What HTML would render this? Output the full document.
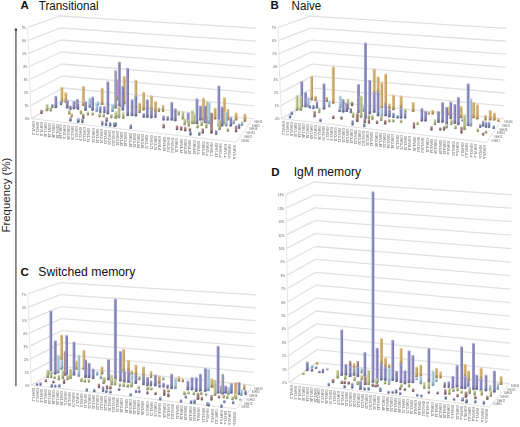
<!DOCTYPE html>
<html><head><meta charset="utf-8"><style>
html,body{margin:0;padding:0;background:#fff;}
svg{display:block;font-family:"Liberation Sans",sans-serif;}
</style></head><body>
<svg width="520" height="427" viewBox="0 0 520 427">
<rect width="520" height="427" fill="#fff"/>
<defs><linearGradient id="gP" x1="0" x2="1" y1="0" y2="0"><stop offset="0" stop-color="#aaa8d4"/><stop offset="0.45" stop-color="#8c8ac0"/><stop offset="1" stop-color="#76749e"/></linearGradient><linearGradient id="gO" x1="0" x2="1" y1="0" y2="0"><stop offset="0" stop-color="#e4c890"/><stop offset="0.45" stop-color="#d2ae6e"/><stop offset="1" stop-color="#b8965a"/></linearGradient><linearGradient id="gG" x1="0" x2="1" y1="0" y2="0"><stop offset="0" stop-color="#d4daa8"/><stop offset="0.45" stop-color="#bcc48c"/><stop offset="1" stop-color="#a2aa74"/></linearGradient><linearGradient id="gC" x1="0" x2="1" y1="0" y2="0"><stop offset="0" stop-color="#c6deea"/><stop offset="0.45" stop-color="#a8c8d8"/><stop offset="1" stop-color="#8cb0c4"/></linearGradient><linearGradient id="gB" x1="0" x2="1" y1="0" y2="0"><stop offset="0" stop-color="#a8b0d4"/><stop offset="0.45" stop-color="#8692bc"/><stop offset="1" stop-color="#6c7aa0"/></linearGradient><linearGradient id="gR" x1="0" x2="1" y1="0" y2="0"><stop offset="0" stop-color="#c4a0a0"/><stop offset="0.45" stop-color="#a88484"/><stop offset="1" stop-color="#886464"/></linearGradient><linearGradient id="gY" x1="0" x2="1" y1="0" y2="0"><stop offset="0" stop-color="#bcbac6"/><stop offset="0.45" stop-color="#a4a2b2"/><stop offset="1" stop-color="#8c8a9a"/></linearGradient><linearGradient id="shade" x1="0" x2="0" y1="0" y2="1"><stop offset="0" stop-color="#282838" stop-opacity="0"/><stop offset="1" stop-color="#282838" stop-opacity="0.28"/></linearGradient><filter id="soft" x="-5%" y="-5%" width="110%" height="110%"><feGaussianBlur stdDeviation="0.45"/></filter></defs>
<g filter="url(#soft)"><line x1="31.20" y1="118.60" x2="63.20" y2="100.00" stroke="#e1e1e1" stroke-width="1.3" opacity="1"/>
<line x1="63.20" y1="100.00" x2="254.20" y2="118.80" stroke="#e1e1e1" stroke-width="1.3" opacity="1"/>
<text x="29.20" y="120.20" font-size="4.0" fill="#555" text-anchor="end" textLength="4.3" lengthAdjust="spacingAndGlyphs">0%</text>
<line x1="30.70" y1="105.57" x2="62.71" y2="88.00" stroke="#e1e1e1" stroke-width="1.3" opacity="1"/>
<line x1="62.71" y1="88.00" x2="254.44" y2="105.86" stroke="#e1e1e1" stroke-width="1.3" opacity="1"/>
<text x="28.70" y="107.17" font-size="4.0" fill="#555" text-anchor="end" textLength="4.3" lengthAdjust="spacingAndGlyphs">1%</text>
<line x1="30.20" y1="92.54" x2="62.23" y2="76.00" stroke="#e1e1e1" stroke-width="1.3" opacity="1"/>
<line x1="62.23" y1="76.00" x2="254.69" y2="92.91" stroke="#e1e1e1" stroke-width="1.3" opacity="1"/>
<text x="28.20" y="94.14" font-size="4.0" fill="#555" text-anchor="end" textLength="4.3" lengthAdjust="spacingAndGlyphs">2%</text>
<line x1="29.70" y1="79.51" x2="61.74" y2="64.00" stroke="#e1e1e1" stroke-width="1.3" opacity="1"/>
<line x1="61.74" y1="64.00" x2="254.93" y2="79.97" stroke="#e1e1e1" stroke-width="1.3" opacity="1"/>
<text x="27.70" y="81.11" font-size="4.0" fill="#555" text-anchor="end" textLength="4.3" lengthAdjust="spacingAndGlyphs">3%</text>
<line x1="29.20" y1="66.49" x2="61.26" y2="52.00" stroke="#e1e1e1" stroke-width="1.3" opacity="1"/>
<line x1="61.26" y1="52.00" x2="255.17" y2="67.03" stroke="#e1e1e1" stroke-width="1.3" opacity="1"/>
<text x="27.20" y="68.09" font-size="4.0" fill="#555" text-anchor="end" textLength="4.3" lengthAdjust="spacingAndGlyphs">4%</text>
<line x1="28.70" y1="53.46" x2="60.77" y2="40.00" stroke="#e1e1e1" stroke-width="1.3" opacity="1"/>
<line x1="60.77" y1="40.00" x2="255.41" y2="54.09" stroke="#e1e1e1" stroke-width="1.3" opacity="1"/>
<text x="26.70" y="55.06" font-size="4.0" fill="#555" text-anchor="end" textLength="4.3" lengthAdjust="spacingAndGlyphs">5%</text>
<line x1="28.20" y1="40.43" x2="60.29" y2="28.00" stroke="#e1e1e1" stroke-width="1.3" opacity="1"/>
<line x1="60.29" y1="28.00" x2="255.66" y2="41.14" stroke="#e1e1e1" stroke-width="1.3" opacity="1"/>
<text x="26.20" y="42.03" font-size="4.0" fill="#555" text-anchor="end" textLength="4.3" lengthAdjust="spacingAndGlyphs">6%</text>
<line x1="27.70" y1="27.40" x2="59.80" y2="16.00" stroke="#e1e1e1" stroke-width="1.3" opacity="1"/>
<line x1="59.80" y1="16.00" x2="255.90" y2="28.20" stroke="#e1e1e1" stroke-width="1.3" opacity="1"/>
<text x="25.70" y="29.00" font-size="4.0" fill="#555" text-anchor="end" textLength="4.3" lengthAdjust="spacingAndGlyphs">7%</text>
<line x1="31.20" y1="118.60" x2="27.70" y2="27.40" stroke="#e4e4e4" stroke-width="0.9" opacity="1"/>
<line x1="31.20" y1="118.60" x2="236.40" y2="142.30" stroke="#d8d8d8" stroke-width="0.8" opacity="1"/>
<line x1="236.40" y1="142.30" x2="251.00" y2="121.00" stroke="#d8d8d8" stroke-width="0.8" opacity="1"/>
<text x="0" y="0" font-size="2.9" font-weight="bold" fill="#888" textLength="13.8" lengthAdjust="spacingAndGlyphs" transform="translate(32.15,121.20) rotate(90)">IGHV1-2</text>
<text x="0" y="0" font-size="2.9" font-weight="bold" fill="#888" textLength="13.8" lengthAdjust="spacingAndGlyphs" transform="translate(36.01,121.66) rotate(90)">IGHV1-3</text>
<text x="0" y="0" font-size="2.9" font-weight="bold" fill="#888" textLength="13.8" lengthAdjust="spacingAndGlyphs" transform="translate(39.89,122.12) rotate(90)">IGHV1-8</text>
<text x="0" y="0" font-size="2.9" font-weight="bold" fill="#888" textLength="14.2" lengthAdjust="spacingAndGlyphs" transform="translate(43.78,122.59) rotate(90)">IGHV1-18</text>
<text x="0" y="0" font-size="2.9" font-weight="bold" fill="#888" textLength="14.2" lengthAdjust="spacingAndGlyphs" transform="translate(47.69,123.05) rotate(90)">IGHV1-24</text>
<text x="0" y="0" font-size="2.9" font-weight="bold" fill="#888" textLength="14.2" lengthAdjust="spacingAndGlyphs" transform="translate(51.61,123.52) rotate(90)">IGHV1-46</text>
<text x="0" y="0" font-size="2.9" font-weight="bold" fill="#888" textLength="14.2" lengthAdjust="spacingAndGlyphs" transform="translate(55.54,123.99) rotate(90)">IGHV1-58</text>
<text x="0" y="0" font-size="2.9" font-weight="bold" fill="#888" textLength="14.2" lengthAdjust="spacingAndGlyphs" transform="translate(59.48,124.45) rotate(90)">IGHV1-69</text>
<text x="0" y="0" font-size="2.9" font-weight="bold" fill="#888" textLength="13.8" lengthAdjust="spacingAndGlyphs" transform="translate(63.44,124.93) rotate(90)">IGHV2-5</text>
<text x="0" y="0" font-size="2.9" font-weight="bold" fill="#888" textLength="14.2" lengthAdjust="spacingAndGlyphs" transform="translate(67.41,125.40) rotate(90)">IGHV2-26</text>
<text x="0" y="0" font-size="2.9" font-weight="bold" fill="#888" textLength="14.2" lengthAdjust="spacingAndGlyphs" transform="translate(71.40,125.87) rotate(90)">IGHV2-70</text>
<text x="0" y="0" font-size="2.9" font-weight="bold" fill="#888" textLength="13.8" lengthAdjust="spacingAndGlyphs" transform="translate(75.40,126.35) rotate(90)">IGHV3-7</text>
<text x="0" y="0" font-size="2.9" font-weight="bold" fill="#888" textLength="13.8" lengthAdjust="spacingAndGlyphs" transform="translate(79.41,126.83) rotate(90)">IGHV3-9</text>
<text x="0" y="0" font-size="2.9" font-weight="bold" fill="#888" textLength="14.2" lengthAdjust="spacingAndGlyphs" transform="translate(83.44,127.31) rotate(90)">IGHV3-11</text>
<text x="0" y="0" font-size="2.9" font-weight="bold" fill="#888" textLength="14.2" lengthAdjust="spacingAndGlyphs" transform="translate(87.48,127.79) rotate(90)">IGHV3-13</text>
<text x="0" y="0" font-size="2.9" font-weight="bold" fill="#888" textLength="14.2" lengthAdjust="spacingAndGlyphs" transform="translate(91.53,128.27) rotate(90)">IGHV3-15</text>
<text x="0" y="0" font-size="2.9" font-weight="bold" fill="#888" textLength="14.2" lengthAdjust="spacingAndGlyphs" transform="translate(95.60,128.76) rotate(90)">IGHV3-20</text>
<text x="0" y="0" font-size="2.9" font-weight="bold" fill="#888" textLength="14.2" lengthAdjust="spacingAndGlyphs" transform="translate(99.68,129.24) rotate(90)">IGHV3-21</text>
<text x="0" y="0" font-size="2.9" font-weight="bold" fill="#888" textLength="14.2" lengthAdjust="spacingAndGlyphs" transform="translate(103.77,129.73) rotate(90)">IGHV3-23</text>
<text x="0" y="0" font-size="2.9" font-weight="bold" fill="#888" textLength="14.2" lengthAdjust="spacingAndGlyphs" transform="translate(107.88,130.22) rotate(90)">IGHV3-30</text>
<text x="0" y="0" font-size="2.9" font-weight="bold" fill="#888" textLength="15.0" lengthAdjust="spacingAndGlyphs" transform="translate(112.00,130.71) rotate(90)">IGHV3-30-3</text>
<text x="0" y="0" font-size="2.9" font-weight="bold" fill="#888" textLength="14.2" lengthAdjust="spacingAndGlyphs" transform="translate(116.13,131.20) rotate(90)">IGHV3-33</text>
<text x="0" y="0" font-size="2.9" font-weight="bold" fill="#888" textLength="14.2" lengthAdjust="spacingAndGlyphs" transform="translate(120.28,131.69) rotate(90)">IGHV3-43</text>
<text x="0" y="0" font-size="2.9" font-weight="bold" fill="#888" textLength="14.2" lengthAdjust="spacingAndGlyphs" transform="translate(124.44,132.19) rotate(90)">IGHV3-48</text>
<text x="0" y="0" font-size="2.9" font-weight="bold" fill="#888" textLength="14.2" lengthAdjust="spacingAndGlyphs" transform="translate(128.62,132.69) rotate(90)">IGHV3-49</text>
<text x="0" y="0" font-size="2.9" font-weight="bold" fill="#888" textLength="14.2" lengthAdjust="spacingAndGlyphs" transform="translate(132.80,133.19) rotate(90)">IGHV3-53</text>
<text x="0" y="0" font-size="2.9" font-weight="bold" fill="#888" textLength="14.2" lengthAdjust="spacingAndGlyphs" transform="translate(137.01,133.69) rotate(90)">IGHV3-64</text>
<text x="0" y="0" font-size="2.9" font-weight="bold" fill="#888" textLength="14.2" lengthAdjust="spacingAndGlyphs" transform="translate(141.22,134.19) rotate(90)">IGHV3-66</text>
<text x="0" y="0" font-size="2.9" font-weight="bold" fill="#888" textLength="14.2" lengthAdjust="spacingAndGlyphs" transform="translate(145.45,134.69) rotate(90)">IGHV3-72</text>
<text x="0" y="0" font-size="2.9" font-weight="bold" fill="#888" textLength="14.2" lengthAdjust="spacingAndGlyphs" transform="translate(149.69,135.20) rotate(90)">IGHV3-73</text>
<text x="0" y="0" font-size="2.9" font-weight="bold" fill="#888" textLength="14.2" lengthAdjust="spacingAndGlyphs" transform="translate(153.95,135.70) rotate(90)">IGHV3-74</text>
<text x="0" y="0" font-size="2.9" font-weight="bold" fill="#888" textLength="13.8" lengthAdjust="spacingAndGlyphs" transform="translate(158.22,136.21) rotate(90)">IGHV4-4</text>
<text x="0" y="0" font-size="2.9" font-weight="bold" fill="#888" textLength="14.2" lengthAdjust="spacingAndGlyphs" transform="translate(162.50,136.72) rotate(90)">IGHV4-28</text>
<text x="0" y="0" font-size="2.9" font-weight="bold" fill="#888" textLength="15.0" lengthAdjust="spacingAndGlyphs" transform="translate(166.79,137.23) rotate(90)">IGHV4-30-2</text>
<text x="0" y="0" font-size="2.9" font-weight="bold" fill="#888" textLength="15.0" lengthAdjust="spacingAndGlyphs" transform="translate(171.10,137.75) rotate(90)">IGHV4-30-4</text>
<text x="0" y="0" font-size="2.9" font-weight="bold" fill="#888" textLength="14.2" lengthAdjust="spacingAndGlyphs" transform="translate(175.43,138.26) rotate(90)">IGHV4-31</text>
<text x="0" y="0" font-size="2.9" font-weight="bold" fill="#888" textLength="14.2" lengthAdjust="spacingAndGlyphs" transform="translate(179.76,138.78) rotate(90)">IGHV4-34</text>
<text x="0" y="0" font-size="2.9" font-weight="bold" fill="#888" textLength="14.2" lengthAdjust="spacingAndGlyphs" transform="translate(184.11,139.30) rotate(90)">IGHV4-39</text>
<text x="0" y="0" font-size="2.9" font-weight="bold" fill="#888" textLength="14.2" lengthAdjust="spacingAndGlyphs" transform="translate(188.48,139.82) rotate(90)">IGHV4-59</text>
<text x="0" y="0" font-size="2.9" font-weight="bold" fill="#888" textLength="14.2" lengthAdjust="spacingAndGlyphs" transform="translate(192.85,140.34) rotate(90)">IGHV4-61</text>
<text x="0" y="0" font-size="2.9" font-weight="bold" fill="#888" textLength="13.8" lengthAdjust="spacingAndGlyphs" transform="translate(197.24,140.86) rotate(90)">IGHV4-b</text>
<text x="0" y="0" font-size="2.9" font-weight="bold" fill="#888" textLength="14.2" lengthAdjust="spacingAndGlyphs" transform="translate(201.65,141.38) rotate(90)">IGHV5-51</text>
<text x="0" y="0" font-size="2.9" font-weight="bold" fill="#888" textLength="13.8" lengthAdjust="spacingAndGlyphs" transform="translate(206.06,141.91) rotate(90)">IGHV5-a</text>
<text x="0" y="0" font-size="2.9" font-weight="bold" fill="#888" textLength="13.8" lengthAdjust="spacingAndGlyphs" transform="translate(210.49,142.44) rotate(90)">IGHV6-1</text>
<text x="0" y="0" font-size="2.9" font-weight="bold" fill="#888" textLength="14.6" lengthAdjust="spacingAndGlyphs" transform="translate(214.94,142.97) rotate(90)">IGHV7-4-1</text>
<text x="0" y="0" font-size="2.9" font-weight="bold" fill="#888" textLength="13.8" lengthAdjust="spacingAndGlyphs" transform="translate(219.40,143.50) rotate(90)">IGHV3-d</text>
<text x="0" y="0" font-size="2.9" font-weight="bold" fill="#888" textLength="13.8" lengthAdjust="spacingAndGlyphs" transform="translate(223.87,144.03) rotate(90)">IGHV1-c</text>
<text x="0" y="0" font-size="2.9" font-weight="bold" fill="#888" textLength="13.8" lengthAdjust="spacingAndGlyphs" transform="translate(228.35,144.56) rotate(90)">IGHV3-h</text>
<text x="0" y="0" font-size="2.9" font-weight="bold" fill="#888" textLength="13.8" lengthAdjust="spacingAndGlyphs" transform="translate(232.85,145.10) rotate(90)">IGHV4-h</text>
<text x="241.40" y="141.70" font-size="3.0" fill="#666" textLength="8.2" lengthAdjust="spacingAndGlyphs">IGHJ1</text>
<text x="243.96" y="137.94" font-size="3.0" fill="#666" textLength="8.2" lengthAdjust="spacingAndGlyphs">IGHJ2</text>
<text x="246.52" y="134.18" font-size="3.0" fill="#666" textLength="8.2" lengthAdjust="spacingAndGlyphs">IGHJ3</text>
<text x="249.08" y="130.42" font-size="3.0" fill="#666" textLength="8.2" lengthAdjust="spacingAndGlyphs">IGHJ4</text>
<text x="251.64" y="126.66" font-size="3.0" fill="#666" textLength="8.2" lengthAdjust="spacingAndGlyphs">IGHJ5</text>
<text x="254.20" y="122.90" font-size="3.0" fill="#666" textLength="8.2" lengthAdjust="spacingAndGlyphs">IGHJ6</text>
<line x1="281.40" y1="118.70" x2="313.40" y2="100.10" stroke="#e1e1e1" stroke-width="1.3" opacity="1"/>
<line x1="313.40" y1="100.10" x2="504.40" y2="118.90" stroke="#e1e1e1" stroke-width="1.3" opacity="1"/>
<text x="279.40" y="120.30" font-size="4.0" fill="#555" text-anchor="end" textLength="4.3" lengthAdjust="spacingAndGlyphs">0%</text>
<line x1="280.90" y1="105.67" x2="312.91" y2="88.10" stroke="#e1e1e1" stroke-width="1.3" opacity="1"/>
<line x1="312.91" y1="88.10" x2="504.64" y2="105.96" stroke="#e1e1e1" stroke-width="1.3" opacity="1"/>
<text x="278.90" y="107.27" font-size="4.0" fill="#555" text-anchor="end" textLength="4.3" lengthAdjust="spacingAndGlyphs">1%</text>
<line x1="280.40" y1="92.64" x2="312.43" y2="76.10" stroke="#e1e1e1" stroke-width="1.3" opacity="1"/>
<line x1="312.43" y1="76.10" x2="504.89" y2="93.01" stroke="#e1e1e1" stroke-width="1.3" opacity="1"/>
<text x="278.40" y="94.24" font-size="4.0" fill="#555" text-anchor="end" textLength="4.3" lengthAdjust="spacingAndGlyphs">2%</text>
<line x1="279.90" y1="79.61" x2="311.94" y2="64.10" stroke="#e1e1e1" stroke-width="1.3" opacity="1"/>
<line x1="311.94" y1="64.10" x2="505.13" y2="80.07" stroke="#e1e1e1" stroke-width="1.3" opacity="1"/>
<text x="277.90" y="81.21" font-size="4.0" fill="#555" text-anchor="end" textLength="4.3" lengthAdjust="spacingAndGlyphs">3%</text>
<line x1="279.40" y1="66.59" x2="311.46" y2="52.10" stroke="#e1e1e1" stroke-width="1.3" opacity="1"/>
<line x1="311.46" y1="52.10" x2="505.37" y2="67.13" stroke="#e1e1e1" stroke-width="1.3" opacity="1"/>
<text x="277.40" y="68.19" font-size="4.0" fill="#555" text-anchor="end" textLength="4.3" lengthAdjust="spacingAndGlyphs">4%</text>
<line x1="278.90" y1="53.56" x2="310.97" y2="40.10" stroke="#e1e1e1" stroke-width="1.3" opacity="1"/>
<line x1="310.97" y1="40.10" x2="505.61" y2="54.19" stroke="#e1e1e1" stroke-width="1.3" opacity="1"/>
<text x="276.90" y="55.16" font-size="4.0" fill="#555" text-anchor="end" textLength="4.3" lengthAdjust="spacingAndGlyphs">5%</text>
<line x1="278.40" y1="40.53" x2="310.49" y2="28.10" stroke="#e1e1e1" stroke-width="1.3" opacity="1"/>
<line x1="310.49" y1="28.10" x2="505.86" y2="41.24" stroke="#e1e1e1" stroke-width="1.3" opacity="1"/>
<text x="276.40" y="42.13" font-size="4.0" fill="#555" text-anchor="end" textLength="4.3" lengthAdjust="spacingAndGlyphs">6%</text>
<line x1="277.90" y1="27.50" x2="310.00" y2="16.10" stroke="#e1e1e1" stroke-width="1.3" opacity="1"/>
<line x1="310.00" y1="16.10" x2="506.10" y2="28.30" stroke="#e1e1e1" stroke-width="1.3" opacity="1"/>
<text x="275.90" y="29.10" font-size="4.0" fill="#555" text-anchor="end" textLength="4.3" lengthAdjust="spacingAndGlyphs">7%</text>
<line x1="281.40" y1="118.70" x2="277.90" y2="27.50" stroke="#e4e4e4" stroke-width="0.9" opacity="1"/>
<line x1="281.40" y1="118.70" x2="486.60" y2="142.40" stroke="#d8d8d8" stroke-width="0.8" opacity="1"/>
<line x1="486.60" y1="142.40" x2="501.20" y2="121.10" stroke="#d8d8d8" stroke-width="0.8" opacity="1"/>
<text x="0" y="0" font-size="2.9" font-weight="bold" fill="#888" textLength="13.8" lengthAdjust="spacingAndGlyphs" transform="translate(282.35,121.30) rotate(90)">IGHV1-2</text>
<text x="0" y="0" font-size="2.9" font-weight="bold" fill="#888" textLength="13.8" lengthAdjust="spacingAndGlyphs" transform="translate(286.21,121.76) rotate(90)">IGHV1-3</text>
<text x="0" y="0" font-size="2.9" font-weight="bold" fill="#888" textLength="13.8" lengthAdjust="spacingAndGlyphs" transform="translate(290.09,122.22) rotate(90)">IGHV1-8</text>
<text x="0" y="0" font-size="2.9" font-weight="bold" fill="#888" textLength="14.2" lengthAdjust="spacingAndGlyphs" transform="translate(293.98,122.69) rotate(90)">IGHV1-18</text>
<text x="0" y="0" font-size="2.9" font-weight="bold" fill="#888" textLength="14.2" lengthAdjust="spacingAndGlyphs" transform="translate(297.89,123.15) rotate(90)">IGHV1-24</text>
<text x="0" y="0" font-size="2.9" font-weight="bold" fill="#888" textLength="14.2" lengthAdjust="spacingAndGlyphs" transform="translate(301.81,123.62) rotate(90)">IGHV1-46</text>
<text x="0" y="0" font-size="2.9" font-weight="bold" fill="#888" textLength="14.2" lengthAdjust="spacingAndGlyphs" transform="translate(305.74,124.09) rotate(90)">IGHV1-58</text>
<text x="0" y="0" font-size="2.9" font-weight="bold" fill="#888" textLength="14.2" lengthAdjust="spacingAndGlyphs" transform="translate(309.68,124.55) rotate(90)">IGHV1-69</text>
<text x="0" y="0" font-size="2.9" font-weight="bold" fill="#888" textLength="13.8" lengthAdjust="spacingAndGlyphs" transform="translate(313.64,125.03) rotate(90)">IGHV2-5</text>
<text x="0" y="0" font-size="2.9" font-weight="bold" fill="#888" textLength="14.2" lengthAdjust="spacingAndGlyphs" transform="translate(317.61,125.50) rotate(90)">IGHV2-26</text>
<text x="0" y="0" font-size="2.9" font-weight="bold" fill="#888" textLength="14.2" lengthAdjust="spacingAndGlyphs" transform="translate(321.60,125.97) rotate(90)">IGHV2-70</text>
<text x="0" y="0" font-size="2.9" font-weight="bold" fill="#888" textLength="13.8" lengthAdjust="spacingAndGlyphs" transform="translate(325.60,126.45) rotate(90)">IGHV3-7</text>
<text x="0" y="0" font-size="2.9" font-weight="bold" fill="#888" textLength="13.8" lengthAdjust="spacingAndGlyphs" transform="translate(329.61,126.93) rotate(90)">IGHV3-9</text>
<text x="0" y="0" font-size="2.9" font-weight="bold" fill="#888" textLength="14.2" lengthAdjust="spacingAndGlyphs" transform="translate(333.64,127.41) rotate(90)">IGHV3-11</text>
<text x="0" y="0" font-size="2.9" font-weight="bold" fill="#888" textLength="14.2" lengthAdjust="spacingAndGlyphs" transform="translate(337.68,127.89) rotate(90)">IGHV3-13</text>
<text x="0" y="0" font-size="2.9" font-weight="bold" fill="#888" textLength="14.2" lengthAdjust="spacingAndGlyphs" transform="translate(341.73,128.37) rotate(90)">IGHV3-15</text>
<text x="0" y="0" font-size="2.9" font-weight="bold" fill="#888" textLength="14.2" lengthAdjust="spacingAndGlyphs" transform="translate(345.80,128.86) rotate(90)">IGHV3-20</text>
<text x="0" y="0" font-size="2.9" font-weight="bold" fill="#888" textLength="14.2" lengthAdjust="spacingAndGlyphs" transform="translate(349.88,129.34) rotate(90)">IGHV3-21</text>
<text x="0" y="0" font-size="2.9" font-weight="bold" fill="#888" textLength="14.2" lengthAdjust="spacingAndGlyphs" transform="translate(353.97,129.83) rotate(90)">IGHV3-23</text>
<text x="0" y="0" font-size="2.9" font-weight="bold" fill="#888" textLength="14.2" lengthAdjust="spacingAndGlyphs" transform="translate(358.08,130.32) rotate(90)">IGHV3-30</text>
<text x="0" y="0" font-size="2.9" font-weight="bold" fill="#888" textLength="15.0" lengthAdjust="spacingAndGlyphs" transform="translate(362.20,130.81) rotate(90)">IGHV3-30-3</text>
<text x="0" y="0" font-size="2.9" font-weight="bold" fill="#888" textLength="14.2" lengthAdjust="spacingAndGlyphs" transform="translate(366.33,131.30) rotate(90)">IGHV3-33</text>
<text x="0" y="0" font-size="2.9" font-weight="bold" fill="#888" textLength="14.2" lengthAdjust="spacingAndGlyphs" transform="translate(370.48,131.79) rotate(90)">IGHV3-43</text>
<text x="0" y="0" font-size="2.9" font-weight="bold" fill="#888" textLength="14.2" lengthAdjust="spacingAndGlyphs" transform="translate(374.64,132.29) rotate(90)">IGHV3-48</text>
<text x="0" y="0" font-size="2.9" font-weight="bold" fill="#888" textLength="14.2" lengthAdjust="spacingAndGlyphs" transform="translate(378.82,132.79) rotate(90)">IGHV3-49</text>
<text x="0" y="0" font-size="2.9" font-weight="bold" fill="#888" textLength="14.2" lengthAdjust="spacingAndGlyphs" transform="translate(383.00,133.29) rotate(90)">IGHV3-53</text>
<text x="0" y="0" font-size="2.9" font-weight="bold" fill="#888" textLength="14.2" lengthAdjust="spacingAndGlyphs" transform="translate(387.21,133.79) rotate(90)">IGHV3-64</text>
<text x="0" y="0" font-size="2.9" font-weight="bold" fill="#888" textLength="14.2" lengthAdjust="spacingAndGlyphs" transform="translate(391.42,134.29) rotate(90)">IGHV3-66</text>
<text x="0" y="0" font-size="2.9" font-weight="bold" fill="#888" textLength="14.2" lengthAdjust="spacingAndGlyphs" transform="translate(395.65,134.79) rotate(90)">IGHV3-72</text>
<text x="0" y="0" font-size="2.9" font-weight="bold" fill="#888" textLength="14.2" lengthAdjust="spacingAndGlyphs" transform="translate(399.89,135.30) rotate(90)">IGHV3-73</text>
<text x="0" y="0" font-size="2.9" font-weight="bold" fill="#888" textLength="14.2" lengthAdjust="spacingAndGlyphs" transform="translate(404.15,135.80) rotate(90)">IGHV3-74</text>
<text x="0" y="0" font-size="2.9" font-weight="bold" fill="#888" textLength="13.8" lengthAdjust="spacingAndGlyphs" transform="translate(408.42,136.31) rotate(90)">IGHV4-4</text>
<text x="0" y="0" font-size="2.9" font-weight="bold" fill="#888" textLength="14.2" lengthAdjust="spacingAndGlyphs" transform="translate(412.70,136.82) rotate(90)">IGHV4-28</text>
<text x="0" y="0" font-size="2.9" font-weight="bold" fill="#888" textLength="15.0" lengthAdjust="spacingAndGlyphs" transform="translate(416.99,137.33) rotate(90)">IGHV4-30-2</text>
<text x="0" y="0" font-size="2.9" font-weight="bold" fill="#888" textLength="15.0" lengthAdjust="spacingAndGlyphs" transform="translate(421.30,137.85) rotate(90)">IGHV4-30-4</text>
<text x="0" y="0" font-size="2.9" font-weight="bold" fill="#888" textLength="14.2" lengthAdjust="spacingAndGlyphs" transform="translate(425.63,138.36) rotate(90)">IGHV4-31</text>
<text x="0" y="0" font-size="2.9" font-weight="bold" fill="#888" textLength="14.2" lengthAdjust="spacingAndGlyphs" transform="translate(429.96,138.88) rotate(90)">IGHV4-34</text>
<text x="0" y="0" font-size="2.9" font-weight="bold" fill="#888" textLength="14.2" lengthAdjust="spacingAndGlyphs" transform="translate(434.31,139.40) rotate(90)">IGHV4-39</text>
<text x="0" y="0" font-size="2.9" font-weight="bold" fill="#888" textLength="14.2" lengthAdjust="spacingAndGlyphs" transform="translate(438.68,139.92) rotate(90)">IGHV4-59</text>
<text x="0" y="0" font-size="2.9" font-weight="bold" fill="#888" textLength="14.2" lengthAdjust="spacingAndGlyphs" transform="translate(443.05,140.44) rotate(90)">IGHV4-61</text>
<text x="0" y="0" font-size="2.9" font-weight="bold" fill="#888" textLength="13.8" lengthAdjust="spacingAndGlyphs" transform="translate(447.44,140.96) rotate(90)">IGHV4-b</text>
<text x="0" y="0" font-size="2.9" font-weight="bold" fill="#888" textLength="14.2" lengthAdjust="spacingAndGlyphs" transform="translate(451.85,141.48) rotate(90)">IGHV5-51</text>
<text x="0" y="0" font-size="2.9" font-weight="bold" fill="#888" textLength="13.8" lengthAdjust="spacingAndGlyphs" transform="translate(456.26,142.01) rotate(90)">IGHV5-a</text>
<text x="0" y="0" font-size="2.9" font-weight="bold" fill="#888" textLength="13.8" lengthAdjust="spacingAndGlyphs" transform="translate(460.69,142.54) rotate(90)">IGHV6-1</text>
<text x="0" y="0" font-size="2.9" font-weight="bold" fill="#888" textLength="14.6" lengthAdjust="spacingAndGlyphs" transform="translate(465.14,143.07) rotate(90)">IGHV7-4-1</text>
<text x="0" y="0" font-size="2.9" font-weight="bold" fill="#888" textLength="13.8" lengthAdjust="spacingAndGlyphs" transform="translate(469.60,143.60) rotate(90)">IGHV3-d</text>
<text x="0" y="0" font-size="2.9" font-weight="bold" fill="#888" textLength="13.8" lengthAdjust="spacingAndGlyphs" transform="translate(474.07,144.13) rotate(90)">IGHV1-c</text>
<text x="0" y="0" font-size="2.9" font-weight="bold" fill="#888" textLength="13.8" lengthAdjust="spacingAndGlyphs" transform="translate(478.55,144.66) rotate(90)">IGHV3-h</text>
<text x="0" y="0" font-size="2.9" font-weight="bold" fill="#888" textLength="13.8" lengthAdjust="spacingAndGlyphs" transform="translate(483.05,145.20) rotate(90)">IGHV4-h</text>
<text x="491.60" y="141.80" font-size="3.0" fill="#666" textLength="8.2" lengthAdjust="spacingAndGlyphs">IGHJ1</text>
<text x="494.16" y="138.04" font-size="3.0" fill="#666" textLength="8.2" lengthAdjust="spacingAndGlyphs">IGHJ2</text>
<text x="496.72" y="134.28" font-size="3.0" fill="#666" textLength="8.2" lengthAdjust="spacingAndGlyphs">IGHJ3</text>
<text x="499.28" y="130.52" font-size="3.0" fill="#666" textLength="8.2" lengthAdjust="spacingAndGlyphs">IGHJ4</text>
<text x="501.84" y="126.76" font-size="3.0" fill="#666" textLength="8.2" lengthAdjust="spacingAndGlyphs">IGHJ5</text>
<text x="504.40" y="123.00" font-size="3.0" fill="#666" textLength="8.2" lengthAdjust="spacingAndGlyphs">IGHJ6</text>
<line x1="31.30" y1="385.20" x2="63.30" y2="366.60" stroke="#e1e1e1" stroke-width="1.3" opacity="1"/>
<line x1="63.30" y1="366.60" x2="254.30" y2="385.40" stroke="#e1e1e1" stroke-width="1.3" opacity="1"/>
<text x="29.30" y="386.80" font-size="4.0" fill="#555" text-anchor="end" textLength="4.3" lengthAdjust="spacingAndGlyphs">0%</text>
<line x1="30.80" y1="372.17" x2="62.81" y2="354.60" stroke="#e1e1e1" stroke-width="1.3" opacity="1"/>
<line x1="62.81" y1="354.60" x2="254.54" y2="372.46" stroke="#e1e1e1" stroke-width="1.3" opacity="1"/>
<text x="28.80" y="373.77" font-size="4.0" fill="#555" text-anchor="end" textLength="4.3" lengthAdjust="spacingAndGlyphs">1%</text>
<line x1="30.30" y1="359.14" x2="62.33" y2="342.60" stroke="#e1e1e1" stroke-width="1.3" opacity="1"/>
<line x1="62.33" y1="342.60" x2="254.79" y2="359.51" stroke="#e1e1e1" stroke-width="1.3" opacity="1"/>
<text x="28.30" y="360.74" font-size="4.0" fill="#555" text-anchor="end" textLength="4.3" lengthAdjust="spacingAndGlyphs">2%</text>
<line x1="29.80" y1="346.11" x2="61.84" y2="330.60" stroke="#e1e1e1" stroke-width="1.3" opacity="1"/>
<line x1="61.84" y1="330.60" x2="255.03" y2="346.57" stroke="#e1e1e1" stroke-width="1.3" opacity="1"/>
<text x="27.80" y="347.71" font-size="4.0" fill="#555" text-anchor="end" textLength="4.3" lengthAdjust="spacingAndGlyphs">3%</text>
<line x1="29.30" y1="333.09" x2="61.36" y2="318.60" stroke="#e1e1e1" stroke-width="1.3" opacity="1"/>
<line x1="61.36" y1="318.60" x2="255.27" y2="333.63" stroke="#e1e1e1" stroke-width="1.3" opacity="1"/>
<text x="27.30" y="334.69" font-size="4.0" fill="#555" text-anchor="end" textLength="4.3" lengthAdjust="spacingAndGlyphs">4%</text>
<line x1="28.80" y1="320.06" x2="60.87" y2="306.60" stroke="#e1e1e1" stroke-width="1.3" opacity="1"/>
<line x1="60.87" y1="306.60" x2="255.51" y2="320.69" stroke="#e1e1e1" stroke-width="1.3" opacity="1"/>
<text x="26.80" y="321.66" font-size="4.0" fill="#555" text-anchor="end" textLength="4.3" lengthAdjust="spacingAndGlyphs">5%</text>
<line x1="28.30" y1="307.03" x2="60.39" y2="294.60" stroke="#e1e1e1" stroke-width="1.3" opacity="1"/>
<line x1="60.39" y1="294.60" x2="255.76" y2="307.74" stroke="#e1e1e1" stroke-width="1.3" opacity="1"/>
<text x="26.30" y="308.63" font-size="4.0" fill="#555" text-anchor="end" textLength="4.3" lengthAdjust="spacingAndGlyphs">6%</text>
<line x1="27.80" y1="294.00" x2="59.90" y2="282.60" stroke="#e1e1e1" stroke-width="1.3" opacity="1"/>
<line x1="59.90" y1="282.60" x2="256.00" y2="294.80" stroke="#e1e1e1" stroke-width="1.3" opacity="1"/>
<text x="25.80" y="295.60" font-size="4.0" fill="#555" text-anchor="end" textLength="4.3" lengthAdjust="spacingAndGlyphs">7%</text>
<line x1="31.30" y1="385.20" x2="27.80" y2="294.00" stroke="#e4e4e4" stroke-width="0.9" opacity="1"/>
<line x1="31.30" y1="385.20" x2="236.50" y2="408.90" stroke="#d8d8d8" stroke-width="0.8" opacity="1"/>
<line x1="236.50" y1="408.90" x2="251.10" y2="387.60" stroke="#d8d8d8" stroke-width="0.8" opacity="1"/>
<text x="0" y="0" font-size="2.9" font-weight="bold" fill="#888" textLength="13.8" lengthAdjust="spacingAndGlyphs" transform="translate(32.25,387.80) rotate(90)">IGHV1-2</text>
<text x="0" y="0" font-size="2.9" font-weight="bold" fill="#888" textLength="13.8" lengthAdjust="spacingAndGlyphs" transform="translate(36.11,388.26) rotate(90)">IGHV1-3</text>
<text x="0" y="0" font-size="2.9" font-weight="bold" fill="#888" textLength="13.8" lengthAdjust="spacingAndGlyphs" transform="translate(39.99,388.72) rotate(90)">IGHV1-8</text>
<text x="0" y="0" font-size="2.9" font-weight="bold" fill="#888" textLength="14.2" lengthAdjust="spacingAndGlyphs" transform="translate(43.88,389.19) rotate(90)">IGHV1-18</text>
<text x="0" y="0" font-size="2.9" font-weight="bold" fill="#888" textLength="14.2" lengthAdjust="spacingAndGlyphs" transform="translate(47.79,389.65) rotate(90)">IGHV1-24</text>
<text x="0" y="0" font-size="2.9" font-weight="bold" fill="#888" textLength="14.2" lengthAdjust="spacingAndGlyphs" transform="translate(51.71,390.12) rotate(90)">IGHV1-46</text>
<text x="0" y="0" font-size="2.9" font-weight="bold" fill="#888" textLength="14.2" lengthAdjust="spacingAndGlyphs" transform="translate(55.64,390.59) rotate(90)">IGHV1-58</text>
<text x="0" y="0" font-size="2.9" font-weight="bold" fill="#888" textLength="14.2" lengthAdjust="spacingAndGlyphs" transform="translate(59.58,391.05) rotate(90)">IGHV1-69</text>
<text x="0" y="0" font-size="2.9" font-weight="bold" fill="#888" textLength="13.8" lengthAdjust="spacingAndGlyphs" transform="translate(63.54,391.53) rotate(90)">IGHV2-5</text>
<text x="0" y="0" font-size="2.9" font-weight="bold" fill="#888" textLength="14.2" lengthAdjust="spacingAndGlyphs" transform="translate(67.51,392.00) rotate(90)">IGHV2-26</text>
<text x="0" y="0" font-size="2.9" font-weight="bold" fill="#888" textLength="14.2" lengthAdjust="spacingAndGlyphs" transform="translate(71.50,392.47) rotate(90)">IGHV2-70</text>
<text x="0" y="0" font-size="2.9" font-weight="bold" fill="#888" textLength="13.8" lengthAdjust="spacingAndGlyphs" transform="translate(75.50,392.95) rotate(90)">IGHV3-7</text>
<text x="0" y="0" font-size="2.9" font-weight="bold" fill="#888" textLength="13.8" lengthAdjust="spacingAndGlyphs" transform="translate(79.51,393.43) rotate(90)">IGHV3-9</text>
<text x="0" y="0" font-size="2.9" font-weight="bold" fill="#888" textLength="14.2" lengthAdjust="spacingAndGlyphs" transform="translate(83.54,393.91) rotate(90)">IGHV3-11</text>
<text x="0" y="0" font-size="2.9" font-weight="bold" fill="#888" textLength="14.2" lengthAdjust="spacingAndGlyphs" transform="translate(87.58,394.39) rotate(90)">IGHV3-13</text>
<text x="0" y="0" font-size="2.9" font-weight="bold" fill="#888" textLength="14.2" lengthAdjust="spacingAndGlyphs" transform="translate(91.63,394.87) rotate(90)">IGHV3-15</text>
<text x="0" y="0" font-size="2.9" font-weight="bold" fill="#888" textLength="14.2" lengthAdjust="spacingAndGlyphs" transform="translate(95.70,395.36) rotate(90)">IGHV3-20</text>
<text x="0" y="0" font-size="2.9" font-weight="bold" fill="#888" textLength="14.2" lengthAdjust="spacingAndGlyphs" transform="translate(99.78,395.84) rotate(90)">IGHV3-21</text>
<text x="0" y="0" font-size="2.9" font-weight="bold" fill="#888" textLength="14.2" lengthAdjust="spacingAndGlyphs" transform="translate(103.87,396.33) rotate(90)">IGHV3-23</text>
<text x="0" y="0" font-size="2.9" font-weight="bold" fill="#888" textLength="14.2" lengthAdjust="spacingAndGlyphs" transform="translate(107.98,396.82) rotate(90)">IGHV3-30</text>
<text x="0" y="0" font-size="2.9" font-weight="bold" fill="#888" textLength="15.0" lengthAdjust="spacingAndGlyphs" transform="translate(112.10,397.31) rotate(90)">IGHV3-30-3</text>
<text x="0" y="0" font-size="2.9" font-weight="bold" fill="#888" textLength="14.2" lengthAdjust="spacingAndGlyphs" transform="translate(116.23,397.80) rotate(90)">IGHV3-33</text>
<text x="0" y="0" font-size="2.9" font-weight="bold" fill="#888" textLength="14.2" lengthAdjust="spacingAndGlyphs" transform="translate(120.38,398.29) rotate(90)">IGHV3-43</text>
<text x="0" y="0" font-size="2.9" font-weight="bold" fill="#888" textLength="14.2" lengthAdjust="spacingAndGlyphs" transform="translate(124.54,398.79) rotate(90)">IGHV3-48</text>
<text x="0" y="0" font-size="2.9" font-weight="bold" fill="#888" textLength="14.2" lengthAdjust="spacingAndGlyphs" transform="translate(128.72,399.29) rotate(90)">IGHV3-49</text>
<text x="0" y="0" font-size="2.9" font-weight="bold" fill="#888" textLength="14.2" lengthAdjust="spacingAndGlyphs" transform="translate(132.90,399.79) rotate(90)">IGHV3-53</text>
<text x="0" y="0" font-size="2.9" font-weight="bold" fill="#888" textLength="14.2" lengthAdjust="spacingAndGlyphs" transform="translate(137.11,400.29) rotate(90)">IGHV3-64</text>
<text x="0" y="0" font-size="2.9" font-weight="bold" fill="#888" textLength="14.2" lengthAdjust="spacingAndGlyphs" transform="translate(141.32,400.79) rotate(90)">IGHV3-66</text>
<text x="0" y="0" font-size="2.9" font-weight="bold" fill="#888" textLength="14.2" lengthAdjust="spacingAndGlyphs" transform="translate(145.55,401.29) rotate(90)">IGHV3-72</text>
<text x="0" y="0" font-size="2.9" font-weight="bold" fill="#888" textLength="14.2" lengthAdjust="spacingAndGlyphs" transform="translate(149.79,401.80) rotate(90)">IGHV3-73</text>
<text x="0" y="0" font-size="2.9" font-weight="bold" fill="#888" textLength="14.2" lengthAdjust="spacingAndGlyphs" transform="translate(154.05,402.30) rotate(90)">IGHV3-74</text>
<text x="0" y="0" font-size="2.9" font-weight="bold" fill="#888" textLength="13.8" lengthAdjust="spacingAndGlyphs" transform="translate(158.32,402.81) rotate(90)">IGHV4-4</text>
<text x="0" y="0" font-size="2.9" font-weight="bold" fill="#888" textLength="14.2" lengthAdjust="spacingAndGlyphs" transform="translate(162.60,403.32) rotate(90)">IGHV4-28</text>
<text x="0" y="0" font-size="2.9" font-weight="bold" fill="#888" textLength="15.0" lengthAdjust="spacingAndGlyphs" transform="translate(166.89,403.83) rotate(90)">IGHV4-30-2</text>
<text x="0" y="0" font-size="2.9" font-weight="bold" fill="#888" textLength="15.0" lengthAdjust="spacingAndGlyphs" transform="translate(171.20,404.35) rotate(90)">IGHV4-30-4</text>
<text x="0" y="0" font-size="2.9" font-weight="bold" fill="#888" textLength="14.2" lengthAdjust="spacingAndGlyphs" transform="translate(175.53,404.86) rotate(90)">IGHV4-31</text>
<text x="0" y="0" font-size="2.9" font-weight="bold" fill="#888" textLength="14.2" lengthAdjust="spacingAndGlyphs" transform="translate(179.86,405.38) rotate(90)">IGHV4-34</text>
<text x="0" y="0" font-size="2.9" font-weight="bold" fill="#888" textLength="14.2" lengthAdjust="spacingAndGlyphs" transform="translate(184.21,405.90) rotate(90)">IGHV4-39</text>
<text x="0" y="0" font-size="2.9" font-weight="bold" fill="#888" textLength="14.2" lengthAdjust="spacingAndGlyphs" transform="translate(188.58,406.42) rotate(90)">IGHV4-59</text>
<text x="0" y="0" font-size="2.9" font-weight="bold" fill="#888" textLength="14.2" lengthAdjust="spacingAndGlyphs" transform="translate(192.95,406.94) rotate(90)">IGHV4-61</text>
<text x="0" y="0" font-size="2.9" font-weight="bold" fill="#888" textLength="13.8" lengthAdjust="spacingAndGlyphs" transform="translate(197.34,407.46) rotate(90)">IGHV4-b</text>
<text x="0" y="0" font-size="2.9" font-weight="bold" fill="#888" textLength="14.2" lengthAdjust="spacingAndGlyphs" transform="translate(201.75,407.98) rotate(90)">IGHV5-51</text>
<text x="0" y="0" font-size="2.9" font-weight="bold" fill="#888" textLength="13.8" lengthAdjust="spacingAndGlyphs" transform="translate(206.16,408.51) rotate(90)">IGHV5-a</text>
<text x="0" y="0" font-size="2.9" font-weight="bold" fill="#888" textLength="13.8" lengthAdjust="spacingAndGlyphs" transform="translate(210.59,409.04) rotate(90)">IGHV6-1</text>
<text x="0" y="0" font-size="2.9" font-weight="bold" fill="#888" textLength="14.6" lengthAdjust="spacingAndGlyphs" transform="translate(215.04,409.57) rotate(90)">IGHV7-4-1</text>
<text x="0" y="0" font-size="2.9" font-weight="bold" fill="#888" textLength="13.8" lengthAdjust="spacingAndGlyphs" transform="translate(219.50,410.10) rotate(90)">IGHV3-d</text>
<text x="0" y="0" font-size="2.9" font-weight="bold" fill="#888" textLength="13.8" lengthAdjust="spacingAndGlyphs" transform="translate(223.97,410.63) rotate(90)">IGHV1-c</text>
<text x="0" y="0" font-size="2.9" font-weight="bold" fill="#888" textLength="13.8" lengthAdjust="spacingAndGlyphs" transform="translate(228.45,411.16) rotate(90)">IGHV3-h</text>
<text x="0" y="0" font-size="2.9" font-weight="bold" fill="#888" textLength="13.8" lengthAdjust="spacingAndGlyphs" transform="translate(232.95,411.70) rotate(90)">IGHV4-h</text>
<text x="241.50" y="408.30" font-size="3.0" fill="#666" textLength="8.2" lengthAdjust="spacingAndGlyphs">IGHJ1</text>
<text x="244.06" y="404.54" font-size="3.0" fill="#666" textLength="8.2" lengthAdjust="spacingAndGlyphs">IGHJ2</text>
<text x="246.62" y="400.78" font-size="3.0" fill="#666" textLength="8.2" lengthAdjust="spacingAndGlyphs">IGHJ3</text>
<text x="249.18" y="397.02" font-size="3.0" fill="#666" textLength="8.2" lengthAdjust="spacingAndGlyphs">IGHJ4</text>
<text x="251.74" y="393.26" font-size="3.0" fill="#666" textLength="8.2" lengthAdjust="spacingAndGlyphs">IGHJ5</text>
<text x="254.30" y="389.50" font-size="3.0" fill="#666" textLength="8.2" lengthAdjust="spacingAndGlyphs">IGHJ6</text>
<line x1="288.80" y1="382.50" x2="317.10" y2="362.60" stroke="#e1e1e1" stroke-width="1.3" opacity="1"/>
<line x1="317.10" y1="362.60" x2="509.50" y2="383.60" stroke="#e1e1e1" stroke-width="1.3" opacity="1"/>
<text x="286.80" y="384.10" font-size="4.0" fill="#555" text-anchor="end" textLength="4.3" lengthAdjust="spacingAndGlyphs">0%</text>
<line x1="288.59" y1="369.09" x2="316.89" y2="349.70" stroke="#e1e1e1" stroke-width="1.3" opacity="1"/>
<line x1="316.89" y1="349.70" x2="509.66" y2="370.10" stroke="#e1e1e1" stroke-width="1.3" opacity="1"/>
<text x="286.59" y="370.69" font-size="4.0" fill="#555" text-anchor="end" textLength="4.3" lengthAdjust="spacingAndGlyphs">1%</text>
<line x1="288.37" y1="355.67" x2="316.69" y2="336.80" stroke="#e1e1e1" stroke-width="1.3" opacity="1"/>
<line x1="316.69" y1="336.80" x2="509.83" y2="356.60" stroke="#e1e1e1" stroke-width="1.3" opacity="1"/>
<text x="286.37" y="357.27" font-size="4.0" fill="#555" text-anchor="end" textLength="4.3" lengthAdjust="spacingAndGlyphs">2%</text>
<line x1="288.16" y1="342.26" x2="316.48" y2="323.90" stroke="#e1e1e1" stroke-width="1.3" opacity="1"/>
<line x1="316.48" y1="323.90" x2="509.99" y2="343.10" stroke="#e1e1e1" stroke-width="1.3" opacity="1"/>
<text x="286.16" y="343.86" font-size="4.0" fill="#555" text-anchor="end" textLength="4.3" lengthAdjust="spacingAndGlyphs">3%</text>
<line x1="287.94" y1="328.84" x2="316.27" y2="311.00" stroke="#e1e1e1" stroke-width="1.3" opacity="1"/>
<line x1="316.27" y1="311.00" x2="510.16" y2="329.60" stroke="#e1e1e1" stroke-width="1.3" opacity="1"/>
<text x="285.94" y="330.44" font-size="4.0" fill="#555" text-anchor="end" textLength="4.3" lengthAdjust="spacingAndGlyphs">4%</text>
<line x1="287.73" y1="315.43" x2="316.06" y2="298.10" stroke="#e1e1e1" stroke-width="1.3" opacity="1"/>
<line x1="316.06" y1="298.10" x2="510.32" y2="316.10" stroke="#e1e1e1" stroke-width="1.3" opacity="1"/>
<text x="285.73" y="317.03" font-size="4.0" fill="#555" text-anchor="end" textLength="4.3" lengthAdjust="spacingAndGlyphs">5%</text>
<line x1="287.51" y1="302.01" x2="315.86" y2="285.20" stroke="#e1e1e1" stroke-width="1.3" opacity="1"/>
<line x1="315.86" y1="285.20" x2="510.49" y2="302.60" stroke="#e1e1e1" stroke-width="1.3" opacity="1"/>
<text x="285.51" y="303.61" font-size="4.0" fill="#555" text-anchor="end" textLength="4.3" lengthAdjust="spacingAndGlyphs">6%</text>
<line x1="287.30" y1="288.60" x2="315.65" y2="272.30" stroke="#e1e1e1" stroke-width="1.3" opacity="1"/>
<line x1="315.65" y1="272.30" x2="510.65" y2="289.10" stroke="#e1e1e1" stroke-width="1.3" opacity="1"/>
<text x="285.30" y="290.20" font-size="4.0" fill="#555" text-anchor="end" textLength="4.3" lengthAdjust="spacingAndGlyphs">7%</text>
<line x1="287.09" y1="275.19" x2="315.44" y2="259.40" stroke="#e1e1e1" stroke-width="1.3" opacity="1"/>
<line x1="315.44" y1="259.40" x2="510.81" y2="275.60" stroke="#e1e1e1" stroke-width="1.3" opacity="1"/>
<text x="285.09" y="276.79" font-size="4.0" fill="#555" text-anchor="end" textLength="4.3" lengthAdjust="spacingAndGlyphs">8%</text>
<line x1="286.87" y1="261.77" x2="315.24" y2="246.50" stroke="#e1e1e1" stroke-width="1.3" opacity="1"/>
<line x1="315.24" y1="246.50" x2="510.98" y2="262.10" stroke="#e1e1e1" stroke-width="1.3" opacity="1"/>
<text x="284.87" y="263.37" font-size="4.0" fill="#555" text-anchor="end" textLength="4.3" lengthAdjust="spacingAndGlyphs">9%</text>
<line x1="286.66" y1="248.36" x2="315.03" y2="233.60" stroke="#e1e1e1" stroke-width="1.3" opacity="1"/>
<line x1="315.03" y1="233.60" x2="511.14" y2="248.60" stroke="#e1e1e1" stroke-width="1.3" opacity="1"/>
<text x="284.66" y="249.96" font-size="4.0" fill="#555" text-anchor="end" textLength="6.0" lengthAdjust="spacingAndGlyphs">10%</text>
<line x1="286.44" y1="234.94" x2="314.82" y2="220.70" stroke="#e1e1e1" stroke-width="1.3" opacity="1"/>
<line x1="314.82" y1="220.70" x2="511.31" y2="235.10" stroke="#e1e1e1" stroke-width="1.3" opacity="1"/>
<text x="284.44" y="236.54" font-size="4.0" fill="#555" text-anchor="end" textLength="6.0" lengthAdjust="spacingAndGlyphs">11%</text>
<line x1="286.23" y1="221.53" x2="314.61" y2="207.80" stroke="#e1e1e1" stroke-width="1.3" opacity="1"/>
<line x1="314.61" y1="207.80" x2="511.47" y2="221.60" stroke="#e1e1e1" stroke-width="1.3" opacity="1"/>
<text x="284.23" y="223.13" font-size="4.0" fill="#555" text-anchor="end" textLength="6.0" lengthAdjust="spacingAndGlyphs">12%</text>
<line x1="286.01" y1="208.11" x2="314.41" y2="194.90" stroke="#e1e1e1" stroke-width="1.3" opacity="1"/>
<line x1="314.41" y1="194.90" x2="511.64" y2="208.10" stroke="#e1e1e1" stroke-width="1.3" opacity="1"/>
<text x="284.01" y="209.71" font-size="4.0" fill="#555" text-anchor="end" textLength="6.0" lengthAdjust="spacingAndGlyphs">13%</text>
<line x1="285.80" y1="194.70" x2="314.20" y2="182.00" stroke="#e1e1e1" stroke-width="1.3" opacity="1"/>
<line x1="314.20" y1="182.00" x2="511.80" y2="194.60" stroke="#e1e1e1" stroke-width="1.3" opacity="1"/>
<text x="283.80" y="196.30" font-size="4.0" fill="#555" text-anchor="end" textLength="6.0" lengthAdjust="spacingAndGlyphs">14%</text>
<line x1="288.80" y1="382.50" x2="285.80" y2="194.70" stroke="#e4e4e4" stroke-width="0.9" opacity="1"/>
<line x1="288.80" y1="382.50" x2="489.60" y2="407.00" stroke="#d8d8d8" stroke-width="0.8" opacity="1"/>
<line x1="489.60" y1="407.00" x2="508.50" y2="384.50" stroke="#d8d8d8" stroke-width="0.8" opacity="1"/>
<text x="0" y="0" font-size="2.9" font-weight="bold" fill="#888" textLength="13.8" lengthAdjust="spacingAndGlyphs" transform="translate(289.95,385.20) rotate(90)">IGHV1-2</text>
<text x="0" y="0" font-size="2.9" font-weight="bold" fill="#888" textLength="13.8" lengthAdjust="spacingAndGlyphs" transform="translate(293.86,385.68) rotate(90)">IGHV1-3</text>
<text x="0" y="0" font-size="2.9" font-weight="bold" fill="#888" textLength="13.8" lengthAdjust="spacingAndGlyphs" transform="translate(297.78,386.15) rotate(90)">IGHV1-8</text>
<text x="0" y="0" font-size="2.9" font-weight="bold" fill="#888" textLength="14.2" lengthAdjust="spacingAndGlyphs" transform="translate(301.70,386.63) rotate(90)">IGHV1-18</text>
<text x="0" y="0" font-size="2.9" font-weight="bold" fill="#888" textLength="14.2" lengthAdjust="spacingAndGlyphs" transform="translate(305.63,387.11) rotate(90)">IGHV1-24</text>
<text x="0" y="0" font-size="2.9" font-weight="bold" fill="#888" textLength="14.2" lengthAdjust="spacingAndGlyphs" transform="translate(309.56,387.59) rotate(90)">IGHV1-46</text>
<text x="0" y="0" font-size="2.9" font-weight="bold" fill="#888" textLength="14.2" lengthAdjust="spacingAndGlyphs" transform="translate(313.51,388.06) rotate(90)">IGHV1-58</text>
<text x="0" y="0" font-size="2.9" font-weight="bold" fill="#888" textLength="14.2" lengthAdjust="spacingAndGlyphs" transform="translate(317.45,388.54) rotate(90)">IGHV1-69</text>
<text x="0" y="0" font-size="2.9" font-weight="bold" fill="#888" textLength="13.8" lengthAdjust="spacingAndGlyphs" transform="translate(321.41,389.03) rotate(90)">IGHV2-5</text>
<text x="0" y="0" font-size="2.9" font-weight="bold" fill="#888" textLength="14.2" lengthAdjust="spacingAndGlyphs" transform="translate(325.37,389.51) rotate(90)">IGHV2-26</text>
<text x="0" y="0" font-size="2.9" font-weight="bold" fill="#888" textLength="14.2" lengthAdjust="spacingAndGlyphs" transform="translate(329.34,389.99) rotate(90)">IGHV2-70</text>
<text x="0" y="0" font-size="2.9" font-weight="bold" fill="#888" textLength="13.8" lengthAdjust="spacingAndGlyphs" transform="translate(333.31,390.47) rotate(90)">IGHV3-7</text>
<text x="0" y="0" font-size="2.9" font-weight="bold" fill="#888" textLength="13.8" lengthAdjust="spacingAndGlyphs" transform="translate(337.29,390.96) rotate(90)">IGHV3-9</text>
<text x="0" y="0" font-size="2.9" font-weight="bold" fill="#888" textLength="14.2" lengthAdjust="spacingAndGlyphs" transform="translate(341.28,391.44) rotate(90)">IGHV3-11</text>
<text x="0" y="0" font-size="2.9" font-weight="bold" fill="#888" textLength="14.2" lengthAdjust="spacingAndGlyphs" transform="translate(345.27,391.93) rotate(90)">IGHV3-13</text>
<text x="0" y="0" font-size="2.9" font-weight="bold" fill="#888" textLength="14.2" lengthAdjust="spacingAndGlyphs" transform="translate(349.27,392.41) rotate(90)">IGHV3-15</text>
<text x="0" y="0" font-size="2.9" font-weight="bold" fill="#888" textLength="14.2" lengthAdjust="spacingAndGlyphs" transform="translate(353.28,392.90) rotate(90)">IGHV3-20</text>
<text x="0" y="0" font-size="2.9" font-weight="bold" fill="#888" textLength="14.2" lengthAdjust="spacingAndGlyphs" transform="translate(357.29,393.39) rotate(90)">IGHV3-21</text>
<text x="0" y="0" font-size="2.9" font-weight="bold" fill="#888" textLength="14.2" lengthAdjust="spacingAndGlyphs" transform="translate(361.31,393.88) rotate(90)">IGHV3-23</text>
<text x="0" y="0" font-size="2.9" font-weight="bold" fill="#888" textLength="14.2" lengthAdjust="spacingAndGlyphs" transform="translate(365.33,394.37) rotate(90)">IGHV3-30</text>
<text x="0" y="0" font-size="2.9" font-weight="bold" fill="#888" textLength="15.0" lengthAdjust="spacingAndGlyphs" transform="translate(369.36,394.86) rotate(90)">IGHV3-30-3</text>
<text x="0" y="0" font-size="2.9" font-weight="bold" fill="#888" textLength="14.2" lengthAdjust="spacingAndGlyphs" transform="translate(373.40,395.35) rotate(90)">IGHV3-33</text>
<text x="0" y="0" font-size="2.9" font-weight="bold" fill="#888" textLength="14.2" lengthAdjust="spacingAndGlyphs" transform="translate(377.45,395.84) rotate(90)">IGHV3-43</text>
<text x="0" y="0" font-size="2.9" font-weight="bold" fill="#888" textLength="14.2" lengthAdjust="spacingAndGlyphs" transform="translate(381.50,396.33) rotate(90)">IGHV3-48</text>
<text x="0" y="0" font-size="2.9" font-weight="bold" fill="#888" textLength="14.2" lengthAdjust="spacingAndGlyphs" transform="translate(385.56,396.83) rotate(90)">IGHV3-49</text>
<text x="0" y="0" font-size="2.9" font-weight="bold" fill="#888" textLength="14.2" lengthAdjust="spacingAndGlyphs" transform="translate(389.62,397.32) rotate(90)">IGHV3-53</text>
<text x="0" y="0" font-size="2.9" font-weight="bold" fill="#888" textLength="14.2" lengthAdjust="spacingAndGlyphs" transform="translate(393.69,397.81) rotate(90)">IGHV3-64</text>
<text x="0" y="0" font-size="2.9" font-weight="bold" fill="#888" textLength="14.2" lengthAdjust="spacingAndGlyphs" transform="translate(397.77,398.31) rotate(90)">IGHV3-66</text>
<text x="0" y="0" font-size="2.9" font-weight="bold" fill="#888" textLength="14.2" lengthAdjust="spacingAndGlyphs" transform="translate(401.85,398.81) rotate(90)">IGHV3-72</text>
<text x="0" y="0" font-size="2.9" font-weight="bold" fill="#888" textLength="14.2" lengthAdjust="spacingAndGlyphs" transform="translate(405.94,399.30) rotate(90)">IGHV3-73</text>
<text x="0" y="0" font-size="2.9" font-weight="bold" fill="#888" textLength="14.2" lengthAdjust="spacingAndGlyphs" transform="translate(410.03,399.80) rotate(90)">IGHV3-74</text>
<text x="0" y="0" font-size="2.9" font-weight="bold" fill="#888" textLength="13.8" lengthAdjust="spacingAndGlyphs" transform="translate(414.14,400.30) rotate(90)">IGHV4-4</text>
<text x="0" y="0" font-size="2.9" font-weight="bold" fill="#888" textLength="14.2" lengthAdjust="spacingAndGlyphs" transform="translate(418.24,400.80) rotate(90)">IGHV4-28</text>
<text x="0" y="0" font-size="2.9" font-weight="bold" fill="#888" textLength="15.0" lengthAdjust="spacingAndGlyphs" transform="translate(422.36,401.30) rotate(90)">IGHV4-30-2</text>
<text x="0" y="0" font-size="2.9" font-weight="bold" fill="#888" textLength="15.0" lengthAdjust="spacingAndGlyphs" transform="translate(426.48,401.80) rotate(90)">IGHV4-30-4</text>
<text x="0" y="0" font-size="2.9" font-weight="bold" fill="#888" textLength="14.2" lengthAdjust="spacingAndGlyphs" transform="translate(430.61,402.30) rotate(90)">IGHV4-31</text>
<text x="0" y="0" font-size="2.9" font-weight="bold" fill="#888" textLength="14.2" lengthAdjust="spacingAndGlyphs" transform="translate(434.74,402.81) rotate(90)">IGHV4-34</text>
<text x="0" y="0" font-size="2.9" font-weight="bold" fill="#888" textLength="14.2" lengthAdjust="spacingAndGlyphs" transform="translate(438.88,403.31) rotate(90)">IGHV4-39</text>
<text x="0" y="0" font-size="2.9" font-weight="bold" fill="#888" textLength="14.2" lengthAdjust="spacingAndGlyphs" transform="translate(443.03,403.81) rotate(90)">IGHV4-59</text>
<text x="0" y="0" font-size="2.9" font-weight="bold" fill="#888" textLength="14.2" lengthAdjust="spacingAndGlyphs" transform="translate(447.18,404.32) rotate(90)">IGHV4-61</text>
<text x="0" y="0" font-size="2.9" font-weight="bold" fill="#888" textLength="13.8" lengthAdjust="spacingAndGlyphs" transform="translate(451.34,404.83) rotate(90)">IGHV4-b</text>
<text x="0" y="0" font-size="2.9" font-weight="bold" fill="#888" textLength="14.2" lengthAdjust="spacingAndGlyphs" transform="translate(455.51,405.33) rotate(90)">IGHV5-51</text>
<text x="0" y="0" font-size="2.9" font-weight="bold" fill="#888" textLength="13.8" lengthAdjust="spacingAndGlyphs" transform="translate(459.68,405.84) rotate(90)">IGHV5-a</text>
<text x="0" y="0" font-size="2.9" font-weight="bold" fill="#888" textLength="13.8" lengthAdjust="spacingAndGlyphs" transform="translate(463.86,406.35) rotate(90)">IGHV6-1</text>
<text x="0" y="0" font-size="2.9" font-weight="bold" fill="#888" textLength="14.6" lengthAdjust="spacingAndGlyphs" transform="translate(468.04,406.86) rotate(90)">IGHV7-4-1</text>
<text x="0" y="0" font-size="2.9" font-weight="bold" fill="#888" textLength="13.8" lengthAdjust="spacingAndGlyphs" transform="translate(472.24,407.37) rotate(90)">IGHV3-d</text>
<text x="0" y="0" font-size="2.9" font-weight="bold" fill="#888" textLength="13.8" lengthAdjust="spacingAndGlyphs" transform="translate(476.43,407.88) rotate(90)">IGHV1-c</text>
<text x="0" y="0" font-size="2.9" font-weight="bold" fill="#888" textLength="13.8" lengthAdjust="spacingAndGlyphs" transform="translate(480.64,408.39) rotate(90)">IGHV3-h</text>
<text x="0" y="0" font-size="2.9" font-weight="bold" fill="#888" textLength="13.8" lengthAdjust="spacingAndGlyphs" transform="translate(484.85,408.90) rotate(90)">IGHV4-h</text>
<text x="493.60" y="405.20" font-size="3.0" fill="#666" textLength="8.2" lengthAdjust="spacingAndGlyphs">IGHJ1</text>
<text x="497.04" y="401.60" font-size="3.0" fill="#666" textLength="8.2" lengthAdjust="spacingAndGlyphs">IGHJ2</text>
<text x="500.48" y="398.00" font-size="3.0" fill="#666" textLength="8.2" lengthAdjust="spacingAndGlyphs">IGHJ3</text>
<text x="503.92" y="394.40" font-size="3.0" fill="#666" textLength="8.2" lengthAdjust="spacingAndGlyphs">IGHJ4</text>
<text x="507.36" y="390.80" font-size="3.0" fill="#666" textLength="8.2" lengthAdjust="spacingAndGlyphs">IGHJ5</text>
<text x="510.80" y="387.20" font-size="3.0" fill="#666" textLength="8.2" lengthAdjust="spacingAndGlyphs">IGHJ6</text>
<rect x="376.60" y="77.00" width="2.80" height="15.20" fill="url(#gO)"/>
<ellipse cx="378.00" cy="77.00" rx="1.40" ry="0.7" fill="#e4c890"/>
<ellipse cx="378.00" cy="92.20" rx="1.40" ry="0.7" fill="#b8965a"/>
<rect x="376.60" y="88.20" width="2.80" height="4.00" fill="url(#shade)"/>
<rect x="372.70" y="69.30" width="2.80" height="24.10" fill="url(#gO)"/>
<ellipse cx="374.10" cy="69.30" rx="1.40" ry="0.7" fill="#e4c890"/>
<ellipse cx="374.10" cy="93.40" rx="1.40" ry="0.7" fill="#b8965a"/>
<rect x="372.70" y="89.40" width="2.80" height="4.00" fill="url(#shade)"/>
<rect x="310.20" y="76.40" width="2.80" height="23.40" fill="url(#gO)"/>
<ellipse cx="311.60" cy="76.40" rx="1.40" ry="0.7" fill="#e4c890"/>
<ellipse cx="311.60" cy="99.80" rx="1.40" ry="0.7" fill="#b8965a"/>
<rect x="310.20" y="95.80" width="2.80" height="4.00" fill="url(#shade)"/>
<rect x="115.50" y="79.60" width="2.80" height="20.40" fill="url(#gO)"/>
<ellipse cx="116.90" cy="79.60" rx="1.40" ry="0.7" fill="#e4c890"/>
<ellipse cx="116.90" cy="100.00" rx="1.40" ry="0.7" fill="#b8965a"/>
<rect x="115.50" y="96.00" width="2.80" height="4.00" fill="url(#shade)"/>
<rect x="134.40" y="80.20" width="2.80" height="19.80" fill="url(#gO)"/>
<ellipse cx="135.80" cy="80.20" rx="1.40" ry="0.7" fill="#e4c890"/>
<ellipse cx="135.80" cy="100.00" rx="1.40" ry="0.7" fill="#b8965a"/>
<rect x="134.40" y="96.00" width="2.80" height="4.00" fill="url(#shade)"/>
<rect x="314.30" y="96.30" width="2.40" height="4.20" fill="url(#gO)"/>
<ellipse cx="315.50" cy="96.30" rx="1.20" ry="0.7" fill="#e4c890"/>
<ellipse cx="315.50" cy="100.50" rx="1.20" ry="0.7" fill="#b8965a"/>
<rect x="314.30" y="96.50" width="2.40" height="4.00" fill="url(#shade)"/>
<rect x="325.60" y="97.50" width="2.40" height="4.00" fill="url(#gO)"/>
<ellipse cx="326.80" cy="97.50" rx="1.20" ry="0.7" fill="#e4c890"/>
<ellipse cx="326.80" cy="101.50" rx="1.20" ry="0.7" fill="#b8965a"/>
<rect x="325.60" y="97.50" width="2.40" height="4.00" fill="url(#shade)"/>
<rect x="60.40" y="87.60" width="2.80" height="14.60" fill="url(#gO)"/>
<ellipse cx="61.80" cy="87.60" rx="1.40" ry="0.7" fill="#e4c890"/>
<ellipse cx="61.80" cy="102.20" rx="1.40" ry="0.7" fill="#b8965a"/>
<rect x="60.40" y="98.20" width="2.80" height="4.00" fill="url(#shade)"/>
<rect x="64.30" y="92.90" width="2.80" height="9.30" fill="url(#gO)"/>
<ellipse cx="65.70" cy="92.90" rx="1.40" ry="0.7" fill="#e4c890"/>
<ellipse cx="65.70" cy="102.20" rx="1.40" ry="0.7" fill="#b8965a"/>
<rect x="64.30" y="98.20" width="2.80" height="4.00" fill="url(#shade)"/>
<rect x="331.80" y="67.00" width="2.80" height="36.20" fill="url(#gO)"/>
<ellipse cx="333.20" cy="67.00" rx="1.40" ry="0.7" fill="#e4c890"/>
<ellipse cx="333.20" cy="103.20" rx="1.40" ry="0.7" fill="#b8965a"/>
<rect x="331.80" y="99.20" width="2.80" height="4.00" fill="url(#shade)"/>
<rect x="75.60" y="99.90" width="2.40" height="3.50" fill="url(#gG)"/>
<ellipse cx="76.80" cy="99.90" rx="1.20" ry="0.7" fill="#d4daa8"/>
<ellipse cx="76.80" cy="103.40" rx="1.20" ry="0.7" fill="#a2aa74"/>
<rect x="75.60" y="99.90" width="2.40" height="3.50" fill="url(#shade)"/>
<rect x="122.70" y="76.70" width="2.80" height="27.30" fill="url(#gO)"/>
<ellipse cx="124.10" cy="76.70" rx="1.40" ry="0.7" fill="#e4c890"/>
<ellipse cx="124.10" cy="104.00" rx="1.40" ry="0.7" fill="#b8965a"/>
<rect x="122.70" y="100.00" width="2.80" height="4.00" fill="url(#shade)"/>
<rect x="100.60" y="88.40" width="2.80" height="16.10" fill="url(#gO)"/>
<ellipse cx="102.00" cy="88.40" rx="1.40" ry="0.7" fill="#e4c890"/>
<ellipse cx="102.00" cy="104.50" rx="1.40" ry="0.7" fill="#b8965a"/>
<rect x="100.60" y="100.50" width="2.80" height="4.00" fill="url(#shade)"/>
<rect x="59.80" y="101.70" width="2.40" height="2.90" fill="url(#gB)"/>
<ellipse cx="61.00" cy="101.70" rx="1.20" ry="0.7" fill="#a8b0d4"/>
<ellipse cx="61.00" cy="104.60" rx="1.20" ry="0.7" fill="#6c7aa0"/>
<rect x="59.80" y="101.70" width="2.40" height="2.90" fill="url(#shade)"/>
<rect x="96.60" y="101.80" width="2.40" height="3.20" fill="url(#gC)"/>
<ellipse cx="97.80" cy="101.80" rx="1.20" ry="0.7" fill="#c6deea"/>
<ellipse cx="97.80" cy="105.00" rx="1.20" ry="0.7" fill="#8cb0c4"/>
<rect x="96.60" y="101.80" width="2.40" height="3.20" fill="url(#shade)"/>
<rect x="384.20" y="74.10" width="2.80" height="31.00" fill="url(#gO)"/>
<ellipse cx="385.60" cy="74.10" rx="1.40" ry="0.7" fill="#e4c890"/>
<ellipse cx="385.60" cy="105.10" rx="1.40" ry="0.7" fill="#b8965a"/>
<rect x="384.20" y="101.10" width="2.80" height="4.00" fill="url(#shade)"/>
<rect x="81.90" y="86.60" width="2.80" height="18.90" fill="url(#gO)"/>
<ellipse cx="83.30" cy="86.60" rx="1.40" ry="0.7" fill="#e4c890"/>
<ellipse cx="83.30" cy="105.50" rx="1.40" ry="0.7" fill="#b8965a"/>
<rect x="81.90" y="101.50" width="2.80" height="4.00" fill="url(#shade)"/>
<rect x="350.80" y="102.20" width="2.40" height="3.30" fill="url(#gR)"/>
<ellipse cx="352.00" cy="102.20" rx="1.20" ry="0.7" fill="#c4a0a0"/>
<ellipse cx="352.00" cy="105.50" rx="1.20" ry="0.7" fill="#886464"/>
<rect x="350.80" y="102.20" width="2.40" height="3.30" fill="url(#shade)"/>
<rect x="117.90" y="62.30" width="2.80" height="44.40" fill="url(#gP)"/>
<ellipse cx="119.30" cy="62.30" rx="1.40" ry="0.7" fill="#aaa8d4"/>
<ellipse cx="119.30" cy="106.70" rx="1.40" ry="0.7" fill="#76749e"/>
<rect x="117.90" y="102.70" width="2.80" height="4.00" fill="url(#shade)"/>
<rect x="304.10" y="92.80" width="2.80" height="13.90" fill="url(#gP)"/>
<ellipse cx="305.50" cy="92.80" rx="1.40" ry="0.7" fill="#aaa8d4"/>
<ellipse cx="305.50" cy="106.70" rx="1.40" ry="0.7" fill="#76749e"/>
<rect x="304.10" y="102.70" width="2.80" height="4.00" fill="url(#shade)"/>
<rect x="306.70" y="97.50" width="2.80" height="9.20" fill="url(#gC)"/>
<ellipse cx="308.10" cy="97.50" rx="1.40" ry="0.7" fill="#c6deea"/>
<ellipse cx="308.10" cy="106.70" rx="1.40" ry="0.7" fill="#8cb0c4"/>
<rect x="306.70" y="102.70" width="2.80" height="4.00" fill="url(#shade)"/>
<rect x="328.00" y="101.00" width="2.40" height="5.70" fill="url(#gC)"/>
<ellipse cx="329.20" cy="101.00" rx="1.20" ry="0.7" fill="#c6deea"/>
<ellipse cx="329.20" cy="106.70" rx="1.20" ry="0.7" fill="#8cb0c4"/>
<rect x="328.00" y="102.70" width="2.40" height="4.00" fill="url(#shade)"/>
<rect x="300.30" y="81.70" width="2.80" height="25.10" fill="url(#gP)"/>
<ellipse cx="301.70" cy="81.70" rx="1.40" ry="0.7" fill="#aaa8d4"/>
<ellipse cx="301.70" cy="106.80" rx="1.40" ry="0.7" fill="#76749e"/>
<rect x="300.30" y="102.80" width="2.80" height="4.00" fill="url(#shade)"/>
<rect x="88.20" y="98.50" width="2.80" height="8.80" fill="url(#gC)"/>
<ellipse cx="89.60" cy="98.50" rx="1.40" ry="0.7" fill="#c6deea"/>
<ellipse cx="89.60" cy="107.30" rx="1.40" ry="0.7" fill="#8cb0c4"/>
<rect x="88.20" y="103.30" width="2.80" height="4.00" fill="url(#shade)"/>
<rect x="51.00" y="104.60" width="2.40" height="2.90" fill="url(#gB)"/>
<ellipse cx="52.20" cy="104.60" rx="1.20" ry="0.7" fill="#a8b0d4"/>
<ellipse cx="52.20" cy="107.50" rx="1.20" ry="0.7" fill="#6c7aa0"/>
<rect x="51.00" y="104.60" width="2.40" height="2.90" fill="url(#shade)"/>
<rect x="54.40" y="96.40" width="2.80" height="11.10" fill="url(#gP)"/>
<ellipse cx="55.80" cy="96.40" rx="1.40" ry="0.7" fill="#aaa8d4"/>
<ellipse cx="55.80" cy="107.50" rx="1.40" ry="0.7" fill="#76749e"/>
<rect x="54.40" y="103.50" width="2.80" height="4.00" fill="url(#shade)"/>
<rect x="399.60" y="96.30" width="2.80" height="11.20" fill="url(#gO)"/>
<ellipse cx="401.00" cy="96.30" rx="1.40" ry="0.7" fill="#e4c890"/>
<ellipse cx="401.00" cy="107.50" rx="1.40" ry="0.7" fill="#b8965a"/>
<rect x="399.60" y="103.50" width="2.80" height="4.00" fill="url(#shade)"/>
<rect x="75.90" y="99.70" width="2.80" height="8.20" fill="url(#gP)"/>
<ellipse cx="77.30" cy="99.70" rx="1.40" ry="0.7" fill="#aaa8d4"/>
<ellipse cx="77.30" cy="107.90" rx="1.40" ry="0.7" fill="#76749e"/>
<rect x="75.90" y="103.90" width="2.80" height="4.00" fill="url(#shade)"/>
<rect x="308.70" y="105.50" width="2.40" height="2.40" fill="url(#gB)"/>
<ellipse cx="309.90" cy="105.50" rx="1.20" ry="0.7" fill="#a8b0d4"/>
<ellipse cx="309.90" cy="107.90" rx="1.20" ry="0.7" fill="#6c7aa0"/>
<rect x="308.70" y="105.50" width="2.40" height="2.40" fill="url(#shade)"/>
<rect x="315.70" y="102.00" width="2.40" height="5.90" fill="url(#gP)"/>
<ellipse cx="316.90" cy="102.00" rx="1.20" ry="0.7" fill="#aaa8d4"/>
<ellipse cx="316.90" cy="107.90" rx="1.20" ry="0.7" fill="#76749e"/>
<rect x="315.70" y="103.90" width="2.40" height="4.00" fill="url(#shade)"/>
<rect x="338.80" y="96.30" width="2.80" height="11.60" fill="url(#gC)"/>
<ellipse cx="340.20" cy="96.30" rx="1.40" ry="0.7" fill="#c6deea"/>
<ellipse cx="340.20" cy="107.90" rx="1.40" ry="0.7" fill="#8cb0c4"/>
<rect x="338.80" y="103.90" width="2.80" height="4.00" fill="url(#shade)"/>
<rect x="114.10" y="70.80" width="2.80" height="37.20" fill="url(#gY)"/>
<ellipse cx="115.50" cy="70.80" rx="1.40" ry="0.7" fill="#bcbac6"/>
<ellipse cx="115.50" cy="108.00" rx="1.40" ry="0.7" fill="#8c8a9a"/>
<rect x="114.10" y="104.00" width="2.80" height="4.00" fill="url(#shade)"/>
<rect x="65.80" y="100.50" width="2.80" height="7.60" fill="url(#gP)"/>
<ellipse cx="67.20" cy="100.50" rx="1.40" ry="0.7" fill="#aaa8d4"/>
<ellipse cx="67.20" cy="108.10" rx="1.40" ry="0.7" fill="#76749e"/>
<rect x="65.80" y="104.10" width="2.80" height="4.00" fill="url(#shade)"/>
<rect x="312.20" y="105.50" width="2.40" height="3.00" fill="url(#gB)"/>
<ellipse cx="313.40" cy="105.50" rx="1.20" ry="0.7" fill="#a8b0d4"/>
<ellipse cx="313.40" cy="108.50" rx="1.20" ry="0.7" fill="#6c7aa0"/>
<rect x="312.20" y="105.50" width="2.40" height="3.00" fill="url(#shade)"/>
<rect x="380.30" y="82.90" width="2.80" height="25.70" fill="url(#gO)"/>
<ellipse cx="381.70" cy="82.90" rx="1.40" ry="0.7" fill="#e4c890"/>
<ellipse cx="381.70" cy="108.60" rx="1.40" ry="0.7" fill="#b8965a"/>
<rect x="380.30" y="104.60" width="2.80" height="4.00" fill="url(#shade)"/>
<rect x="388.10" y="104.00" width="2.40" height="4.60" fill="url(#gO)"/>
<ellipse cx="389.30" cy="104.00" rx="1.20" ry="0.7" fill="#e4c890"/>
<ellipse cx="389.30" cy="108.60" rx="1.20" ry="0.7" fill="#b8965a"/>
<rect x="388.10" y="104.60" width="2.40" height="4.00" fill="url(#shade)"/>
<rect x="72.50" y="101.70" width="2.80" height="7.00" fill="url(#gP)"/>
<ellipse cx="73.90" cy="101.70" rx="1.40" ry="0.7" fill="#aaa8d4"/>
<ellipse cx="73.90" cy="108.70" rx="1.40" ry="0.7" fill="#76749e"/>
<rect x="72.50" y="104.70" width="2.80" height="4.00" fill="url(#shade)"/>
<rect x="322.50" y="84.00" width="2.80" height="25.00" fill="url(#gP)"/>
<ellipse cx="323.90" cy="84.00" rx="1.40" ry="0.7" fill="#aaa8d4"/>
<ellipse cx="323.90" cy="109.00" rx="1.40" ry="0.7" fill="#76749e"/>
<rect x="322.50" y="105.00" width="2.80" height="4.00" fill="url(#shade)"/>
<rect x="346.40" y="99.20" width="2.80" height="9.80" fill="url(#gG)"/>
<ellipse cx="347.80" cy="99.20" rx="1.40" ry="0.7" fill="#d4daa8"/>
<ellipse cx="347.80" cy="109.00" rx="1.40" ry="0.7" fill="#a2aa74"/>
<rect x="346.40" y="105.00" width="2.80" height="4.00" fill="url(#shade)"/>
<rect x="69.20" y="106.30" width="2.40" height="3.00" fill="url(#gP)"/>
<ellipse cx="70.40" cy="106.30" rx="1.20" ry="0.7" fill="#aaa8d4"/>
<ellipse cx="70.40" cy="109.30" rx="1.20" ry="0.7" fill="#76749e"/>
<rect x="69.20" y="106.30" width="2.40" height="3.00" fill="url(#shade)"/>
<rect x="76.80" y="103.40" width="2.40" height="5.90" fill="url(#gP)"/>
<ellipse cx="78.00" cy="103.40" rx="1.20" ry="0.7" fill="#aaa8d4"/>
<ellipse cx="78.00" cy="109.30" rx="1.20" ry="0.7" fill="#76749e"/>
<rect x="76.80" y="105.30" width="2.40" height="4.00" fill="url(#shade)"/>
<rect x="392.00" y="95.20" width="2.80" height="14.60" fill="url(#gO)"/>
<ellipse cx="393.40" cy="95.20" rx="1.40" ry="0.7" fill="#e4c890"/>
<ellipse cx="393.40" cy="109.80" rx="1.40" ry="0.7" fill="#b8965a"/>
<rect x="392.00" y="105.80" width="2.80" height="4.00" fill="url(#shade)"/>
<rect x="121.40" y="86.60" width="2.80" height="23.40" fill="url(#gP)"/>
<ellipse cx="122.80" cy="86.60" rx="1.40" ry="0.7" fill="#aaa8d4"/>
<ellipse cx="122.80" cy="110.00" rx="1.40" ry="0.7" fill="#76749e"/>
<rect x="121.40" y="106.00" width="2.80" height="4.00" fill="url(#shade)"/>
<rect x="142.10" y="92.50" width="2.80" height="17.50" fill="url(#gO)"/>
<ellipse cx="143.50" cy="92.50" rx="1.40" ry="0.7" fill="#e4c890"/>
<ellipse cx="143.50" cy="110.00" rx="1.40" ry="0.7" fill="#b8965a"/>
<rect x="142.10" y="106.00" width="2.80" height="4.00" fill="url(#shade)"/>
<rect x="149.90" y="96.00" width="2.80" height="14.00" fill="url(#gO)"/>
<ellipse cx="151.30" cy="96.00" rx="1.40" ry="0.7" fill="#e4c890"/>
<ellipse cx="151.30" cy="110.00" rx="1.40" ry="0.7" fill="#b8965a"/>
<rect x="149.90" y="106.00" width="2.80" height="4.00" fill="url(#shade)"/>
<rect x="84.10" y="102.00" width="2.80" height="8.20" fill="url(#gP)"/>
<ellipse cx="85.50" cy="102.00" rx="1.40" ry="0.7" fill="#aaa8d4"/>
<ellipse cx="85.50" cy="110.20" rx="1.40" ry="0.7" fill="#76749e"/>
<rect x="84.10" y="106.20" width="2.80" height="4.00" fill="url(#shade)"/>
<rect x="91.20" y="97.20" width="2.80" height="13.00" fill="url(#gP)"/>
<ellipse cx="92.60" cy="97.20" rx="1.40" ry="0.7" fill="#aaa8d4"/>
<ellipse cx="92.60" cy="110.20" rx="1.40" ry="0.7" fill="#76749e"/>
<rect x="91.20" y="106.20" width="2.80" height="4.00" fill="url(#shade)"/>
<rect x="295.60" y="95.70" width="2.80" height="14.50" fill="url(#gG)"/>
<ellipse cx="297.00" cy="95.70" rx="1.40" ry="0.7" fill="#d4daa8"/>
<ellipse cx="297.00" cy="110.20" rx="1.40" ry="0.7" fill="#a2aa74"/>
<rect x="295.60" y="106.20" width="2.80" height="4.00" fill="url(#shade)"/>
<rect x="299.40" y="97.30" width="2.80" height="12.90" fill="url(#gG)"/>
<ellipse cx="300.80" cy="97.30" rx="1.40" ry="0.7" fill="#d4daa8"/>
<ellipse cx="300.80" cy="110.20" rx="1.40" ry="0.7" fill="#a2aa74"/>
<rect x="299.40" y="106.20" width="2.80" height="4.00" fill="url(#shade)"/>
<rect x="45.60" y="104.60" width="2.80" height="6.10" fill="url(#gG)"/>
<ellipse cx="47.00" cy="104.60" rx="1.40" ry="0.7" fill="#d4daa8"/>
<ellipse cx="47.00" cy="110.70" rx="1.40" ry="0.7" fill="#a2aa74"/>
<rect x="45.60" y="106.70" width="2.80" height="4.00" fill="url(#shade)"/>
<rect x="49.60" y="107.50" width="2.40" height="3.50" fill="url(#gG)"/>
<ellipse cx="50.80" cy="107.50" rx="1.20" ry="0.7" fill="#d4daa8"/>
<ellipse cx="50.80" cy="111.00" rx="1.20" ry="0.7" fill="#a2aa74"/>
<rect x="49.60" y="107.50" width="2.40" height="3.50" fill="url(#shade)"/>
<rect x="95.30" y="103.20" width="2.80" height="8.20" fill="url(#gC)"/>
<ellipse cx="96.70" cy="103.20" rx="1.40" ry="0.7" fill="#c6deea"/>
<ellipse cx="96.70" cy="111.40" rx="1.40" ry="0.7" fill="#8cb0c4"/>
<rect x="95.30" y="107.40" width="2.80" height="4.00" fill="url(#shade)"/>
<rect x="111.10" y="104.40" width="2.80" height="7.00" fill="url(#gC)"/>
<ellipse cx="112.50" cy="104.40" rx="1.40" ry="0.7" fill="#c6deea"/>
<ellipse cx="112.50" cy="111.40" rx="1.40" ry="0.7" fill="#8cb0c4"/>
<rect x="111.10" y="107.40" width="2.80" height="4.00" fill="url(#shade)"/>
<rect x="157.70" y="108.00" width="2.40" height="3.40" fill="url(#gO)"/>
<ellipse cx="158.90" cy="108.00" rx="1.20" ry="0.7" fill="#e4c890"/>
<ellipse cx="158.90" cy="111.40" rx="1.20" ry="0.7" fill="#b8965a"/>
<rect x="157.70" y="108.00" width="2.40" height="3.40" fill="url(#shade)"/>
<rect x="161.80" y="105.50" width="2.40" height="5.90" fill="url(#gO)"/>
<ellipse cx="163.00" cy="105.50" rx="1.20" ry="0.7" fill="#e4c890"/>
<ellipse cx="163.00" cy="111.40" rx="1.20" ry="0.7" fill="#b8965a"/>
<rect x="161.80" y="107.40" width="2.40" height="4.00" fill="url(#shade)"/>
<rect x="338.40" y="109.00" width="2.40" height="2.40" fill="url(#gB)"/>
<ellipse cx="339.60" cy="109.00" rx="1.20" ry="0.7" fill="#a8b0d4"/>
<ellipse cx="339.60" cy="111.40" rx="1.20" ry="0.7" fill="#6c7aa0"/>
<rect x="338.40" y="109.00" width="2.40" height="2.40" fill="url(#shade)"/>
<rect x="345.30" y="103.20" width="2.80" height="8.20" fill="url(#gP)"/>
<ellipse cx="346.70" cy="103.20" rx="1.40" ry="0.7" fill="#aaa8d4"/>
<ellipse cx="346.70" cy="111.40" rx="1.40" ry="0.7" fill="#76749e"/>
<rect x="345.30" y="107.40" width="2.80" height="4.00" fill="url(#shade)"/>
<rect x="362.40" y="105.50" width="2.40" height="5.90" fill="url(#gC)"/>
<ellipse cx="363.60" cy="105.50" rx="1.20" ry="0.7" fill="#c6deea"/>
<ellipse cx="363.60" cy="111.40" rx="1.20" ry="0.7" fill="#8cb0c4"/>
<rect x="362.40" y="107.40" width="2.40" height="4.00" fill="url(#shade)"/>
<rect x="411.70" y="102.80" width="2.80" height="8.80" fill="url(#gO)"/>
<ellipse cx="413.10" cy="102.80" rx="1.40" ry="0.7" fill="#e4c890"/>
<ellipse cx="413.10" cy="111.60" rx="1.40" ry="0.7" fill="#b8965a"/>
<rect x="411.70" y="107.60" width="2.80" height="4.00" fill="url(#shade)"/>
<rect x="154.00" y="101.80" width="2.80" height="10.20" fill="url(#gO)"/>
<ellipse cx="155.40" cy="101.80" rx="1.40" ry="0.7" fill="#e4c890"/>
<ellipse cx="155.40" cy="112.00" rx="1.40" ry="0.7" fill="#b8965a"/>
<rect x="154.00" y="108.00" width="2.80" height="4.00" fill="url(#shade)"/>
<rect x="341.70" y="99.80" width="2.80" height="12.20" fill="url(#gP)"/>
<ellipse cx="343.10" cy="99.80" rx="1.40" ry="0.7" fill="#aaa8d4"/>
<ellipse cx="343.10" cy="112.00" rx="1.40" ry="0.7" fill="#76749e"/>
<rect x="341.70" y="108.00" width="2.80" height="4.00" fill="url(#shade)"/>
<rect x="372.70" y="93.40" width="2.80" height="18.80" fill="url(#gP)"/>
<ellipse cx="374.10" cy="93.40" rx="1.40" ry="0.7" fill="#aaa8d4"/>
<ellipse cx="374.10" cy="112.20" rx="1.40" ry="0.7" fill="#76749e"/>
<rect x="372.70" y="108.20" width="2.80" height="4.00" fill="url(#shade)"/>
<rect x="99.00" y="106.70" width="2.40" height="5.90" fill="url(#gP)"/>
<ellipse cx="100.20" cy="106.70" rx="1.20" ry="0.7" fill="#aaa8d4"/>
<ellipse cx="100.20" cy="112.60" rx="1.20" ry="0.7" fill="#76749e"/>
<rect x="99.00" y="108.60" width="2.40" height="4.00" fill="url(#shade)"/>
<rect x="103.10" y="106.70" width="2.40" height="5.90" fill="url(#gP)"/>
<ellipse cx="104.30" cy="106.70" rx="1.20" ry="0.7" fill="#aaa8d4"/>
<ellipse cx="104.30" cy="112.60" rx="1.20" ry="0.7" fill="#76749e"/>
<rect x="103.10" y="108.60" width="2.40" height="4.00" fill="url(#shade)"/>
<rect x="138.20" y="103.20" width="2.80" height="9.40" fill="url(#gO)"/>
<ellipse cx="139.60" cy="103.20" rx="1.40" ry="0.7" fill="#e4c890"/>
<ellipse cx="139.60" cy="112.60" rx="1.40" ry="0.7" fill="#b8965a"/>
<rect x="138.20" y="108.60" width="2.80" height="4.00" fill="url(#shade)"/>
<rect x="318.00" y="107.90" width="2.40" height="4.70" fill="url(#gG)"/>
<ellipse cx="319.20" cy="107.90" rx="1.20" ry="0.7" fill="#d4daa8"/>
<ellipse cx="319.20" cy="112.60" rx="1.20" ry="0.7" fill="#a2aa74"/>
<rect x="318.00" y="108.60" width="2.40" height="4.00" fill="url(#shade)"/>
<rect x="349.60" y="108.50" width="2.40" height="4.10" fill="url(#gB)"/>
<ellipse cx="350.80" cy="108.50" rx="1.20" ry="0.7" fill="#a8b0d4"/>
<ellipse cx="350.80" cy="112.60" rx="1.20" ry="0.7" fill="#6c7aa0"/>
<rect x="349.60" y="108.60" width="2.40" height="4.00" fill="url(#shade)"/>
<rect x="357.00" y="84.60" width="2.80" height="28.00" fill="url(#gP)"/>
<ellipse cx="358.40" cy="84.60" rx="1.40" ry="0.7" fill="#aaa8d4"/>
<ellipse cx="358.40" cy="112.60" rx="1.40" ry="0.7" fill="#76749e"/>
<rect x="357.00" y="108.60" width="2.80" height="4.00" fill="url(#shade)"/>
<rect x="403.90" y="109.20" width="2.40" height="3.50" fill="url(#gG)"/>
<ellipse cx="405.10" cy="109.20" rx="1.20" ry="0.7" fill="#d4daa8"/>
<ellipse cx="405.10" cy="112.70" rx="1.20" ry="0.7" fill="#a2aa74"/>
<rect x="403.90" y="109.20" width="2.40" height="3.50" fill="url(#shade)"/>
<rect x="40.20" y="110.20" width="2.40" height="3.20" fill="url(#gR)"/>
<ellipse cx="41.40" cy="110.20" rx="1.20" ry="0.7" fill="#c4a0a0"/>
<ellipse cx="41.40" cy="113.40" rx="1.20" ry="0.7" fill="#886464"/>
<rect x="40.20" y="110.20" width="2.40" height="3.20" fill="url(#shade)"/>
<rect x="106.40" y="81.90" width="2.80" height="31.80" fill="url(#gP)"/>
<ellipse cx="107.80" cy="81.90" rx="1.40" ry="0.7" fill="#aaa8d4"/>
<ellipse cx="107.80" cy="113.70" rx="1.40" ry="0.7" fill="#76749e"/>
<rect x="106.40" y="109.70" width="2.80" height="4.00" fill="url(#shade)"/>
<rect x="79.70" y="110.20" width="2.40" height="3.50" fill="url(#gG)"/>
<ellipse cx="80.90" cy="110.20" rx="1.20" ry="0.7" fill="#d4daa8"/>
<ellipse cx="80.90" cy="113.70" rx="1.20" ry="0.7" fill="#a2aa74"/>
<rect x="79.70" y="110.20" width="2.40" height="3.50" fill="url(#shade)"/>
<rect x="368.30" y="80.50" width="2.80" height="33.20" fill="url(#gP)"/>
<ellipse cx="369.70" cy="80.50" rx="1.40" ry="0.7" fill="#aaa8d4"/>
<ellipse cx="369.70" cy="113.70" rx="1.40" ry="0.7" fill="#76749e"/>
<rect x="368.30" y="109.70" width="2.80" height="4.00" fill="url(#shade)"/>
<rect x="68.00" y="110.40" width="2.40" height="3.60" fill="url(#gG)"/>
<ellipse cx="69.20" cy="110.40" rx="1.20" ry="0.7" fill="#d4daa8"/>
<ellipse cx="69.20" cy="114.00" rx="1.20" ry="0.7" fill="#a2aa74"/>
<rect x="68.00" y="110.40" width="2.40" height="3.60" fill="url(#shade)"/>
<rect x="427.60" y="112.20" width="2.40" height="1.80" fill="url(#gO)"/>
<ellipse cx="428.80" cy="112.20" rx="1.20" ry="0.7" fill="#e4c890"/>
<ellipse cx="428.80" cy="114.00" rx="1.20" ry="0.7" fill="#b8965a"/>
<rect x="427.60" y="112.20" width="2.40" height="1.80" fill="url(#shade)"/>
<rect x="431.40" y="110.40" width="2.40" height="3.60" fill="url(#gO)"/>
<ellipse cx="432.60" cy="110.40" rx="1.20" ry="0.7" fill="#e4c890"/>
<ellipse cx="432.60" cy="114.00" rx="1.20" ry="0.7" fill="#b8965a"/>
<rect x="431.40" y="110.40" width="2.40" height="3.60" fill="url(#shade)"/>
<rect x="290.50" y="112.00" width="2.40" height="2.30" fill="url(#gP)"/>
<ellipse cx="291.70" cy="112.00" rx="1.20" ry="0.7" fill="#aaa8d4"/>
<ellipse cx="291.70" cy="114.30" rx="1.20" ry="0.7" fill="#76749e"/>
<rect x="290.50" y="112.00" width="2.40" height="2.30" fill="url(#shade)"/>
<rect x="177.50" y="111.30" width="2.40" height="3.60" fill="url(#gG)"/>
<ellipse cx="178.70" cy="111.30" rx="1.20" ry="0.7" fill="#d4daa8"/>
<ellipse cx="178.70" cy="114.90" rx="1.20" ry="0.7" fill="#a2aa74"/>
<rect x="177.50" y="111.30" width="2.40" height="3.60" fill="url(#shade)"/>
<rect x="86.70" y="112.00" width="2.40" height="3.00" fill="url(#gG)"/>
<ellipse cx="87.90" cy="112.00" rx="1.20" ry="0.7" fill="#d4daa8"/>
<ellipse cx="87.90" cy="115.00" rx="1.20" ry="0.7" fill="#a2aa74"/>
<rect x="86.70" y="112.00" width="2.40" height="3.00" fill="url(#shade)"/>
<rect x="91.40" y="112.60" width="2.40" height="2.40" fill="url(#gG)"/>
<ellipse cx="92.60" cy="112.60" rx="1.20" ry="0.7" fill="#d4daa8"/>
<ellipse cx="92.60" cy="115.00" rx="1.20" ry="0.7" fill="#a2aa74"/>
<rect x="91.40" y="112.60" width="2.40" height="2.40" fill="url(#shade)"/>
<rect x="448.10" y="107.00" width="2.80" height="8.00" fill="url(#gO)"/>
<ellipse cx="449.50" cy="107.00" rx="1.40" ry="0.7" fill="#e4c890"/>
<ellipse cx="449.50" cy="115.00" rx="1.40" ry="0.7" fill="#b8965a"/>
<rect x="448.10" y="111.00" width="2.80" height="4.00" fill="url(#shade)"/>
<rect x="126.20" y="68.50" width="2.80" height="47.00" fill="url(#gP)"/>
<ellipse cx="127.60" cy="68.50" rx="1.40" ry="0.7" fill="#aaa8d4"/>
<ellipse cx="127.60" cy="115.50" rx="1.40" ry="0.7" fill="#76749e"/>
<rect x="126.20" y="111.50" width="2.80" height="4.00" fill="url(#shade)"/>
<rect x="130.60" y="100.00" width="2.80" height="15.50" fill="url(#gP)"/>
<ellipse cx="132.00" cy="100.00" rx="1.40" ry="0.7" fill="#aaa8d4"/>
<ellipse cx="132.00" cy="115.50" rx="1.40" ry="0.7" fill="#76749e"/>
<rect x="130.60" y="111.50" width="2.80" height="4.00" fill="url(#shade)"/>
<rect x="376.60" y="92.20" width="2.80" height="23.50" fill="url(#gP)"/>
<ellipse cx="378.00" cy="92.20" rx="1.40" ry="0.7" fill="#aaa8d4"/>
<ellipse cx="378.00" cy="115.70" rx="1.40" ry="0.7" fill="#76749e"/>
<rect x="376.60" y="111.70" width="2.80" height="4.00" fill="url(#shade)"/>
<rect x="384.20" y="105.10" width="2.80" height="10.60" fill="url(#gP)"/>
<ellipse cx="385.60" cy="105.10" rx="1.40" ry="0.7" fill="#aaa8d4"/>
<ellipse cx="385.60" cy="115.70" rx="1.40" ry="0.7" fill="#76749e"/>
<rect x="384.20" y="111.70" width="2.80" height="4.00" fill="url(#shade)"/>
<rect x="134.40" y="96.00" width="2.80" height="20.00" fill="url(#gP)"/>
<ellipse cx="135.80" cy="96.00" rx="1.40" ry="0.7" fill="#aaa8d4"/>
<ellipse cx="135.80" cy="116.00" rx="1.40" ry="0.7" fill="#76749e"/>
<rect x="134.40" y="112.00" width="2.80" height="4.00" fill="url(#shade)"/>
<rect x="98.40" y="113.70" width="2.40" height="3.00" fill="url(#gG)"/>
<ellipse cx="99.60" cy="113.70" rx="1.20" ry="0.7" fill="#d4daa8"/>
<ellipse cx="99.60" cy="116.70" rx="1.20" ry="0.7" fill="#a2aa74"/>
<rect x="98.40" y="113.70" width="2.40" height="3.00" fill="url(#shade)"/>
<rect x="102.50" y="113.70" width="2.40" height="3.00" fill="url(#gG)"/>
<ellipse cx="103.70" cy="113.70" rx="1.20" ry="0.7" fill="#d4daa8"/>
<ellipse cx="103.70" cy="116.70" rx="1.20" ry="0.7" fill="#a2aa74"/>
<rect x="102.50" y="113.70" width="2.40" height="3.00" fill="url(#shade)"/>
<rect x="313.30" y="111.40" width="2.40" height="5.30" fill="url(#gR)"/>
<ellipse cx="314.50" cy="111.40" rx="1.20" ry="0.7" fill="#c4a0a0"/>
<ellipse cx="314.50" cy="116.70" rx="1.20" ry="0.7" fill="#886464"/>
<rect x="313.30" y="112.70" width="2.40" height="4.00" fill="url(#shade)"/>
<rect x="380.30" y="108.60" width="2.80" height="8.20" fill="url(#gC)"/>
<ellipse cx="381.70" cy="108.60" rx="1.40" ry="0.7" fill="#c6deea"/>
<ellipse cx="381.70" cy="116.80" rx="1.40" ry="0.7" fill="#8cb0c4"/>
<rect x="380.30" y="112.80" width="2.80" height="4.00" fill="url(#shade)"/>
<rect x="387.90" y="109.80" width="2.80" height="7.00" fill="url(#gP)"/>
<ellipse cx="389.30" cy="109.80" rx="1.40" ry="0.7" fill="#aaa8d4"/>
<ellipse cx="389.30" cy="116.80" rx="1.40" ry="0.7" fill="#76749e"/>
<rect x="387.90" y="112.80" width="2.80" height="4.00" fill="url(#shade)"/>
<rect x="70.40" y="114.00" width="2.40" height="2.90" fill="url(#gO)"/>
<ellipse cx="71.60" cy="114.00" rx="1.20" ry="0.7" fill="#e4c890"/>
<ellipse cx="71.60" cy="116.90" rx="1.20" ry="0.7" fill="#b8965a"/>
<rect x="70.40" y="114.00" width="2.40" height="2.90" fill="url(#shade)"/>
<rect x="142.50" y="113.70" width="2.40" height="3.50" fill="url(#gP)"/>
<ellipse cx="143.70" cy="113.70" rx="1.20" ry="0.7" fill="#aaa8d4"/>
<ellipse cx="143.70" cy="117.20" rx="1.20" ry="0.7" fill="#76749e"/>
<rect x="142.50" y="113.70" width="2.40" height="3.50" fill="url(#shade)"/>
<rect x="145.80" y="100.00" width="2.80" height="17.20" fill="url(#gP)"/>
<ellipse cx="147.20" cy="100.00" rx="1.40" ry="0.7" fill="#aaa8d4"/>
<ellipse cx="147.20" cy="117.20" rx="1.40" ry="0.7" fill="#76749e"/>
<rect x="145.80" y="113.20" width="2.80" height="4.00" fill="url(#shade)"/>
<rect x="154.20" y="112.00" width="2.40" height="5.20" fill="url(#gP)"/>
<ellipse cx="155.40" cy="112.00" rx="1.20" ry="0.7" fill="#aaa8d4"/>
<ellipse cx="155.40" cy="117.20" rx="1.20" ry="0.7" fill="#76749e"/>
<rect x="154.20" y="113.20" width="2.40" height="4.00" fill="url(#shade)"/>
<rect x="115.00" y="111.40" width="2.40" height="5.80" fill="url(#gG)"/>
<ellipse cx="116.20" cy="111.40" rx="1.20" ry="0.7" fill="#d4daa8"/>
<ellipse cx="116.20" cy="117.20" rx="1.20" ry="0.7" fill="#a2aa74"/>
<rect x="115.00" y="113.20" width="2.40" height="4.00" fill="url(#shade)"/>
<rect x="351.90" y="112.60" width="2.40" height="4.60" fill="url(#gG)"/>
<ellipse cx="353.10" cy="112.60" rx="1.20" ry="0.7" fill="#d4daa8"/>
<ellipse cx="353.10" cy="117.20" rx="1.20" ry="0.7" fill="#a2aa74"/>
<rect x="351.90" y="113.20" width="2.40" height="4.00" fill="url(#shade)"/>
<rect x="359.60" y="96.30" width="2.80" height="20.90" fill="url(#gG)"/>
<ellipse cx="361.00" cy="96.30" rx="1.40" ry="0.7" fill="#d4daa8"/>
<ellipse cx="361.00" cy="117.20" rx="1.40" ry="0.7" fill="#a2aa74"/>
<rect x="359.60" y="113.20" width="2.80" height="4.00" fill="url(#shade)"/>
<rect x="392.20" y="113.30" width="2.40" height="4.10" fill="url(#gB)"/>
<ellipse cx="393.40" cy="113.30" rx="1.20" ry="0.7" fill="#a8b0d4"/>
<ellipse cx="393.40" cy="117.40" rx="1.20" ry="0.7" fill="#6c7aa0"/>
<rect x="392.20" y="113.40" width="2.40" height="4.00" fill="url(#shade)"/>
<rect x="149.90" y="110.00" width="2.80" height="7.80" fill="url(#gP)"/>
<ellipse cx="151.30" cy="110.00" rx="1.40" ry="0.7" fill="#aaa8d4"/>
<ellipse cx="151.30" cy="117.80" rx="1.40" ry="0.7" fill="#76749e"/>
<rect x="149.90" y="113.80" width="2.80" height="4.00" fill="url(#shade)"/>
<rect x="110.10" y="114.30" width="2.40" height="3.50" fill="url(#gG)"/>
<ellipse cx="111.30" cy="114.30" rx="1.20" ry="0.7" fill="#d4daa8"/>
<ellipse cx="111.30" cy="117.80" rx="1.20" ry="0.7" fill="#a2aa74"/>
<rect x="110.10" y="114.30" width="2.40" height="3.50" fill="url(#shade)"/>
<rect x="117.50" y="106.70" width="2.80" height="11.10" fill="url(#gG)"/>
<ellipse cx="118.90" cy="106.70" rx="1.40" ry="0.7" fill="#d4daa8"/>
<ellipse cx="118.90" cy="117.80" rx="1.40" ry="0.7" fill="#a2aa74"/>
<rect x="117.50" y="113.80" width="2.80" height="4.00" fill="url(#shade)"/>
<rect x="288.80" y="115.50" width="2.40" height="2.30" fill="url(#gB)"/>
<ellipse cx="290.00" cy="115.50" rx="1.20" ry="0.7" fill="#a8b0d4"/>
<ellipse cx="290.00" cy="117.80" rx="1.20" ry="0.7" fill="#6c7aa0"/>
<rect x="288.80" y="115.50" width="2.40" height="2.30" fill="url(#shade)"/>
<rect x="459.60" y="106.70" width="2.80" height="11.10" fill="url(#gO)"/>
<ellipse cx="461.00" cy="106.70" rx="1.40" ry="0.7" fill="#e4c890"/>
<ellipse cx="461.00" cy="117.80" rx="1.40" ry="0.7" fill="#b8965a"/>
<rect x="459.60" y="113.80" width="2.80" height="4.00" fill="url(#shade)"/>
<rect x="472.10" y="102.60" width="2.80" height="15.20" fill="url(#gO)"/>
<ellipse cx="473.50" cy="102.60" rx="1.40" ry="0.7" fill="#e4c890"/>
<ellipse cx="473.50" cy="117.80" rx="1.40" ry="0.7" fill="#b8965a"/>
<rect x="472.10" y="113.80" width="2.80" height="4.00" fill="url(#shade)"/>
<rect x="396.30" y="115.70" width="2.40" height="2.30" fill="url(#gB)"/>
<ellipse cx="397.50" cy="115.70" rx="1.20" ry="0.7" fill="#a8b0d4"/>
<ellipse cx="397.50" cy="118.00" rx="1.20" ry="0.7" fill="#6c7aa0"/>
<rect x="396.30" y="115.70" width="2.40" height="2.30" fill="url(#shade)"/>
<rect x="399.60" y="108.60" width="2.80" height="9.40" fill="url(#gP)"/>
<ellipse cx="401.00" cy="108.60" rx="1.40" ry="0.7" fill="#aaa8d4"/>
<ellipse cx="401.00" cy="118.00" rx="1.40" ry="0.7" fill="#76749e"/>
<rect x="399.60" y="114.00" width="2.80" height="4.00" fill="url(#shade)"/>
<rect x="403.90" y="112.70" width="2.40" height="5.30" fill="url(#gB)"/>
<ellipse cx="405.10" cy="112.70" rx="1.20" ry="0.7" fill="#a8b0d4"/>
<ellipse cx="405.10" cy="118.00" rx="1.20" ry="0.7" fill="#6c7aa0"/>
<rect x="403.90" y="114.00" width="2.40" height="4.00" fill="url(#shade)"/>
<rect x="82.00" y="114.30" width="2.40" height="4.10" fill="url(#gR)"/>
<ellipse cx="83.20" cy="114.30" rx="1.20" ry="0.7" fill="#c4a0a0"/>
<ellipse cx="83.20" cy="118.40" rx="1.20" ry="0.7" fill="#886464"/>
<rect x="82.00" y="114.40" width="2.40" height="4.00" fill="url(#shade)"/>
<rect x="114.20" y="112.60" width="2.40" height="5.80" fill="url(#gG)"/>
<ellipse cx="115.40" cy="112.60" rx="1.20" ry="0.7" fill="#d4daa8"/>
<ellipse cx="115.40" cy="118.40" rx="1.20" ry="0.7" fill="#a2aa74"/>
<rect x="114.20" y="114.40" width="2.40" height="4.00" fill="url(#shade)"/>
<rect x="122.00" y="112.60" width="2.40" height="5.80" fill="url(#gG)"/>
<ellipse cx="123.20" cy="112.60" rx="1.20" ry="0.7" fill="#d4daa8"/>
<ellipse cx="123.20" cy="118.40" rx="1.20" ry="0.7" fill="#a2aa74"/>
<rect x="122.00" y="114.40" width="2.40" height="4.00" fill="url(#shade)"/>
<rect x="332.00" y="116.00" width="2.40" height="2.40" fill="url(#gR)"/>
<ellipse cx="333.20" cy="116.00" rx="1.20" ry="0.7" fill="#c4a0a0"/>
<ellipse cx="333.20" cy="118.40" rx="1.20" ry="0.7" fill="#886464"/>
<rect x="332.00" y="116.00" width="2.40" height="2.40" fill="url(#shade)"/>
<rect x="364.00" y="43.30" width="2.80" height="75.10" fill="url(#gP)"/>
<ellipse cx="365.40" cy="43.30" rx="1.40" ry="0.7" fill="#aaa8d4"/>
<ellipse cx="365.40" cy="118.40" rx="1.40" ry="0.7" fill="#76749e"/>
<rect x="364.00" y="114.40" width="2.80" height="4.00" fill="url(#shade)"/>
<rect x="367.70" y="114.90" width="2.40" height="3.50" fill="url(#gG)"/>
<ellipse cx="368.90" cy="114.90" rx="1.20" ry="0.7" fill="#d4daa8"/>
<ellipse cx="368.90" cy="118.40" rx="1.20" ry="0.7" fill="#a2aa74"/>
<rect x="367.70" y="114.90" width="2.40" height="3.50" fill="url(#shade)"/>
<rect x="449.30" y="102.20" width="2.80" height="16.40" fill="url(#gP)"/>
<ellipse cx="450.70" cy="102.20" rx="1.40" ry="0.7" fill="#aaa8d4"/>
<ellipse cx="450.70" cy="118.60" rx="1.40" ry="0.7" fill="#76749e"/>
<rect x="449.30" y="114.60" width="2.80" height="4.00" fill="url(#shade)"/>
<rect x="181.40" y="112.00" width="2.80" height="7.00" fill="url(#gG)"/>
<ellipse cx="182.80" cy="112.00" rx="1.40" ry="0.7" fill="#d4daa8"/>
<ellipse cx="182.80" cy="119.00" rx="1.40" ry="0.7" fill="#a2aa74"/>
<rect x="181.40" y="115.00" width="2.80" height="4.00" fill="url(#shade)"/>
<rect x="213.60" y="108.40" width="2.80" height="10.60" fill="url(#gO)"/>
<ellipse cx="215.00" cy="108.40" rx="1.40" ry="0.7" fill="#e4c890"/>
<ellipse cx="215.00" cy="119.00" rx="1.40" ry="0.7" fill="#b8965a"/>
<rect x="213.60" y="115.00" width="2.80" height="4.00" fill="url(#shade)"/>
<rect x="340.20" y="116.70" width="2.40" height="2.30" fill="url(#gR)"/>
<ellipse cx="341.40" cy="116.70" rx="1.20" ry="0.7" fill="#c4a0a0"/>
<ellipse cx="341.40" cy="119.00" rx="1.20" ry="0.7" fill="#886464"/>
<rect x="340.20" y="116.70" width="2.40" height="2.30" fill="url(#shade)"/>
<rect x="475.80" y="104.90" width="2.80" height="14.10" fill="url(#gO)"/>
<ellipse cx="477.20" cy="104.90" rx="1.40" ry="0.7" fill="#e4c890"/>
<ellipse cx="477.20" cy="119.00" rx="1.40" ry="0.7" fill="#b8965a"/>
<rect x="475.80" y="115.00" width="2.80" height="4.00" fill="url(#shade)"/>
<rect x="371.10" y="115.20" width="2.40" height="4.10" fill="url(#gG)"/>
<ellipse cx="372.30" cy="115.20" rx="1.20" ry="0.7" fill="#d4daa8"/>
<ellipse cx="372.30" cy="119.30" rx="1.20" ry="0.7" fill="#a2aa74"/>
<rect x="371.10" y="115.30" width="2.40" height="4.00" fill="url(#shade)"/>
<rect x="162.30" y="116.00" width="2.40" height="4.10" fill="url(#gP)"/>
<ellipse cx="163.50" cy="116.00" rx="1.20" ry="0.7" fill="#aaa8d4"/>
<ellipse cx="163.50" cy="120.10" rx="1.20" ry="0.7" fill="#76749e"/>
<rect x="162.30" y="116.10" width="2.40" height="4.00" fill="url(#shade)"/>
<rect x="166.40" y="116.60" width="2.40" height="3.50" fill="url(#gP)"/>
<ellipse cx="167.60" cy="116.60" rx="1.20" ry="0.7" fill="#aaa8d4"/>
<ellipse cx="167.60" cy="120.10" rx="1.20" ry="0.7" fill="#76749e"/>
<rect x="166.40" y="116.60" width="2.40" height="3.50" fill="url(#shade)"/>
<rect x="170.30" y="102.60" width="2.80" height="17.50" fill="url(#gP)"/>
<ellipse cx="171.70" cy="102.60" rx="1.40" ry="0.7" fill="#aaa8d4"/>
<ellipse cx="171.70" cy="120.10" rx="1.40" ry="0.7" fill="#76749e"/>
<rect x="170.30" y="116.10" width="2.80" height="4.00" fill="url(#shade)"/>
<rect x="199.00" y="106.10" width="2.80" height="14.00" fill="url(#gP)"/>
<ellipse cx="200.40" cy="106.10" rx="1.40" ry="0.7" fill="#aaa8d4"/>
<ellipse cx="200.40" cy="120.10" rx="1.40" ry="0.7" fill="#76749e"/>
<rect x="199.00" y="116.10" width="2.80" height="4.00" fill="url(#shade)"/>
<rect x="201.90" y="98.50" width="2.80" height="21.60" fill="url(#gO)"/>
<ellipse cx="203.30" cy="98.50" rx="1.40" ry="0.7" fill="#e4c890"/>
<ellipse cx="203.30" cy="120.10" rx="1.40" ry="0.7" fill="#b8965a"/>
<rect x="201.90" y="116.10" width="2.80" height="4.00" fill="url(#shade)"/>
<rect x="205.80" y="102.00" width="2.80" height="18.10" fill="url(#gO)"/>
<ellipse cx="207.20" cy="102.00" rx="1.40" ry="0.7" fill="#e4c890"/>
<ellipse cx="207.20" cy="120.10" rx="1.40" ry="0.7" fill="#b8965a"/>
<rect x="205.80" y="116.10" width="2.80" height="4.00" fill="url(#shade)"/>
<rect x="226.40" y="109.60" width="2.80" height="10.50" fill="url(#gO)"/>
<ellipse cx="227.80" cy="109.60" rx="1.40" ry="0.7" fill="#e4c890"/>
<ellipse cx="227.80" cy="120.10" rx="1.40" ry="0.7" fill="#b8965a"/>
<rect x="226.40" y="116.10" width="2.80" height="4.00" fill="url(#shade)"/>
<rect x="234.60" y="113.10" width="2.80" height="7.00" fill="url(#gO)"/>
<ellipse cx="236.00" cy="113.10" rx="1.40" ry="0.7" fill="#e4c890"/>
<ellipse cx="236.00" cy="120.10" rx="1.40" ry="0.7" fill="#b8965a"/>
<rect x="234.60" y="116.10" width="2.80" height="4.00" fill="url(#shade)"/>
<rect x="484.20" y="115.40" width="2.40" height="4.70" fill="url(#gO)"/>
<ellipse cx="485.40" cy="115.40" rx="1.20" ry="0.7" fill="#e4c890"/>
<ellipse cx="485.40" cy="120.10" rx="1.20" ry="0.7" fill="#b8965a"/>
<rect x="484.20" y="116.10" width="2.40" height="4.00" fill="url(#shade)"/>
<rect x="488.70" y="110.80" width="2.80" height="9.30" fill="url(#gO)"/>
<ellipse cx="490.10" cy="110.80" rx="1.40" ry="0.7" fill="#e4c890"/>
<ellipse cx="490.10" cy="120.10" rx="1.40" ry="0.7" fill="#b8965a"/>
<rect x="488.70" y="116.10" width="2.80" height="4.00" fill="url(#shade)"/>
<rect x="492.80" y="113.10" width="2.80" height="7.00" fill="url(#gO)"/>
<ellipse cx="494.20" cy="113.10" rx="1.40" ry="0.7" fill="#e4c890"/>
<ellipse cx="494.20" cy="120.10" rx="1.40" ry="0.7" fill="#b8965a"/>
<rect x="492.80" y="116.10" width="2.80" height="4.00" fill="url(#shade)"/>
<rect x="379.90" y="116.40" width="2.40" height="4.10" fill="url(#gG)"/>
<ellipse cx="381.10" cy="116.40" rx="1.20" ry="0.7" fill="#d4daa8"/>
<ellipse cx="381.10" cy="120.50" rx="1.20" ry="0.7" fill="#a2aa74"/>
<rect x="379.90" y="116.50" width="2.40" height="4.00" fill="url(#shade)"/>
<rect x="173.80" y="109.00" width="2.80" height="11.70" fill="url(#gP)"/>
<ellipse cx="175.20" cy="109.00" rx="1.40" ry="0.7" fill="#aaa8d4"/>
<ellipse cx="175.20" cy="120.70" rx="1.40" ry="0.7" fill="#76749e"/>
<rect x="173.80" y="116.70" width="2.80" height="4.00" fill="url(#shade)"/>
<rect x="69.20" y="118.00" width="2.40" height="3.00" fill="url(#gB)"/>
<ellipse cx="70.40" cy="118.00" rx="1.20" ry="0.7" fill="#a8b0d4"/>
<ellipse cx="70.40" cy="121.00" rx="1.20" ry="0.7" fill="#6c7aa0"/>
<rect x="69.20" y="118.00" width="2.40" height="3.00" fill="url(#shade)"/>
<rect x="420.40" y="108.70" width="2.80" height="12.30" fill="url(#gP)"/>
<ellipse cx="421.80" cy="108.70" rx="1.40" ry="0.7" fill="#aaa8d4"/>
<ellipse cx="421.80" cy="121.00" rx="1.40" ry="0.7" fill="#76749e"/>
<rect x="420.40" y="117.00" width="2.80" height="4.00" fill="url(#shade)"/>
<rect x="424.10" y="111.60" width="2.80" height="9.40" fill="url(#gP)"/>
<ellipse cx="425.50" cy="111.60" rx="1.40" ry="0.7" fill="#aaa8d4"/>
<ellipse cx="425.50" cy="121.00" rx="1.40" ry="0.7" fill="#76749e"/>
<rect x="424.10" y="117.00" width="2.80" height="4.00" fill="url(#shade)"/>
<rect x="461.20" y="118.60" width="2.40" height="2.40" fill="url(#gC)"/>
<ellipse cx="462.40" cy="118.60" rx="1.20" ry="0.7" fill="#c6deea"/>
<ellipse cx="462.40" cy="121.00" rx="1.20" ry="0.7" fill="#8cb0c4"/>
<rect x="461.20" y="118.60" width="2.40" height="2.40" fill="url(#shade)"/>
<rect x="105.40" y="117.80" width="2.40" height="3.50" fill="url(#gR)"/>
<ellipse cx="106.60" cy="117.80" rx="1.20" ry="0.7" fill="#c4a0a0"/>
<ellipse cx="106.60" cy="121.30" rx="1.20" ry="0.7" fill="#886464"/>
<rect x="105.40" y="117.80" width="2.40" height="3.50" fill="url(#shade)"/>
<rect x="243.40" y="114.30" width="2.80" height="7.00" fill="url(#gO)"/>
<ellipse cx="244.80" cy="114.30" rx="1.40" ry="0.7" fill="#e4c890"/>
<ellipse cx="244.80" cy="121.30" rx="1.40" ry="0.7" fill="#b8965a"/>
<rect x="243.40" y="117.30" width="2.80" height="4.00" fill="url(#shade)"/>
<rect x="319.20" y="119.00" width="2.40" height="2.30" fill="url(#gB)"/>
<ellipse cx="320.40" cy="119.00" rx="1.20" ry="0.7" fill="#a8b0d4"/>
<ellipse cx="320.40" cy="121.30" rx="1.20" ry="0.7" fill="#6c7aa0"/>
<rect x="319.20" y="119.00" width="2.40" height="2.30" fill="url(#shade)"/>
<rect x="355.80" y="113.70" width="2.80" height="7.60" fill="url(#gR)"/>
<ellipse cx="357.20" cy="113.70" rx="1.40" ry="0.7" fill="#c4a0a0"/>
<ellipse cx="357.20" cy="121.30" rx="1.40" ry="0.7" fill="#886464"/>
<rect x="355.80" y="117.30" width="2.80" height="4.00" fill="url(#shade)"/>
<rect x="497.10" y="119.00" width="2.40" height="2.30" fill="url(#gO)"/>
<ellipse cx="498.30" cy="119.00" rx="1.20" ry="0.7" fill="#e4c890"/>
<ellipse cx="498.30" cy="121.30" rx="1.20" ry="0.7" fill="#b8965a"/>
<rect x="497.10" y="119.00" width="2.40" height="2.30" fill="url(#shade)"/>
<rect x="388.10" y="119.30" width="2.40" height="2.40" fill="url(#gG)"/>
<ellipse cx="389.30" cy="119.30" rx="1.20" ry="0.7" fill="#d4daa8"/>
<ellipse cx="389.30" cy="121.70" rx="1.20" ry="0.7" fill="#a2aa74"/>
<rect x="388.10" y="119.30" width="2.40" height="2.40" fill="url(#shade)"/>
<rect x="392.20" y="119.30" width="2.40" height="2.40" fill="url(#gG)"/>
<ellipse cx="393.40" cy="119.30" rx="1.20" ry="0.7" fill="#d4daa8"/>
<ellipse cx="393.40" cy="121.70" rx="1.20" ry="0.7" fill="#a2aa74"/>
<rect x="392.20" y="119.30" width="2.40" height="2.40" fill="url(#shade)"/>
<rect x="77.10" y="118.40" width="2.40" height="3.60" fill="url(#gB)"/>
<ellipse cx="78.30" cy="118.40" rx="1.20" ry="0.7" fill="#a8b0d4"/>
<ellipse cx="78.30" cy="122.00" rx="1.20" ry="0.7" fill="#6c7aa0"/>
<rect x="77.10" y="118.40" width="2.40" height="3.60" fill="url(#shade)"/>
<rect x="76.80" y="119.20" width="2.40" height="3.00" fill="url(#gB)"/>
<ellipse cx="78.00" cy="119.20" rx="1.20" ry="0.7" fill="#a8b0d4"/>
<ellipse cx="78.00" cy="122.20" rx="1.20" ry="0.7" fill="#6c7aa0"/>
<rect x="76.80" y="119.20" width="2.40" height="3.00" fill="url(#shade)"/>
<rect x="399.80" y="119.90" width="2.40" height="2.30" fill="url(#gG)"/>
<ellipse cx="401.00" cy="119.90" rx="1.20" ry="0.7" fill="#d4daa8"/>
<ellipse cx="401.00" cy="122.20" rx="1.20" ry="0.7" fill="#a2aa74"/>
<rect x="399.80" y="119.90" width="2.40" height="2.30" fill="url(#shade)"/>
<rect x="437.00" y="111.60" width="2.80" height="10.60" fill="url(#gP)"/>
<ellipse cx="438.40" cy="111.60" rx="1.40" ry="0.7" fill="#aaa8d4"/>
<ellipse cx="438.40" cy="122.20" rx="1.40" ry="0.7" fill="#76749e"/>
<rect x="437.00" y="118.20" width="2.80" height="4.00" fill="url(#shade)"/>
<rect x="441.10" y="102.80" width="2.80" height="19.40" fill="url(#gP)"/>
<ellipse cx="442.50" cy="102.80" rx="1.40" ry="0.7" fill="#aaa8d4"/>
<ellipse cx="442.50" cy="122.20" rx="1.40" ry="0.7" fill="#76749e"/>
<rect x="441.10" y="118.20" width="2.80" height="4.00" fill="url(#shade)"/>
<rect x="81.10" y="119.00" width="2.40" height="3.50" fill="url(#gB)"/>
<ellipse cx="82.30" cy="119.00" rx="1.20" ry="0.7" fill="#a8b0d4"/>
<ellipse cx="82.30" cy="122.50" rx="1.20" ry="0.7" fill="#6c7aa0"/>
<rect x="81.10" y="119.00" width="2.40" height="3.50" fill="url(#shade)"/>
<rect x="186.70" y="113.10" width="2.80" height="9.40" fill="url(#gP)"/>
<ellipse cx="188.10" cy="113.10" rx="1.40" ry="0.7" fill="#aaa8d4"/>
<ellipse cx="188.10" cy="122.50" rx="1.40" ry="0.7" fill="#76749e"/>
<rect x="186.70" y="118.50" width="2.80" height="4.00" fill="url(#shade)"/>
<rect x="203.70" y="106.10" width="2.80" height="16.40" fill="url(#gP)"/>
<ellipse cx="205.10" cy="106.10" rx="1.40" ry="0.7" fill="#aaa8d4"/>
<ellipse cx="205.10" cy="122.50" rx="1.40" ry="0.7" fill="#76749e"/>
<rect x="203.70" y="118.50" width="2.80" height="4.00" fill="url(#shade)"/>
<rect x="363.60" y="118.40" width="2.40" height="4.10" fill="url(#gR)"/>
<ellipse cx="364.80" cy="118.40" rx="1.20" ry="0.7" fill="#c4a0a0"/>
<ellipse cx="364.80" cy="122.50" rx="1.20" ry="0.7" fill="#886464"/>
<rect x="363.60" y="118.50" width="2.40" height="4.00" fill="url(#shade)"/>
<rect x="367.70" y="119.60" width="2.40" height="3.50" fill="url(#gR)"/>
<ellipse cx="368.90" cy="119.60" rx="1.20" ry="0.7" fill="#c4a0a0"/>
<ellipse cx="368.90" cy="123.10" rx="1.20" ry="0.7" fill="#886464"/>
<rect x="367.70" y="119.60" width="2.40" height="3.50" fill="url(#shade)"/>
<rect x="453.40" y="104.60" width="2.80" height="18.70" fill="url(#gP)"/>
<ellipse cx="454.80" cy="104.60" rx="1.40" ry="0.7" fill="#aaa8d4"/>
<ellipse cx="454.80" cy="123.30" rx="1.40" ry="0.7" fill="#76749e"/>
<rect x="453.40" y="119.30" width="2.80" height="4.00" fill="url(#shade)"/>
<rect x="375.80" y="121.00" width="2.40" height="2.40" fill="url(#gR)"/>
<ellipse cx="377.00" cy="121.00" rx="1.20" ry="0.7" fill="#c4a0a0"/>
<ellipse cx="377.00" cy="123.40" rx="1.20" ry="0.7" fill="#886464"/>
<rect x="375.80" y="121.00" width="2.40" height="2.40" fill="url(#shade)"/>
<rect x="190.80" y="110.80" width="2.80" height="12.80" fill="url(#gG)"/>
<ellipse cx="192.20" cy="110.80" rx="1.40" ry="0.7" fill="#d4daa8"/>
<ellipse cx="192.20" cy="123.60" rx="1.40" ry="0.7" fill="#a2aa74"/>
<rect x="190.80" y="119.60" width="2.80" height="4.00" fill="url(#shade)"/>
<rect x="192.60" y="114.30" width="2.80" height="9.30" fill="url(#gG)"/>
<ellipse cx="194.00" cy="114.30" rx="1.40" ry="0.7" fill="#d4daa8"/>
<ellipse cx="194.00" cy="123.60" rx="1.40" ry="0.7" fill="#a2aa74"/>
<rect x="192.60" y="119.60" width="2.80" height="4.00" fill="url(#shade)"/>
<rect x="195.50" y="99.00" width="2.80" height="24.60" fill="url(#gP)"/>
<ellipse cx="196.90" cy="99.00" rx="1.40" ry="0.7" fill="#aaa8d4"/>
<ellipse cx="196.90" cy="123.60" rx="1.40" ry="0.7" fill="#76749e"/>
<rect x="195.50" y="119.60" width="2.80" height="4.00" fill="url(#shade)"/>
<rect x="207.60" y="102.60" width="2.80" height="21.00" fill="url(#gC)"/>
<ellipse cx="209.00" cy="102.60" rx="1.40" ry="0.7" fill="#c6deea"/>
<ellipse cx="209.00" cy="123.60" rx="1.40" ry="0.7" fill="#8cb0c4"/>
<rect x="207.60" y="119.60" width="2.80" height="4.00" fill="url(#shade)"/>
<rect x="205.00" y="120.00" width="2.40" height="3.60" fill="url(#gP)"/>
<ellipse cx="206.20" cy="120.00" rx="1.20" ry="0.7" fill="#aaa8d4"/>
<ellipse cx="206.20" cy="123.60" rx="1.20" ry="0.7" fill="#76749e"/>
<rect x="205.00" y="120.00" width="2.40" height="3.60" fill="url(#shade)"/>
<rect x="222.90" y="97.90" width="2.80" height="25.70" fill="url(#gO)"/>
<ellipse cx="224.30" cy="97.90" rx="1.40" ry="0.7" fill="#e4c890"/>
<ellipse cx="224.30" cy="123.60" rx="1.40" ry="0.7" fill="#b8965a"/>
<rect x="222.90" y="119.60" width="2.80" height="4.00" fill="url(#shade)"/>
<rect x="232.50" y="120.10" width="2.40" height="3.50" fill="url(#gC)"/>
<ellipse cx="233.70" cy="120.10" rx="1.20" ry="0.7" fill="#c6deea"/>
<ellipse cx="233.70" cy="123.60" rx="1.20" ry="0.7" fill="#8cb0c4"/>
<rect x="232.50" y="120.10" width="2.40" height="3.50" fill="url(#shade)"/>
<rect x="384.00" y="120.50" width="2.40" height="3.50" fill="url(#gR)"/>
<ellipse cx="385.20" cy="120.50" rx="1.20" ry="0.7" fill="#c4a0a0"/>
<ellipse cx="385.20" cy="124.00" rx="1.20" ry="0.7" fill="#886464"/>
<rect x="384.00" y="120.50" width="2.40" height="3.50" fill="url(#shade)"/>
<rect x="433.70" y="119.80" width="2.40" height="4.70" fill="url(#gG)"/>
<ellipse cx="434.90" cy="119.80" rx="1.20" ry="0.7" fill="#d4daa8"/>
<ellipse cx="434.90" cy="124.50" rx="1.20" ry="0.7" fill="#a2aa74"/>
<rect x="433.70" y="120.50" width="2.40" height="4.00" fill="url(#shade)"/>
<rect x="445.20" y="107.50" width="2.80" height="17.00" fill="url(#gP)"/>
<ellipse cx="446.60" cy="107.50" rx="1.40" ry="0.7" fill="#aaa8d4"/>
<ellipse cx="446.60" cy="124.50" rx="1.40" ry="0.7" fill="#76749e"/>
<rect x="445.20" y="120.50" width="2.80" height="4.00" fill="url(#shade)"/>
<rect x="450.10" y="119.80" width="2.40" height="4.70" fill="url(#gG)"/>
<ellipse cx="451.30" cy="119.80" rx="1.20" ry="0.7" fill="#d4daa8"/>
<ellipse cx="451.30" cy="124.50" rx="1.20" ry="0.7" fill="#a2aa74"/>
<rect x="450.10" y="120.50" width="2.40" height="4.00" fill="url(#shade)"/>
<rect x="416.40" y="122.20" width="2.40" height="2.40" fill="url(#gG)"/>
<ellipse cx="417.60" cy="122.20" rx="1.20" ry="0.7" fill="#d4daa8"/>
<ellipse cx="417.60" cy="124.60" rx="1.20" ry="0.7" fill="#a2aa74"/>
<rect x="416.40" y="122.20" width="2.40" height="2.40" fill="url(#shade)"/>
<rect x="456.90" y="97.50" width="2.80" height="27.10" fill="url(#gP)"/>
<ellipse cx="458.30" cy="97.50" rx="1.40" ry="0.7" fill="#aaa8d4"/>
<ellipse cx="458.30" cy="124.60" rx="1.40" ry="0.7" fill="#76749e"/>
<rect x="456.90" y="120.60" width="2.80" height="4.00" fill="url(#shade)"/>
<rect x="183.40" y="119.00" width="2.40" height="5.80" fill="url(#gG)"/>
<ellipse cx="184.60" cy="119.00" rx="1.20" ry="0.7" fill="#d4daa8"/>
<ellipse cx="184.60" cy="124.80" rx="1.20" ry="0.7" fill="#a2aa74"/>
<rect x="183.40" y="120.80" width="2.40" height="4.00" fill="url(#shade)"/>
<rect x="101.00" y="121.30" width="2.40" height="3.60" fill="url(#gB)"/>
<ellipse cx="102.20" cy="121.30" rx="1.20" ry="0.7" fill="#a8b0d4"/>
<ellipse cx="102.20" cy="124.90" rx="1.20" ry="0.7" fill="#6c7aa0"/>
<rect x="101.00" y="121.30" width="2.40" height="3.60" fill="url(#shade)"/>
<rect x="351.30" y="120.80" width="2.40" height="4.10" fill="url(#gB)"/>
<ellipse cx="352.50" cy="120.80" rx="1.20" ry="0.7" fill="#a8b0d4"/>
<ellipse cx="352.50" cy="124.90" rx="1.20" ry="0.7" fill="#6c7aa0"/>
<rect x="351.30" y="120.90" width="2.40" height="4.00" fill="url(#shade)"/>
<rect x="104.80" y="122.50" width="2.40" height="2.90" fill="url(#gB)"/>
<ellipse cx="106.00" cy="122.50" rx="1.20" ry="0.7" fill="#a8b0d4"/>
<ellipse cx="106.00" cy="125.40" rx="1.20" ry="0.7" fill="#6c7aa0"/>
<rect x="104.80" y="122.50" width="2.40" height="2.90" fill="url(#shade)"/>
<rect x="200.40" y="121.30" width="2.40" height="4.10" fill="url(#gG)"/>
<ellipse cx="201.60" cy="121.30" rx="1.20" ry="0.7" fill="#d4daa8"/>
<ellipse cx="201.60" cy="125.40" rx="1.20" ry="0.7" fill="#a2aa74"/>
<rect x="200.40" y="121.40" width="2.40" height="4.00" fill="url(#shade)"/>
<rect x="240.70" y="121.90" width="2.40" height="3.50" fill="url(#gC)"/>
<ellipse cx="241.90" cy="121.90" rx="1.20" ry="0.7" fill="#c6deea"/>
<ellipse cx="241.90" cy="125.40" rx="1.20" ry="0.7" fill="#8cb0c4"/>
<rect x="240.70" y="121.90" width="2.40" height="3.50" fill="url(#shade)"/>
<rect x="466.70" y="84.00" width="2.80" height="41.40" fill="url(#gP)"/>
<ellipse cx="468.10" cy="84.00" rx="1.40" ry="0.7" fill="#aaa8d4"/>
<ellipse cx="468.10" cy="125.40" rx="1.40" ry="0.7" fill="#76749e"/>
<rect x="466.70" y="121.40" width="2.80" height="4.00" fill="url(#shade)"/>
<rect x="108.90" y="122.50" width="2.40" height="3.50" fill="url(#gB)"/>
<ellipse cx="110.10" cy="122.50" rx="1.20" ry="0.7" fill="#a8b0d4"/>
<ellipse cx="110.10" cy="126.00" rx="1.20" ry="0.7" fill="#6c7aa0"/>
<rect x="108.90" y="122.50" width="2.40" height="3.50" fill="url(#shade)"/>
<rect x="114.40" y="122.50" width="2.40" height="3.50" fill="url(#gB)"/>
<ellipse cx="115.60" cy="122.50" rx="1.20" ry="0.7" fill="#a8b0d4"/>
<ellipse cx="115.60" cy="126.00" rx="1.20" ry="0.7" fill="#6c7aa0"/>
<rect x="114.40" y="122.50" width="2.40" height="3.50" fill="url(#shade)"/>
<rect x="187.50" y="120.10" width="2.40" height="5.90" fill="url(#gG)"/>
<ellipse cx="188.70" cy="120.10" rx="1.20" ry="0.7" fill="#d4daa8"/>
<ellipse cx="188.70" cy="126.00" rx="1.20" ry="0.7" fill="#a2aa74"/>
<rect x="187.50" y="122.00" width="2.40" height="4.00" fill="url(#shade)"/>
<rect x="217.40" y="86.20" width="2.80" height="39.80" fill="url(#gP)"/>
<ellipse cx="218.80" cy="86.20" rx="1.40" ry="0.7" fill="#aaa8d4"/>
<ellipse cx="218.80" cy="126.00" rx="1.40" ry="0.7" fill="#76749e"/>
<rect x="217.40" y="122.00" width="2.80" height="4.00" fill="url(#shade)"/>
<rect x="220.60" y="107.20" width="2.80" height="18.80" fill="url(#gP)"/>
<ellipse cx="222.00" cy="107.20" rx="1.40" ry="0.7" fill="#aaa8d4"/>
<ellipse cx="222.00" cy="126.00" rx="1.40" ry="0.7" fill="#76749e"/>
<rect x="220.60" y="122.00" width="2.80" height="4.00" fill="url(#shade)"/>
<rect x="224.70" y="112.00" width="2.80" height="14.00" fill="url(#gC)"/>
<ellipse cx="226.10" cy="112.00" rx="1.40" ry="0.7" fill="#c6deea"/>
<ellipse cx="226.10" cy="126.00" rx="1.40" ry="0.7" fill="#8cb0c4"/>
<rect x="224.70" y="122.00" width="2.80" height="4.00" fill="url(#shade)"/>
<rect x="229.40" y="117.80" width="2.80" height="8.20" fill="url(#gP)"/>
<ellipse cx="230.80" cy="117.80" rx="1.40" ry="0.7" fill="#aaa8d4"/>
<ellipse cx="230.80" cy="126.00" rx="1.40" ry="0.7" fill="#76749e"/>
<rect x="229.40" y="122.00" width="2.80" height="4.00" fill="url(#shade)"/>
<rect x="469.40" y="99.00" width="2.80" height="27.00" fill="url(#gC)"/>
<ellipse cx="470.80" cy="99.00" rx="1.40" ry="0.7" fill="#c6deea"/>
<ellipse cx="470.80" cy="126.00" rx="1.40" ry="0.7" fill="#8cb0c4"/>
<rect x="469.40" y="122.00" width="2.80" height="4.00" fill="url(#shade)"/>
<rect x="481.90" y="121.30" width="2.40" height="4.70" fill="url(#gB)"/>
<ellipse cx="483.10" cy="121.30" rx="1.20" ry="0.7" fill="#a8b0d4"/>
<ellipse cx="483.10" cy="126.00" rx="1.20" ry="0.7" fill="#6c7aa0"/>
<rect x="481.90" y="122.00" width="2.40" height="4.00" fill="url(#shade)"/>
<rect x="113.00" y="123.10" width="2.40" height="3.50" fill="url(#gB)"/>
<ellipse cx="114.20" cy="123.10" rx="1.20" ry="0.7" fill="#a8b0d4"/>
<ellipse cx="114.20" cy="126.60" rx="1.20" ry="0.7" fill="#6c7aa0"/>
<rect x="113.00" y="123.10" width="2.40" height="3.50" fill="url(#shade)"/>
<rect x="363.00" y="123.70" width="2.40" height="2.90" fill="url(#gB)"/>
<ellipse cx="364.20" cy="123.70" rx="1.20" ry="0.7" fill="#a8b0d4"/>
<ellipse cx="364.20" cy="126.60" rx="1.20" ry="0.7" fill="#6c7aa0"/>
<rect x="363.00" y="123.70" width="2.40" height="2.90" fill="url(#shade)"/>
<rect x="479.00" y="124.80" width="2.40" height="2.40" fill="url(#gB)"/>
<ellipse cx="480.20" cy="124.80" rx="1.20" ry="0.7" fill="#a8b0d4"/>
<ellipse cx="480.20" cy="127.20" rx="1.20" ry="0.7" fill="#6c7aa0"/>
<rect x="479.00" y="124.80" width="2.40" height="2.40" fill="url(#shade)"/>
<rect x="484.80" y="122.50" width="2.40" height="4.70" fill="url(#gB)"/>
<ellipse cx="486.00" cy="122.50" rx="1.20" ry="0.7" fill="#a8b0d4"/>
<ellipse cx="486.00" cy="127.20" rx="1.20" ry="0.7" fill="#6c7aa0"/>
<rect x="484.80" y="123.20" width="2.40" height="4.00" fill="url(#shade)"/>
<rect x="487.80" y="122.50" width="2.40" height="4.70" fill="url(#gB)"/>
<ellipse cx="489.00" cy="122.50" rx="1.20" ry="0.7" fill="#a8b0d4"/>
<ellipse cx="489.00" cy="127.20" rx="1.20" ry="0.7" fill="#6c7aa0"/>
<rect x="487.80" y="123.20" width="2.40" height="4.00" fill="url(#shade)"/>
<rect x="196.30" y="124.80" width="2.40" height="2.90" fill="url(#gG)"/>
<ellipse cx="197.50" cy="124.80" rx="1.20" ry="0.7" fill="#d4daa8"/>
<ellipse cx="197.50" cy="127.70" rx="1.20" ry="0.7" fill="#a2aa74"/>
<rect x="196.30" y="124.80" width="2.40" height="2.90" fill="url(#shade)"/>
<rect x="205.10" y="123.60" width="2.40" height="4.10" fill="url(#gG)"/>
<ellipse cx="206.30" cy="123.60" rx="1.20" ry="0.7" fill="#d4daa8"/>
<ellipse cx="206.30" cy="127.70" rx="1.20" ry="0.7" fill="#a2aa74"/>
<rect x="205.10" y="123.70" width="2.40" height="4.00" fill="url(#shade)"/>
<rect x="162.40" y="124.30" width="2.40" height="3.50" fill="url(#gR)"/>
<ellipse cx="163.60" cy="124.30" rx="1.20" ry="0.7" fill="#c4a0a0"/>
<ellipse cx="163.60" cy="127.80" rx="1.20" ry="0.7" fill="#886464"/>
<rect x="162.40" y="124.30" width="2.40" height="3.50" fill="url(#shade)"/>
<rect x="445.40" y="124.50" width="2.40" height="3.50" fill="url(#gG)"/>
<ellipse cx="446.60" cy="124.50" rx="1.20" ry="0.7" fill="#d4daa8"/>
<ellipse cx="446.60" cy="128.00" rx="1.20" ry="0.7" fill="#a2aa74"/>
<rect x="445.40" y="124.50" width="2.40" height="3.50" fill="url(#shade)"/>
<rect x="412.70" y="122.80" width="2.40" height="5.30" fill="url(#gR)"/>
<ellipse cx="413.90" cy="122.80" rx="1.20" ry="0.7" fill="#c4a0a0"/>
<ellipse cx="413.90" cy="128.10" rx="1.20" ry="0.7" fill="#886464"/>
<rect x="412.70" y="124.10" width="2.40" height="4.00" fill="url(#shade)"/>
<rect x="237.80" y="124.20" width="2.40" height="4.10" fill="url(#gP)"/>
<ellipse cx="239.00" cy="124.20" rx="1.20" ry="0.7" fill="#aaa8d4"/>
<ellipse cx="239.00" cy="128.30" rx="1.20" ry="0.7" fill="#76749e"/>
<rect x="237.80" y="124.30" width="2.40" height="4.00" fill="url(#shade)"/>
<rect x="129.60" y="124.90" width="2.40" height="3.50" fill="url(#gB)"/>
<ellipse cx="130.80" cy="124.90" rx="1.20" ry="0.7" fill="#a8b0d4"/>
<ellipse cx="130.80" cy="128.40" rx="1.20" ry="0.7" fill="#6c7aa0"/>
<rect x="129.60" y="124.90" width="2.40" height="3.50" fill="url(#shade)"/>
<rect x="492.40" y="126.00" width="2.40" height="2.40" fill="url(#gB)"/>
<ellipse cx="493.60" cy="126.00" rx="1.20" ry="0.7" fill="#a8b0d4"/>
<ellipse cx="493.60" cy="128.40" rx="1.20" ry="0.7" fill="#6c7aa0"/>
<rect x="492.40" y="126.00" width="2.40" height="2.40" fill="url(#shade)"/>
<rect x="454.20" y="125.70" width="2.40" height="2.90" fill="url(#gG)"/>
<ellipse cx="455.40" cy="125.70" rx="1.20" ry="0.7" fill="#d4daa8"/>
<ellipse cx="455.40" cy="128.60" rx="1.20" ry="0.7" fill="#a2aa74"/>
<rect x="454.20" y="125.70" width="2.40" height="2.90" fill="url(#shade)"/>
<rect x="175.80" y="126.00" width="2.40" height="3.50" fill="url(#gR)"/>
<ellipse cx="177.00" cy="126.00" rx="1.20" ry="0.7" fill="#c4a0a0"/>
<ellipse cx="177.00" cy="129.50" rx="1.20" ry="0.7" fill="#886464"/>
<rect x="175.80" y="126.00" width="2.40" height="3.50" fill="url(#shade)"/>
<rect x="218.20" y="120.10" width="2.80" height="9.40" fill="url(#gG)"/>
<ellipse cx="219.60" cy="120.10" rx="1.40" ry="0.7" fill="#d4daa8"/>
<ellipse cx="219.60" cy="129.50" rx="1.40" ry="0.7" fill="#a2aa74"/>
<rect x="218.20" y="125.50" width="2.80" height="4.00" fill="url(#shade)"/>
<rect x="463.00" y="115.40" width="2.80" height="14.10" fill="url(#gG)"/>
<ellipse cx="464.40" cy="115.40" rx="1.40" ry="0.7" fill="#d4daa8"/>
<ellipse cx="464.40" cy="129.50" rx="1.40" ry="0.7" fill="#a2aa74"/>
<rect x="463.00" y="125.50" width="2.80" height="4.00" fill="url(#shade)"/>
<rect x="430.20" y="126.80" width="2.40" height="3.20" fill="url(#gR)"/>
<ellipse cx="431.40" cy="126.80" rx="1.20" ry="0.7" fill="#c4a0a0"/>
<ellipse cx="431.40" cy="130.00" rx="1.20" ry="0.7" fill="#886464"/>
<rect x="430.20" y="126.80" width="2.40" height="3.20" fill="url(#shade)"/>
<rect x="439.00" y="128.00" width="2.40" height="2.00" fill="url(#gR)"/>
<ellipse cx="440.20" cy="128.00" rx="1.20" ry="0.7" fill="#c4a0a0"/>
<ellipse cx="440.20" cy="130.00" rx="1.20" ry="0.7" fill="#886464"/>
<rect x="439.00" y="128.00" width="2.40" height="2.00" fill="url(#shade)"/>
<rect x="442.80" y="126.80" width="2.40" height="3.20" fill="url(#gR)"/>
<ellipse cx="444.00" cy="126.80" rx="1.20" ry="0.7" fill="#c4a0a0"/>
<ellipse cx="444.00" cy="130.00" rx="1.20" ry="0.7" fill="#886464"/>
<rect x="442.80" y="126.80" width="2.40" height="3.20" fill="url(#shade)"/>
<rect x="179.90" y="126.60" width="2.40" height="3.50" fill="url(#gR)"/>
<ellipse cx="181.10" cy="126.60" rx="1.20" ry="0.7" fill="#c4a0a0"/>
<ellipse cx="181.10" cy="130.10" rx="1.20" ry="0.7" fill="#886464"/>
<rect x="179.90" y="126.60" width="2.40" height="3.50" fill="url(#shade)"/>
<rect x="184.00" y="127.20" width="2.40" height="3.50" fill="url(#gR)"/>
<ellipse cx="185.20" cy="127.20" rx="1.20" ry="0.7" fill="#c4a0a0"/>
<ellipse cx="185.20" cy="130.70" rx="1.20" ry="0.7" fill="#886464"/>
<rect x="184.00" y="127.20" width="2.40" height="3.50" fill="url(#shade)"/>
<rect x="188.70" y="128.30" width="2.40" height="3.00" fill="url(#gR)"/>
<ellipse cx="189.90" cy="128.30" rx="1.20" ry="0.7" fill="#c4a0a0"/>
<ellipse cx="189.90" cy="131.30" rx="1.20" ry="0.7" fill="#886464"/>
<rect x="188.70" y="128.30" width="2.40" height="3.00" fill="url(#shade)"/>
<rect x="226.60" y="128.30" width="2.40" height="3.00" fill="url(#gG)"/>
<ellipse cx="227.80" cy="128.30" rx="1.20" ry="0.7" fill="#d4daa8"/>
<ellipse cx="227.80" cy="131.30" rx="1.20" ry="0.7" fill="#a2aa74"/>
<rect x="226.60" y="128.30" width="2.40" height="3.00" fill="url(#shade)"/>
<rect x="476.60" y="128.90" width="2.40" height="2.40" fill="url(#gG)"/>
<ellipse cx="477.80" cy="128.90" rx="1.20" ry="0.7" fill="#d4daa8"/>
<ellipse cx="477.80" cy="131.30" rx="1.20" ry="0.7" fill="#a2aa74"/>
<rect x="476.60" y="128.90" width="2.40" height="2.40" fill="url(#shade)"/>
<rect x="234.80" y="126.00" width="2.40" height="5.80" fill="url(#gR)"/>
<ellipse cx="236.00" cy="126.00" rx="1.20" ry="0.7" fill="#c4a0a0"/>
<ellipse cx="236.00" cy="131.80" rx="1.20" ry="0.7" fill="#886464"/>
<rect x="234.80" y="127.80" width="2.40" height="4.00" fill="url(#shade)"/>
<rect x="201.50" y="128.90" width="2.40" height="4.10" fill="url(#gR)"/>
<ellipse cx="202.70" cy="128.90" rx="1.20" ry="0.7" fill="#c4a0a0"/>
<ellipse cx="202.70" cy="133.00" rx="1.20" ry="0.7" fill="#886464"/>
<rect x="201.50" y="129.00" width="2.40" height="4.00" fill="url(#shade)"/>
<rect x="210.00" y="113.10" width="2.80" height="19.90" fill="url(#gR)"/>
<ellipse cx="211.40" cy="113.10" rx="1.40" ry="0.7" fill="#c4a0a0"/>
<ellipse cx="211.40" cy="133.00" rx="1.40" ry="0.7" fill="#886464"/>
<rect x="210.00" y="129.00" width="2.80" height="4.00" fill="url(#shade)"/>
<rect x="460.20" y="127.20" width="2.40" height="5.80" fill="url(#gR)"/>
<ellipse cx="461.40" cy="127.20" rx="1.20" ry="0.7" fill="#c4a0a0"/>
<ellipse cx="461.40" cy="133.00" rx="1.20" ry="0.7" fill="#886464"/>
<rect x="460.20" y="129.00" width="2.40" height="4.00" fill="url(#shade)"/>
<rect x="484.80" y="130.70" width="2.40" height="2.30" fill="url(#gG)"/>
<ellipse cx="486.00" cy="130.70" rx="1.20" ry="0.7" fill="#d4daa8"/>
<ellipse cx="486.00" cy="133.00" rx="1.20" ry="0.7" fill="#a2aa74"/>
<rect x="484.80" y="130.70" width="2.40" height="2.30" fill="url(#shade)"/>
<rect x="214.90" y="130.70" width="2.40" height="3.50" fill="url(#gB)"/>
<ellipse cx="216.10" cy="130.70" rx="1.20" ry="0.7" fill="#a8b0d4"/>
<ellipse cx="216.10" cy="134.20" rx="1.20" ry="0.7" fill="#6c7aa0"/>
<rect x="214.90" y="130.70" width="2.40" height="3.50" fill="url(#shade)"/>
<rect x="189.20" y="131.80" width="2.40" height="3.20" fill="url(#gB)"/>
<ellipse cx="190.40" cy="131.80" rx="1.20" ry="0.7" fill="#a8b0d4"/>
<ellipse cx="190.40" cy="135.00" rx="1.20" ry="0.7" fill="#6c7aa0"/>
<rect x="189.20" y="131.80" width="2.40" height="3.20" fill="url(#shade)"/>
<rect x="198.00" y="132.40" width="2.40" height="2.60" fill="url(#gB)"/>
<ellipse cx="199.20" cy="132.40" rx="1.20" ry="0.7" fill="#a8b0d4"/>
<ellipse cx="199.20" cy="135.00" rx="1.20" ry="0.7" fill="#6c7aa0"/>
<rect x="198.00" y="132.40" width="2.40" height="2.60" fill="url(#shade)"/>
<rect x="481.90" y="133.00" width="2.40" height="2.00" fill="url(#gR)"/>
<ellipse cx="483.10" cy="133.00" rx="1.20" ry="0.7" fill="#c4a0a0"/>
<ellipse cx="483.10" cy="135.00" rx="1.20" ry="0.7" fill="#886464"/>
<rect x="481.90" y="133.00" width="2.40" height="2.00" fill="url(#shade)"/>
<rect x="60.10" y="335.10" width="2.80" height="24.90" fill="url(#gO)"/>
<ellipse cx="61.50" cy="335.10" rx="1.40" ry="0.7" fill="#e4c890"/>
<ellipse cx="61.50" cy="360.00" rx="1.40" ry="0.7" fill="#b8965a"/>
<rect x="60.10" y="356.00" width="2.80" height="4.00" fill="url(#shade)"/>
<rect x="315.80" y="362.20" width="2.40" height="1.80" fill="url(#gO)"/>
<ellipse cx="317.00" cy="362.20" rx="1.20" ry="0.7" fill="#e4c890"/>
<ellipse cx="317.00" cy="364.00" rx="1.20" ry="0.7" fill="#b8965a"/>
<rect x="315.80" y="362.20" width="2.40" height="1.80" fill="url(#shade)"/>
<rect x="380.00" y="338.80" width="2.80" height="25.20" fill="url(#gO)"/>
<ellipse cx="381.40" cy="338.80" rx="1.40" ry="0.7" fill="#e4c890"/>
<ellipse cx="381.40" cy="364.00" rx="1.40" ry="0.7" fill="#b8965a"/>
<rect x="380.00" y="360.00" width="2.80" height="4.00" fill="url(#shade)"/>
<rect x="399.60" y="348.70" width="2.80" height="15.30" fill="url(#gO)"/>
<ellipse cx="401.00" cy="348.70" rx="1.40" ry="0.7" fill="#e4c890"/>
<ellipse cx="401.00" cy="364.00" rx="1.40" ry="0.7" fill="#b8965a"/>
<rect x="399.60" y="360.00" width="2.80" height="4.00" fill="url(#shade)"/>
<rect x="348.90" y="361.20" width="2.40" height="5.30" fill="url(#gR)"/>
<ellipse cx="350.10" cy="361.20" rx="1.20" ry="0.7" fill="#c4a0a0"/>
<ellipse cx="350.10" cy="366.50" rx="1.20" ry="0.7" fill="#886464"/>
<rect x="348.90" y="362.50" width="2.40" height="4.00" fill="url(#shade)"/>
<rect x="311.10" y="365.50" width="2.40" height="1.80" fill="url(#gC)"/>
<ellipse cx="312.30" cy="365.50" rx="1.20" ry="0.7" fill="#c6deea"/>
<ellipse cx="312.30" cy="367.30" rx="1.20" ry="0.7" fill="#8cb0c4"/>
<rect x="311.10" y="365.50" width="2.40" height="1.80" fill="url(#shade)"/>
<rect x="356.60" y="361.40" width="2.40" height="5.90" fill="url(#gR)"/>
<ellipse cx="357.80" cy="361.40" rx="1.20" ry="0.7" fill="#c4a0a0"/>
<ellipse cx="357.80" cy="367.30" rx="1.20" ry="0.7" fill="#886464"/>
<rect x="356.60" y="363.30" width="2.40" height="4.00" fill="url(#shade)"/>
<rect x="383.90" y="358.10" width="2.80" height="9.40" fill="url(#gO)"/>
<ellipse cx="385.30" cy="358.10" rx="1.40" ry="0.7" fill="#e4c890"/>
<ellipse cx="385.30" cy="367.50" rx="1.40" ry="0.7" fill="#b8965a"/>
<rect x="383.90" y="363.50" width="2.80" height="4.00" fill="url(#shade)"/>
<rect x="314.90" y="366.90" width="2.40" height="1.40" fill="url(#gB)"/>
<ellipse cx="316.10" cy="366.90" rx="1.20" ry="0.7" fill="#a8b0d4"/>
<ellipse cx="316.10" cy="368.30" rx="1.20" ry="0.7" fill="#6c7aa0"/>
<rect x="314.90" y="366.90" width="2.40" height="1.40" fill="url(#shade)"/>
<rect x="352.80" y="363.70" width="2.40" height="4.70" fill="url(#gO)"/>
<ellipse cx="354.00" cy="363.70" rx="1.20" ry="0.7" fill="#e4c890"/>
<ellipse cx="354.00" cy="368.40" rx="1.20" ry="0.7" fill="#b8965a"/>
<rect x="352.80" y="364.40" width="2.40" height="4.00" fill="url(#shade)"/>
<rect x="387.90" y="364.50" width="2.40" height="4.10" fill="url(#gO)"/>
<ellipse cx="389.10" cy="364.50" rx="1.20" ry="0.7" fill="#e4c890"/>
<ellipse cx="389.10" cy="368.60" rx="1.20" ry="0.7" fill="#b8965a"/>
<rect x="387.90" y="364.60" width="2.40" height="4.00" fill="url(#shade)"/>
<rect x="60.20" y="360.00" width="2.80" height="9.30" fill="url(#gC)"/>
<ellipse cx="61.60" cy="360.00" rx="1.40" ry="0.7" fill="#c6deea"/>
<ellipse cx="61.60" cy="369.30" rx="1.40" ry="0.7" fill="#8cb0c4"/>
<rect x="60.20" y="365.30" width="2.80" height="4.00" fill="url(#shade)"/>
<rect x="75.40" y="361.10" width="2.80" height="8.20" fill="url(#gO)"/>
<ellipse cx="76.80" cy="361.10" rx="1.40" ry="0.7" fill="#e4c890"/>
<ellipse cx="76.80" cy="369.30" rx="1.40" ry="0.7" fill="#b8965a"/>
<rect x="75.40" y="365.30" width="2.80" height="4.00" fill="url(#shade)"/>
<rect x="82.40" y="350.50" width="2.80" height="18.80" fill="url(#gO)"/>
<ellipse cx="83.80" cy="350.50" rx="1.40" ry="0.7" fill="#e4c890"/>
<ellipse cx="83.80" cy="369.30" rx="1.40" ry="0.7" fill="#b8965a"/>
<rect x="82.40" y="365.30" width="2.80" height="4.00" fill="url(#shade)"/>
<rect x="326.10" y="368.30" width="2.40" height="1.40" fill="url(#gC)"/>
<ellipse cx="327.30" cy="368.30" rx="1.20" ry="0.7" fill="#c6deea"/>
<ellipse cx="327.30" cy="369.70" rx="1.20" ry="0.7" fill="#8cb0c4"/>
<rect x="326.10" y="368.30" width="2.40" height="1.40" fill="url(#shade)"/>
<rect x="305.80" y="362.20" width="2.80" height="8.40" fill="url(#gP)"/>
<ellipse cx="307.20" cy="362.20" rx="1.40" ry="0.7" fill="#aaa8d4"/>
<ellipse cx="307.20" cy="370.60" rx="1.40" ry="0.7" fill="#76749e"/>
<rect x="305.80" y="366.60" width="2.80" height="4.00" fill="url(#shade)"/>
<rect x="310.70" y="368.70" width="2.40" height="2.40" fill="url(#gP)"/>
<ellipse cx="311.90" cy="368.70" rx="1.20" ry="0.7" fill="#aaa8d4"/>
<ellipse cx="311.90" cy="371.10" rx="1.20" ry="0.7" fill="#76749e"/>
<rect x="310.70" y="368.70" width="2.40" height="2.40" fill="url(#shade)"/>
<rect x="122.20" y="349.40" width="2.80" height="22.20" fill="url(#gO)"/>
<ellipse cx="123.60" cy="349.40" rx="1.40" ry="0.7" fill="#e4c890"/>
<ellipse cx="123.60" cy="371.60" rx="1.40" ry="0.7" fill="#b8965a"/>
<rect x="122.20" y="367.60" width="2.80" height="4.00" fill="url(#shade)"/>
<rect x="127.00" y="360.50" width="2.80" height="11.10" fill="url(#gO)"/>
<ellipse cx="128.40" cy="360.50" rx="1.40" ry="0.7" fill="#e4c890"/>
<ellipse cx="128.40" cy="371.60" rx="1.40" ry="0.7" fill="#b8965a"/>
<rect x="127.00" y="367.60" width="2.80" height="4.00" fill="url(#shade)"/>
<rect x="318.20" y="371.10" width="2.40" height="1.40" fill="url(#gP)"/>
<ellipse cx="319.40" cy="371.10" rx="1.20" ry="0.7" fill="#aaa8d4"/>
<ellipse cx="319.40" cy="372.50" rx="1.20" ry="0.7" fill="#76749e"/>
<rect x="318.20" y="371.10" width="2.40" height="1.40" fill="url(#shade)"/>
<rect x="321.70" y="369.20" width="2.40" height="3.30" fill="url(#gP)"/>
<ellipse cx="322.90" cy="369.20" rx="1.20" ry="0.7" fill="#aaa8d4"/>
<ellipse cx="322.90" cy="372.50" rx="1.20" ry="0.7" fill="#76749e"/>
<rect x="321.70" y="369.20" width="2.40" height="3.30" fill="url(#shade)"/>
<rect x="56.70" y="355.20" width="2.80" height="17.60" fill="url(#gC)"/>
<ellipse cx="58.10" cy="355.20" rx="1.40" ry="0.7" fill="#c6deea"/>
<ellipse cx="58.10" cy="372.80" rx="1.40" ry="0.7" fill="#8cb0c4"/>
<rect x="56.70" y="368.80" width="2.80" height="4.00" fill="url(#shade)"/>
<rect x="360.40" y="368.20" width="2.40" height="4.70" fill="url(#gC)"/>
<ellipse cx="361.60" cy="368.20" rx="1.20" ry="0.7" fill="#c6deea"/>
<ellipse cx="361.60" cy="372.90" rx="1.20" ry="0.7" fill="#8cb0c4"/>
<rect x="360.40" y="368.90" width="2.40" height="4.00" fill="url(#shade)"/>
<rect x="49.40" y="311.10" width="2.80" height="62.90" fill="url(#gP)"/>
<ellipse cx="50.80" cy="311.10" rx="1.40" ry="0.7" fill="#aaa8d4"/>
<ellipse cx="50.80" cy="374.00" rx="1.40" ry="0.7" fill="#76749e"/>
<rect x="49.40" y="370.00" width="2.80" height="4.00" fill="url(#shade)"/>
<rect x="53.80" y="341.00" width="2.80" height="33.00" fill="url(#gP)"/>
<ellipse cx="55.20" cy="341.00" rx="1.40" ry="0.7" fill="#aaa8d4"/>
<ellipse cx="55.20" cy="374.00" rx="1.40" ry="0.7" fill="#76749e"/>
<rect x="53.80" y="370.00" width="2.80" height="4.00" fill="url(#shade)"/>
<rect x="100.50" y="367.00" width="2.80" height="7.00" fill="url(#gO)"/>
<ellipse cx="101.90" cy="367.00" rx="1.40" ry="0.7" fill="#e4c890"/>
<ellipse cx="101.90" cy="374.00" rx="1.40" ry="0.7" fill="#b8965a"/>
<rect x="100.50" y="370.00" width="2.80" height="4.00" fill="url(#shade)"/>
<rect x="302.20" y="373.00" width="2.40" height="1.40" fill="url(#gG)"/>
<ellipse cx="303.40" cy="373.00" rx="1.20" ry="0.7" fill="#d4daa8"/>
<ellipse cx="303.40" cy="374.40" rx="1.20" ry="0.7" fill="#a2aa74"/>
<rect x="302.20" y="373.00" width="2.40" height="1.40" fill="url(#shade)"/>
<rect x="63.70" y="351.70" width="2.80" height="23.40" fill="url(#gR)"/>
<ellipse cx="65.10" cy="351.70" rx="1.40" ry="0.7" fill="#c4a0a0"/>
<ellipse cx="65.10" cy="375.10" rx="1.40" ry="0.7" fill="#886464"/>
<rect x="63.70" y="371.10" width="2.80" height="4.00" fill="url(#shade)"/>
<rect x="65.20" y="335.70" width="2.80" height="39.40" fill="url(#gP)"/>
<ellipse cx="66.60" cy="335.70" rx="1.40" ry="0.7" fill="#aaa8d4"/>
<ellipse cx="66.60" cy="375.10" rx="1.40" ry="0.7" fill="#76749e"/>
<rect x="65.20" y="371.10" width="2.80" height="4.00" fill="url(#shade)"/>
<rect x="72.50" y="342.20" width="2.80" height="32.90" fill="url(#gP)"/>
<ellipse cx="73.90" cy="342.20" rx="1.40" ry="0.7" fill="#aaa8d4"/>
<ellipse cx="73.90" cy="375.10" rx="1.40" ry="0.7" fill="#76749e"/>
<rect x="72.50" y="371.10" width="2.80" height="4.00" fill="url(#shade)"/>
<rect x="96.00" y="371.60" width="2.40" height="3.50" fill="url(#gC)"/>
<ellipse cx="97.20" cy="371.60" rx="1.20" ry="0.7" fill="#c6deea"/>
<ellipse cx="97.20" cy="375.10" rx="1.20" ry="0.7" fill="#8cb0c4"/>
<rect x="96.00" y="371.60" width="2.40" height="3.50" fill="url(#shade)"/>
<rect x="130.50" y="371.00" width="2.40" height="4.10" fill="url(#gO)"/>
<ellipse cx="131.70" cy="371.00" rx="1.20" ry="0.7" fill="#e4c890"/>
<ellipse cx="131.70" cy="375.10" rx="1.20" ry="0.7" fill="#b8965a"/>
<rect x="130.50" y="371.10" width="2.40" height="4.00" fill="url(#shade)"/>
<rect x="134.40" y="365.20" width="2.80" height="9.90" fill="url(#gO)"/>
<ellipse cx="135.80" cy="365.20" rx="1.40" ry="0.7" fill="#e4c890"/>
<ellipse cx="135.80" cy="375.10" rx="1.40" ry="0.7" fill="#b8965a"/>
<rect x="134.40" y="371.10" width="2.80" height="4.00" fill="url(#shade)"/>
<rect x="340.30" y="330.00" width="2.80" height="45.20" fill="url(#gP)"/>
<ellipse cx="341.70" cy="330.00" rx="1.40" ry="0.7" fill="#aaa8d4"/>
<ellipse cx="341.70" cy="375.20" rx="1.40" ry="0.7" fill="#76749e"/>
<rect x="340.30" y="371.20" width="2.80" height="4.00" fill="url(#shade)"/>
<rect x="344.40" y="364.70" width="2.80" height="10.50" fill="url(#gP)"/>
<ellipse cx="345.80" cy="364.70" rx="1.40" ry="0.7" fill="#aaa8d4"/>
<ellipse cx="345.80" cy="375.20" rx="1.40" ry="0.7" fill="#76749e"/>
<rect x="344.40" y="371.20" width="2.80" height="4.00" fill="url(#shade)"/>
<rect x="352.60" y="368.40" width="2.80" height="6.80" fill="url(#gY)"/>
<ellipse cx="354.00" cy="368.40" rx="1.40" ry="0.7" fill="#bcbac6"/>
<ellipse cx="354.00" cy="375.20" rx="1.40" ry="0.7" fill="#8c8a9a"/>
<rect x="352.60" y="371.20" width="2.80" height="4.00" fill="url(#shade)"/>
<rect x="77.40" y="355.20" width="2.80" height="21.10" fill="url(#gC)"/>
<ellipse cx="78.80" cy="355.20" rx="1.40" ry="0.7" fill="#c6deea"/>
<ellipse cx="78.80" cy="376.30" rx="1.40" ry="0.7" fill="#8cb0c4"/>
<rect x="77.40" y="372.30" width="2.80" height="4.00" fill="url(#shade)"/>
<rect x="142.00" y="367.00" width="2.80" height="9.30" fill="url(#gO)"/>
<ellipse cx="143.40" cy="367.00" rx="1.40" ry="0.7" fill="#e4c890"/>
<ellipse cx="143.40" cy="376.30" rx="1.40" ry="0.7" fill="#b8965a"/>
<rect x="142.00" y="372.30" width="2.80" height="4.00" fill="url(#shade)"/>
<rect x="348.70" y="366.50" width="2.80" height="9.90" fill="url(#gP)"/>
<ellipse cx="350.10" cy="366.50" rx="1.40" ry="0.7" fill="#aaa8d4"/>
<ellipse cx="350.10" cy="376.40" rx="1.40" ry="0.7" fill="#76749e"/>
<rect x="348.70" y="372.40" width="2.80" height="4.00" fill="url(#shade)"/>
<rect x="356.40" y="367.30" width="2.80" height="9.10" fill="url(#gP)"/>
<ellipse cx="357.80" cy="367.30" rx="1.40" ry="0.7" fill="#aaa8d4"/>
<ellipse cx="357.80" cy="376.40" rx="1.40" ry="0.7" fill="#76749e"/>
<rect x="356.40" y="372.40" width="2.80" height="4.00" fill="url(#shade)"/>
<rect x="363.40" y="352.80" width="2.80" height="23.60" fill="url(#gP)"/>
<ellipse cx="364.80" cy="352.80" rx="1.40" ry="0.7" fill="#aaa8d4"/>
<ellipse cx="364.80" cy="376.40" rx="1.40" ry="0.7" fill="#76749e"/>
<rect x="363.40" y="372.40" width="2.80" height="4.00" fill="url(#shade)"/>
<rect x="415.20" y="367.30" width="2.80" height="9.40" fill="url(#gO)"/>
<ellipse cx="416.60" cy="367.30" rx="1.40" ry="0.7" fill="#e4c890"/>
<ellipse cx="416.60" cy="376.70" rx="1.40" ry="0.7" fill="#b8965a"/>
<rect x="415.20" y="372.70" width="2.80" height="4.00" fill="url(#shade)"/>
<rect x="419.30" y="365.10" width="2.80" height="11.70" fill="url(#gO)"/>
<ellipse cx="420.70" cy="365.10" rx="1.40" ry="0.7" fill="#e4c890"/>
<ellipse cx="420.70" cy="376.80" rx="1.40" ry="0.7" fill="#b8965a"/>
<rect x="419.30" y="372.80" width="2.80" height="4.00" fill="url(#shade)"/>
<rect x="463.60" y="364.50" width="2.80" height="12.30" fill="url(#gO)"/>
<ellipse cx="465.00" cy="364.50" rx="1.40" ry="0.7" fill="#e4c890"/>
<ellipse cx="465.00" cy="376.80" rx="1.40" ry="0.7" fill="#b8965a"/>
<rect x="463.60" y="372.80" width="2.80" height="4.00" fill="url(#shade)"/>
<rect x="46.20" y="370.40" width="2.80" height="7.10" fill="url(#gG)"/>
<ellipse cx="47.60" cy="370.40" rx="1.40" ry="0.7" fill="#d4daa8"/>
<ellipse cx="47.60" cy="377.50" rx="1.40" ry="0.7" fill="#a2aa74"/>
<rect x="46.20" y="373.50" width="2.80" height="4.00" fill="url(#shade)"/>
<rect x="49.90" y="371.60" width="2.40" height="5.90" fill="url(#gG)"/>
<ellipse cx="51.10" cy="371.60" rx="1.20" ry="0.7" fill="#d4daa8"/>
<ellipse cx="51.10" cy="377.50" rx="1.20" ry="0.7" fill="#a2aa74"/>
<rect x="49.90" y="373.50" width="2.40" height="4.00" fill="url(#shade)"/>
<rect x="84.10" y="360.00" width="2.80" height="17.50" fill="url(#gP)"/>
<ellipse cx="85.50" cy="360.00" rx="1.40" ry="0.7" fill="#aaa8d4"/>
<ellipse cx="85.50" cy="377.50" rx="1.40" ry="0.7" fill="#76749e"/>
<rect x="84.10" y="373.50" width="2.80" height="4.00" fill="url(#shade)"/>
<rect x="87.60" y="363.40" width="2.80" height="14.10" fill="url(#gP)"/>
<ellipse cx="89.00" cy="363.40" rx="1.40" ry="0.7" fill="#aaa8d4"/>
<ellipse cx="89.00" cy="377.50" rx="1.40" ry="0.7" fill="#76749e"/>
<rect x="87.60" y="373.50" width="2.80" height="4.00" fill="url(#shade)"/>
<rect x="149.80" y="371.60" width="2.40" height="5.90" fill="url(#gO)"/>
<ellipse cx="151.00" cy="371.60" rx="1.20" ry="0.7" fill="#e4c890"/>
<ellipse cx="151.00" cy="377.50" rx="1.20" ry="0.7" fill="#b8965a"/>
<rect x="149.80" y="373.50" width="2.40" height="4.00" fill="url(#shade)"/>
<rect x="435.00" y="368.50" width="2.80" height="9.40" fill="url(#gO)"/>
<ellipse cx="436.40" cy="368.50" rx="1.40" ry="0.7" fill="#e4c890"/>
<ellipse cx="436.40" cy="377.90" rx="1.40" ry="0.7" fill="#b8965a"/>
<rect x="435.00" y="373.90" width="2.80" height="4.00" fill="url(#shade)"/>
<rect x="439.30" y="372.00" width="2.40" height="5.90" fill="url(#gO)"/>
<ellipse cx="440.50" cy="372.00" rx="1.20" ry="0.7" fill="#e4c890"/>
<ellipse cx="440.50" cy="377.90" rx="1.20" ry="0.7" fill="#b8965a"/>
<rect x="439.30" y="373.90" width="2.40" height="4.00" fill="url(#shade)"/>
<rect x="336.20" y="370.50" width="2.80" height="7.60" fill="url(#gG)"/>
<ellipse cx="337.60" cy="370.50" rx="1.40" ry="0.7" fill="#d4daa8"/>
<ellipse cx="337.60" cy="378.10" rx="1.40" ry="0.7" fill="#a2aa74"/>
<rect x="336.20" y="374.10" width="2.80" height="4.00" fill="url(#shade)"/>
<rect x="53.40" y="376.30" width="2.40" height="2.30" fill="url(#gG)"/>
<ellipse cx="54.60" cy="376.30" rx="1.20" ry="0.7" fill="#d4daa8"/>
<ellipse cx="54.60" cy="378.60" rx="1.20" ry="0.7" fill="#a2aa74"/>
<rect x="53.40" y="376.30" width="2.40" height="2.30" fill="url(#shade)"/>
<rect x="61.40" y="370.40" width="2.80" height="8.20" fill="url(#gG)"/>
<ellipse cx="62.80" cy="370.40" rx="1.40" ry="0.7" fill="#d4daa8"/>
<ellipse cx="62.80" cy="378.60" rx="1.40" ry="0.7" fill="#a2aa74"/>
<rect x="61.40" y="374.60" width="2.80" height="4.00" fill="url(#shade)"/>
<rect x="69.00" y="369.30" width="2.80" height="9.30" fill="url(#gG)"/>
<ellipse cx="70.40" cy="369.30" rx="1.40" ry="0.7" fill="#d4daa8"/>
<ellipse cx="70.40" cy="378.60" rx="1.40" ry="0.7" fill="#a2aa74"/>
<rect x="69.00" y="374.60" width="2.80" height="4.00" fill="url(#shade)"/>
<rect x="91.70" y="369.30" width="2.80" height="9.30" fill="url(#gP)"/>
<ellipse cx="93.10" cy="369.30" rx="1.40" ry="0.7" fill="#aaa8d4"/>
<ellipse cx="93.10" cy="378.60" rx="1.40" ry="0.7" fill="#76749e"/>
<rect x="91.70" y="374.60" width="2.80" height="4.00" fill="url(#shade)"/>
<rect x="99.60" y="375.10" width="2.40" height="3.50" fill="url(#gC)"/>
<ellipse cx="100.80" cy="375.10" rx="1.20" ry="0.7" fill="#c6deea"/>
<ellipse cx="100.80" cy="378.60" rx="1.20" ry="0.7" fill="#8cb0c4"/>
<rect x="99.60" y="375.10" width="2.40" height="3.50" fill="url(#shade)"/>
<rect x="344.00" y="375.80" width="2.40" height="3.50" fill="url(#gG)"/>
<ellipse cx="345.20" cy="375.80" rx="1.20" ry="0.7" fill="#d4daa8"/>
<ellipse cx="345.20" cy="379.30" rx="1.20" ry="0.7" fill="#a2aa74"/>
<rect x="344.00" y="375.80" width="2.40" height="3.50" fill="url(#shade)"/>
<rect x="479.60" y="368.30" width="2.80" height="11.20" fill="url(#gO)"/>
<ellipse cx="481.00" cy="368.30" rx="1.40" ry="0.7" fill="#e4c890"/>
<ellipse cx="481.00" cy="379.50" rx="1.40" ry="0.7" fill="#b8965a"/>
<rect x="479.60" y="375.50" width="2.80" height="4.00" fill="url(#shade)"/>
<rect x="415.40" y="377.90" width="2.40" height="1.70" fill="url(#gC)"/>
<ellipse cx="416.60" cy="377.90" rx="1.20" ry="0.7" fill="#c6deea"/>
<ellipse cx="416.60" cy="379.60" rx="1.20" ry="0.7" fill="#8cb0c4"/>
<rect x="415.40" y="377.90" width="2.40" height="1.70" fill="url(#shade)"/>
<rect x="57.50" y="375.10" width="2.40" height="4.70" fill="url(#gG)"/>
<ellipse cx="58.70" cy="375.10" rx="1.20" ry="0.7" fill="#d4daa8"/>
<ellipse cx="58.70" cy="379.80" rx="1.20" ry="0.7" fill="#a2aa74"/>
<rect x="57.50" y="375.80" width="2.40" height="4.00" fill="url(#shade)"/>
<rect x="66.30" y="375.10" width="2.40" height="4.70" fill="url(#gG)"/>
<ellipse cx="67.50" cy="375.10" rx="1.20" ry="0.7" fill="#d4daa8"/>
<ellipse cx="67.50" cy="379.80" rx="1.20" ry="0.7" fill="#a2aa74"/>
<rect x="66.30" y="375.80" width="2.40" height="4.00" fill="url(#shade)"/>
<rect x="107.00" y="359.90" width="2.80" height="19.90" fill="url(#gP)"/>
<ellipse cx="108.40" cy="359.90" rx="1.40" ry="0.7" fill="#aaa8d4"/>
<ellipse cx="108.40" cy="379.80" rx="1.40" ry="0.7" fill="#76749e"/>
<rect x="107.00" y="375.80" width="2.80" height="4.00" fill="url(#shade)"/>
<rect x="113.90" y="299.30" width="2.80" height="80.50" fill="url(#gP)"/>
<ellipse cx="115.30" cy="299.30" rx="1.40" ry="0.7" fill="#aaa8d4"/>
<ellipse cx="115.30" cy="379.80" rx="1.40" ry="0.7" fill="#76749e"/>
<rect x="113.90" y="375.80" width="2.80" height="4.00" fill="url(#shade)"/>
<rect x="138.10" y="376.30" width="2.40" height="3.50" fill="url(#gG)"/>
<ellipse cx="139.30" cy="376.30" rx="1.20" ry="0.7" fill="#d4daa8"/>
<ellipse cx="139.30" cy="379.80" rx="1.20" ry="0.7" fill="#a2aa74"/>
<rect x="138.10" y="376.30" width="2.40" height="3.50" fill="url(#shade)"/>
<rect x="162.10" y="377.50" width="2.40" height="2.30" fill="url(#gG)"/>
<ellipse cx="163.30" cy="377.50" rx="1.20" ry="0.7" fill="#d4daa8"/>
<ellipse cx="163.30" cy="379.80" rx="1.20" ry="0.7" fill="#a2aa74"/>
<rect x="162.10" y="377.50" width="2.40" height="2.30" fill="url(#shade)"/>
<rect x="360.40" y="375.20" width="2.40" height="4.70" fill="url(#gG)"/>
<ellipse cx="361.60" cy="375.20" rx="1.20" ry="0.7" fill="#d4daa8"/>
<ellipse cx="361.60" cy="379.90" rx="1.20" ry="0.7" fill="#a2aa74"/>
<rect x="360.40" y="375.90" width="2.40" height="4.00" fill="url(#shade)"/>
<rect x="379.80" y="364.00" width="2.80" height="16.00" fill="url(#gP)"/>
<ellipse cx="381.20" cy="364.00" rx="1.40" ry="0.7" fill="#aaa8d4"/>
<ellipse cx="381.20" cy="380.00" rx="1.40" ry="0.7" fill="#76749e"/>
<rect x="379.80" y="376.00" width="2.80" height="4.00" fill="url(#shade)"/>
<rect x="383.80" y="367.50" width="2.80" height="12.70" fill="url(#gP)"/>
<ellipse cx="385.20" cy="367.50" rx="1.40" ry="0.7" fill="#aaa8d4"/>
<ellipse cx="385.20" cy="380.20" rx="1.40" ry="0.7" fill="#76749e"/>
<rect x="383.80" y="376.20" width="2.80" height="4.00" fill="url(#shade)"/>
<rect x="391.30" y="340.50" width="2.80" height="39.70" fill="url(#gP)"/>
<ellipse cx="392.70" cy="340.50" rx="1.40" ry="0.7" fill="#aaa8d4"/>
<ellipse cx="392.70" cy="380.20" rx="1.40" ry="0.7" fill="#76749e"/>
<rect x="391.30" y="376.20" width="2.80" height="4.00" fill="url(#shade)"/>
<rect x="353.40" y="377.00" width="2.40" height="3.50" fill="url(#gG)"/>
<ellipse cx="354.60" cy="377.00" rx="1.20" ry="0.7" fill="#d4daa8"/>
<ellipse cx="354.60" cy="380.50" rx="1.20" ry="0.7" fill="#a2aa74"/>
<rect x="353.40" y="377.00" width="2.40" height="3.50" fill="url(#shade)"/>
<rect x="467.10" y="371.10" width="2.80" height="9.80" fill="url(#gO)"/>
<ellipse cx="468.50" cy="371.10" rx="1.40" ry="0.7" fill="#e4c890"/>
<ellipse cx="468.50" cy="380.90" rx="1.40" ry="0.7" fill="#b8965a"/>
<rect x="467.10" y="376.90" width="2.80" height="4.00" fill="url(#shade)"/>
<rect x="118.90" y="351.70" width="2.80" height="29.30" fill="url(#gP)"/>
<ellipse cx="120.30" cy="351.70" rx="1.40" ry="0.7" fill="#aaa8d4"/>
<ellipse cx="120.30" cy="381.00" rx="1.40" ry="0.7" fill="#76749e"/>
<rect x="118.90" y="377.00" width="2.80" height="4.00" fill="url(#shade)"/>
<rect x="177.50" y="376.60" width="2.40" height="4.40" fill="url(#gO)"/>
<ellipse cx="178.70" cy="376.60" rx="1.20" ry="0.7" fill="#e4c890"/>
<ellipse cx="178.70" cy="381.00" rx="1.20" ry="0.7" fill="#b8965a"/>
<rect x="177.50" y="377.00" width="2.40" height="4.00" fill="url(#shade)"/>
<rect x="177.80" y="377.70" width="2.40" height="3.30" fill="url(#gO)"/>
<ellipse cx="179.00" cy="377.70" rx="1.20" ry="0.7" fill="#e4c890"/>
<ellipse cx="179.00" cy="381.00" rx="1.20" ry="0.7" fill="#b8965a"/>
<rect x="177.80" y="377.70" width="2.40" height="3.30" fill="url(#shade)"/>
<rect x="80.20" y="378.10" width="2.40" height="3.30" fill="url(#gG)"/>
<ellipse cx="81.40" cy="378.10" rx="1.20" ry="0.7" fill="#d4daa8"/>
<ellipse cx="81.40" cy="381.40" rx="1.20" ry="0.7" fill="#a2aa74"/>
<rect x="80.20" y="378.10" width="2.40" height="3.30" fill="url(#shade)"/>
<rect x="395.10" y="371.60" width="2.80" height="9.80" fill="url(#gP)"/>
<ellipse cx="396.50" cy="371.60" rx="1.40" ry="0.7" fill="#aaa8d4"/>
<ellipse cx="396.50" cy="381.40" rx="1.40" ry="0.7" fill="#76749e"/>
<rect x="395.10" y="377.40" width="2.80" height="4.00" fill="url(#shade)"/>
<rect x="435.20" y="379.00" width="2.40" height="2.40" fill="url(#gC)"/>
<ellipse cx="436.40" cy="379.00" rx="1.20" ry="0.7" fill="#c6deea"/>
<ellipse cx="436.40" cy="381.40" rx="1.20" ry="0.7" fill="#8cb0c4"/>
<rect x="435.20" y="379.00" width="2.40" height="2.40" fill="url(#shade)"/>
<rect x="44.60" y="379.80" width="2.40" height="1.80" fill="url(#gR)"/>
<ellipse cx="45.80" cy="379.80" rx="1.20" ry="0.7" fill="#c4a0a0"/>
<ellipse cx="45.80" cy="381.60" rx="1.20" ry="0.7" fill="#886464"/>
<rect x="44.60" y="379.80" width="2.40" height="1.80" fill="url(#shade)"/>
<rect x="181.60" y="379.00" width="2.40" height="2.70" fill="url(#gO)"/>
<ellipse cx="182.80" cy="379.00" rx="1.20" ry="0.7" fill="#e4c890"/>
<ellipse cx="182.80" cy="381.70" rx="1.20" ry="0.7" fill="#b8965a"/>
<rect x="181.60" y="379.00" width="2.40" height="2.70" fill="url(#shade)"/>
<rect x="331.80" y="379.50" width="2.40" height="2.40" fill="url(#gR)"/>
<ellipse cx="333.00" cy="379.50" rx="1.20" ry="0.7" fill="#c4a0a0"/>
<ellipse cx="333.00" cy="381.90" rx="1.20" ry="0.7" fill="#886464"/>
<rect x="331.80" y="379.50" width="2.40" height="2.40" fill="url(#shade)"/>
<rect x="83.60" y="379.40" width="2.40" height="2.70" fill="url(#gG)"/>
<ellipse cx="84.80" cy="379.40" rx="1.20" ry="0.7" fill="#d4daa8"/>
<ellipse cx="84.80" cy="382.10" rx="1.20" ry="0.7" fill="#a2aa74"/>
<rect x="83.60" y="379.40" width="2.40" height="2.70" fill="url(#shade)"/>
<rect x="87.60" y="379.40" width="2.40" height="2.70" fill="url(#gG)"/>
<ellipse cx="88.80" cy="379.40" rx="1.20" ry="0.7" fill="#d4daa8"/>
<ellipse cx="88.80" cy="382.10" rx="1.20" ry="0.7" fill="#a2aa74"/>
<rect x="87.60" y="379.40" width="2.40" height="2.70" fill="url(#shade)"/>
<rect x="103.10" y="377.50" width="2.40" height="4.70" fill="url(#gG)"/>
<ellipse cx="104.30" cy="377.50" rx="1.20" ry="0.7" fill="#d4daa8"/>
<ellipse cx="104.30" cy="382.20" rx="1.20" ry="0.7" fill="#a2aa74"/>
<rect x="103.10" y="378.20" width="2.40" height="4.00" fill="url(#shade)"/>
<rect x="109.90" y="375.10" width="2.80" height="7.10" fill="url(#gG)"/>
<ellipse cx="111.30" cy="375.10" rx="1.40" ry="0.7" fill="#d4daa8"/>
<ellipse cx="111.30" cy="382.20" rx="1.40" ry="0.7" fill="#a2aa74"/>
<rect x="109.90" y="378.20" width="2.80" height="4.00" fill="url(#shade)"/>
<rect x="122.80" y="371.60" width="2.80" height="10.60" fill="url(#gP)"/>
<ellipse cx="124.20" cy="371.60" rx="1.40" ry="0.7" fill="#aaa8d4"/>
<ellipse cx="124.20" cy="382.20" rx="1.40" ry="0.7" fill="#76749e"/>
<rect x="122.80" y="378.20" width="2.80" height="4.00" fill="url(#shade)"/>
<rect x="127.00" y="371.60" width="2.80" height="10.60" fill="url(#gP)"/>
<ellipse cx="128.40" cy="371.60" rx="1.40" ry="0.7" fill="#aaa8d4"/>
<ellipse cx="128.40" cy="382.20" rx="1.40" ry="0.7" fill="#76749e"/>
<rect x="127.00" y="378.20" width="2.80" height="4.00" fill="url(#shade)"/>
<rect x="371.50" y="192.00" width="2.80" height="190.20" fill="url(#gP)"/>
<ellipse cx="372.90" cy="192.00" rx="1.40" ry="0.7" fill="#aaa8d4"/>
<ellipse cx="372.90" cy="382.20" rx="1.40" ry="0.7" fill="#76749e"/>
<rect x="371.50" y="378.20" width="2.80" height="4.00" fill="url(#shade)"/>
<rect x="375.70" y="348.40" width="2.80" height="33.80" fill="url(#gP)"/>
<ellipse cx="377.10" cy="348.40" rx="1.40" ry="0.7" fill="#aaa8d4"/>
<ellipse cx="377.10" cy="382.20" rx="1.40" ry="0.7" fill="#76749e"/>
<rect x="375.70" y="378.20" width="2.80" height="4.00" fill="url(#shade)"/>
<rect x="331.80" y="379.60" width="2.40" height="3.00" fill="url(#gR)"/>
<ellipse cx="333.00" cy="379.60" rx="1.20" ry="0.7" fill="#c4a0a0"/>
<ellipse cx="333.00" cy="382.60" rx="1.20" ry="0.7" fill="#886464"/>
<rect x="331.80" y="379.60" width="2.40" height="3.00" fill="url(#shade)"/>
<rect x="387.60" y="368.60" width="2.80" height="14.00" fill="url(#gC)"/>
<ellipse cx="389.00" cy="368.60" rx="1.40" ry="0.7" fill="#c6deea"/>
<ellipse cx="389.00" cy="382.60" rx="1.40" ry="0.7" fill="#8cb0c4"/>
<rect x="387.60" y="378.60" width="2.80" height="4.00" fill="url(#shade)"/>
<rect x="399.50" y="364.00" width="2.80" height="18.60" fill="url(#gP)"/>
<ellipse cx="400.90" cy="364.00" rx="1.40" ry="0.7" fill="#aaa8d4"/>
<ellipse cx="400.90" cy="382.60" rx="1.40" ry="0.7" fill="#76749e"/>
<rect x="399.50" y="378.60" width="2.80" height="4.00" fill="url(#shade)"/>
<rect x="407.60" y="351.00" width="2.80" height="31.60" fill="url(#gP)"/>
<ellipse cx="409.00" cy="351.00" rx="1.40" ry="0.7" fill="#aaa8d4"/>
<ellipse cx="409.00" cy="382.60" rx="1.40" ry="0.7" fill="#76749e"/>
<rect x="407.60" y="378.60" width="2.80" height="4.00" fill="url(#shade)"/>
<rect x="411.40" y="355.80" width="2.80" height="26.80" fill="url(#gP)"/>
<ellipse cx="412.80" cy="355.80" rx="1.40" ry="0.7" fill="#aaa8d4"/>
<ellipse cx="412.80" cy="382.60" rx="1.40" ry="0.7" fill="#76749e"/>
<rect x="411.40" y="378.60" width="2.80" height="4.00" fill="url(#shade)"/>
<rect x="427.40" y="348.70" width="2.80" height="33.90" fill="url(#gP)"/>
<ellipse cx="428.80" cy="348.70" rx="1.40" ry="0.7" fill="#aaa8d4"/>
<ellipse cx="428.80" cy="382.60" rx="1.40" ry="0.7" fill="#76749e"/>
<rect x="427.40" y="378.60" width="2.80" height="4.00" fill="url(#shade)"/>
<rect x="52.20" y="381.00" width="2.40" height="1.70" fill="url(#gR)"/>
<ellipse cx="53.40" cy="381.00" rx="1.20" ry="0.7" fill="#c4a0a0"/>
<ellipse cx="53.40" cy="382.70" rx="1.20" ry="0.7" fill="#886464"/>
<rect x="52.20" y="381.00" width="2.40" height="1.70" fill="url(#shade)"/>
<rect x="375.60" y="381.40" width="2.40" height="1.70" fill="url(#gG)"/>
<ellipse cx="376.80" cy="381.40" rx="1.20" ry="0.7" fill="#d4daa8"/>
<ellipse cx="376.80" cy="383.10" rx="1.20" ry="0.7" fill="#a2aa74"/>
<rect x="375.60" y="381.40" width="2.40" height="1.70" fill="url(#shade)"/>
<rect x="62.80" y="379.80" width="2.40" height="3.50" fill="url(#gR)"/>
<ellipse cx="64.00" cy="379.80" rx="1.20" ry="0.7" fill="#c4a0a0"/>
<ellipse cx="64.00" cy="383.30" rx="1.20" ry="0.7" fill="#886464"/>
<rect x="62.80" y="379.80" width="2.40" height="3.50" fill="url(#shade)"/>
<rect x="134.40" y="375.10" width="2.80" height="8.20" fill="url(#gP)"/>
<ellipse cx="135.80" cy="375.10" rx="1.40" ry="0.7" fill="#aaa8d4"/>
<ellipse cx="135.80" cy="383.30" rx="1.40" ry="0.7" fill="#76749e"/>
<rect x="134.40" y="379.30" width="2.80" height="4.00" fill="url(#shade)"/>
<rect x="157.80" y="376.30" width="2.80" height="7.00" fill="url(#gO)"/>
<ellipse cx="159.20" cy="376.30" rx="1.40" ry="0.7" fill="#e4c890"/>
<ellipse cx="159.20" cy="383.30" rx="1.40" ry="0.7" fill="#b8965a"/>
<rect x="157.80" y="379.30" width="2.80" height="4.00" fill="url(#shade)"/>
<rect x="340.50" y="381.10" width="2.40" height="2.30" fill="url(#gR)"/>
<ellipse cx="341.70" cy="381.10" rx="1.20" ry="0.7" fill="#c4a0a0"/>
<ellipse cx="341.70" cy="383.40" rx="1.20" ry="0.7" fill="#886464"/>
<rect x="340.50" y="381.10" width="2.40" height="2.30" fill="url(#shade)"/>
<rect x="343.40" y="381.10" width="2.40" height="2.30" fill="url(#gR)"/>
<ellipse cx="344.60" cy="381.10" rx="1.20" ry="0.7" fill="#c4a0a0"/>
<ellipse cx="344.60" cy="383.40" rx="1.20" ry="0.7" fill="#886464"/>
<rect x="343.40" y="381.10" width="2.40" height="2.30" fill="url(#shade)"/>
<rect x="375.60" y="379.30" width="2.40" height="4.10" fill="url(#gG)"/>
<ellipse cx="376.80" cy="379.30" rx="1.20" ry="0.7" fill="#d4daa8"/>
<ellipse cx="376.80" cy="383.40" rx="1.20" ry="0.7" fill="#a2aa74"/>
<rect x="375.60" y="379.40" width="2.40" height="4.00" fill="url(#shade)"/>
<rect x="102.20" y="377.40" width="2.80" height="6.10" fill="url(#gG)"/>
<ellipse cx="103.60" cy="377.40" rx="1.40" ry="0.7" fill="#d4daa8"/>
<ellipse cx="103.60" cy="383.50" rx="1.40" ry="0.7" fill="#a2aa74"/>
<rect x="102.20" y="379.50" width="2.80" height="4.00" fill="url(#shade)"/>
<rect x="403.50" y="371.00" width="2.80" height="12.70" fill="url(#gP)"/>
<ellipse cx="404.90" cy="371.00" rx="1.40" ry="0.7" fill="#aaa8d4"/>
<ellipse cx="404.90" cy="383.70" rx="1.40" ry="0.7" fill="#76749e"/>
<rect x="403.50" y="379.70" width="2.80" height="4.00" fill="url(#shade)"/>
<rect x="419.30" y="376.70" width="2.80" height="7.00" fill="url(#gC)"/>
<ellipse cx="420.70" cy="376.70" rx="1.40" ry="0.7" fill="#c6deea"/>
<ellipse cx="420.70" cy="383.70" rx="1.40" ry="0.7" fill="#8cb0c4"/>
<rect x="419.30" y="379.70" width="2.80" height="4.00" fill="url(#shade)"/>
<rect x="383.80" y="381.40" width="2.40" height="2.30" fill="url(#gG)"/>
<ellipse cx="385.00" cy="381.40" rx="1.20" ry="0.7" fill="#d4daa8"/>
<ellipse cx="385.00" cy="383.70" rx="1.20" ry="0.7" fill="#a2aa74"/>
<rect x="383.80" y="381.40" width="2.40" height="2.30" fill="url(#shade)"/>
<rect x="347.50" y="381.70" width="2.40" height="2.30" fill="url(#gR)"/>
<ellipse cx="348.70" cy="381.70" rx="1.20" ry="0.7" fill="#c4a0a0"/>
<ellipse cx="348.70" cy="384.00" rx="1.20" ry="0.7" fill="#886464"/>
<rect x="347.50" y="381.70" width="2.40" height="2.30" fill="url(#shade)"/>
<rect x="387.80" y="382.60" width="2.40" height="1.70" fill="url(#gG)"/>
<ellipse cx="389.00" cy="382.60" rx="1.20" ry="0.7" fill="#d4daa8"/>
<ellipse cx="389.00" cy="384.30" rx="1.20" ry="0.7" fill="#a2aa74"/>
<rect x="387.80" y="382.60" width="2.40" height="1.70" fill="url(#shade)"/>
<rect x="499.60" y="376.70" width="2.80" height="7.70" fill="url(#gO)"/>
<ellipse cx="501.00" cy="376.70" rx="1.40" ry="0.7" fill="#e4c890"/>
<ellipse cx="501.00" cy="384.40" rx="1.40" ry="0.7" fill="#b8965a"/>
<rect x="499.60" y="380.40" width="2.80" height="4.00" fill="url(#shade)"/>
<rect x="142.00" y="376.30" width="2.80" height="8.20" fill="url(#gP)"/>
<ellipse cx="143.40" cy="376.30" rx="1.40" ry="0.7" fill="#aaa8d4"/>
<ellipse cx="143.40" cy="384.50" rx="1.40" ry="0.7" fill="#76749e"/>
<rect x="142.00" y="380.50" width="2.80" height="4.00" fill="url(#shade)"/>
<rect x="356.30" y="381.10" width="2.40" height="3.50" fill="url(#gG)"/>
<ellipse cx="357.50" cy="381.10" rx="1.20" ry="0.7" fill="#d4daa8"/>
<ellipse cx="357.50" cy="384.60" rx="1.20" ry="0.7" fill="#a2aa74"/>
<rect x="356.30" y="381.10" width="2.40" height="3.50" fill="url(#shade)"/>
<rect x="363.70" y="376.40" width="2.80" height="8.20" fill="url(#gR)"/>
<ellipse cx="365.10" cy="376.40" rx="1.40" ry="0.7" fill="#c4a0a0"/>
<ellipse cx="365.10" cy="384.60" rx="1.40" ry="0.7" fill="#886464"/>
<rect x="363.70" y="380.60" width="2.80" height="4.00" fill="url(#shade)"/>
<rect x="367.20" y="370.50" width="2.80" height="14.10" fill="url(#gG)"/>
<ellipse cx="368.60" cy="370.50" rx="1.40" ry="0.7" fill="#d4daa8"/>
<ellipse cx="368.60" cy="384.60" rx="1.40" ry="0.7" fill="#a2aa74"/>
<rect x="367.20" y="380.60" width="2.80" height="4.00" fill="url(#shade)"/>
<rect x="110.30" y="378.10" width="2.80" height="6.70" fill="url(#gG)"/>
<ellipse cx="111.70" cy="378.10" rx="1.40" ry="0.7" fill="#d4daa8"/>
<ellipse cx="111.70" cy="384.80" rx="1.40" ry="0.7" fill="#a2aa74"/>
<rect x="110.30" y="380.80" width="2.80" height="4.00" fill="url(#shade)"/>
<rect x="113.90" y="379.40" width="2.40" height="5.40" fill="url(#gG)"/>
<ellipse cx="115.10" cy="379.40" rx="1.20" ry="0.7" fill="#d4daa8"/>
<ellipse cx="115.10" cy="384.80" rx="1.20" ry="0.7" fill="#a2aa74"/>
<rect x="113.90" y="380.80" width="2.40" height="4.00" fill="url(#shade)"/>
<rect x="35.80" y="383.30" width="2.40" height="1.80" fill="url(#gB)"/>
<ellipse cx="37.00" cy="383.30" rx="1.20" ry="0.7" fill="#a8b0d4"/>
<ellipse cx="37.00" cy="385.10" rx="1.20" ry="0.7" fill="#6c7aa0"/>
<rect x="35.80" y="383.30" width="2.40" height="1.80" fill="url(#shade)"/>
<rect x="39.30" y="382.70" width="2.40" height="2.40" fill="url(#gB)"/>
<ellipse cx="40.50" cy="382.70" rx="1.20" ry="0.7" fill="#a8b0d4"/>
<ellipse cx="40.50" cy="385.10" rx="1.20" ry="0.7" fill="#6c7aa0"/>
<rect x="39.30" y="382.70" width="2.40" height="2.40" fill="url(#shade)"/>
<rect x="431.50" y="371.00" width="2.80" height="14.50" fill="url(#gC)"/>
<ellipse cx="432.90" cy="371.00" rx="1.40" ry="0.7" fill="#c6deea"/>
<ellipse cx="432.90" cy="385.50" rx="1.40" ry="0.7" fill="#8cb0c4"/>
<rect x="431.50" y="381.50" width="2.80" height="4.00" fill="url(#shade)"/>
<rect x="327.50" y="383.30" width="2.40" height="2.30" fill="url(#gB)"/>
<ellipse cx="328.70" cy="383.30" rx="1.20" ry="0.7" fill="#a8b0d4"/>
<ellipse cx="328.70" cy="385.60" rx="1.20" ry="0.7" fill="#6c7aa0"/>
<rect x="327.50" y="383.30" width="2.40" height="2.30" fill="url(#shade)"/>
<rect x="130.30" y="375.10" width="2.80" height="10.60" fill="url(#gC)"/>
<ellipse cx="131.70" cy="375.10" rx="1.40" ry="0.7" fill="#c6deea"/>
<ellipse cx="131.70" cy="385.70" rx="1.40" ry="0.7" fill="#8cb0c4"/>
<rect x="130.30" y="381.70" width="2.80" height="4.00" fill="url(#shade)"/>
<rect x="149.80" y="381.00" width="2.40" height="4.70" fill="url(#gP)"/>
<ellipse cx="151.00" cy="381.00" rx="1.20" ry="0.7" fill="#aaa8d4"/>
<ellipse cx="151.00" cy="385.70" rx="1.20" ry="0.7" fill="#76749e"/>
<rect x="149.80" y="381.70" width="2.40" height="4.00" fill="url(#shade)"/>
<rect x="146.10" y="377.50" width="2.80" height="8.30" fill="url(#gP)"/>
<ellipse cx="147.50" cy="377.50" rx="1.40" ry="0.7" fill="#aaa8d4"/>
<ellipse cx="147.50" cy="385.80" rx="1.40" ry="0.7" fill="#76749e"/>
<rect x="146.10" y="381.80" width="2.80" height="4.00" fill="url(#shade)"/>
<rect x="153.90" y="375.10" width="2.80" height="10.70" fill="url(#gP)"/>
<ellipse cx="155.30" cy="375.10" rx="1.40" ry="0.7" fill="#aaa8d4"/>
<ellipse cx="155.30" cy="385.80" rx="1.40" ry="0.7" fill="#76749e"/>
<rect x="153.90" y="381.80" width="2.80" height="4.00" fill="url(#shade)"/>
<rect x="210.80" y="380.20" width="2.40" height="5.90" fill="url(#gG)"/>
<ellipse cx="212.00" cy="380.20" rx="1.20" ry="0.7" fill="#d4daa8"/>
<ellipse cx="212.00" cy="386.10" rx="1.20" ry="0.7" fill="#a2aa74"/>
<rect x="210.80" y="382.10" width="2.40" height="4.00" fill="url(#shade)"/>
<rect x="118.60" y="383.50" width="2.40" height="2.70" fill="url(#gG)"/>
<ellipse cx="119.80" cy="383.50" rx="1.20" ry="0.7" fill="#d4daa8"/>
<ellipse cx="119.80" cy="386.20" rx="1.20" ry="0.7" fill="#a2aa74"/>
<rect x="118.60" y="383.50" width="2.40" height="2.70" fill="url(#shade)"/>
<rect x="122.60" y="382.80" width="2.40" height="3.40" fill="url(#gG)"/>
<ellipse cx="123.80" cy="382.80" rx="1.20" ry="0.7" fill="#d4daa8"/>
<ellipse cx="123.80" cy="386.20" rx="1.20" ry="0.7" fill="#a2aa74"/>
<rect x="122.60" y="382.80" width="2.40" height="3.40" fill="url(#shade)"/>
<rect x="130.00" y="382.10" width="2.40" height="4.10" fill="url(#gG)"/>
<ellipse cx="131.20" cy="382.10" rx="1.20" ry="0.7" fill="#d4daa8"/>
<ellipse cx="131.20" cy="386.20" rx="1.20" ry="0.7" fill="#a2aa74"/>
<rect x="130.00" y="382.20" width="2.40" height="4.00" fill="url(#shade)"/>
<rect x="122.30" y="384.00" width="2.40" height="2.30" fill="url(#gG)"/>
<ellipse cx="123.50" cy="384.00" rx="1.20" ry="0.7" fill="#d4daa8"/>
<ellipse cx="123.50" cy="386.30" rx="1.20" ry="0.7" fill="#a2aa74"/>
<rect x="122.30" y="384.00" width="2.40" height="2.30" fill="url(#shade)"/>
<rect x="371.50" y="384.00" width="2.40" height="2.30" fill="url(#gR)"/>
<ellipse cx="372.70" cy="384.00" rx="1.20" ry="0.7" fill="#c4a0a0"/>
<ellipse cx="372.70" cy="386.30" rx="1.20" ry="0.7" fill="#886464"/>
<rect x="371.50" y="384.00" width="2.40" height="2.30" fill="url(#shade)"/>
<rect x="376.20" y="384.60" width="2.40" height="1.70" fill="url(#gR)"/>
<ellipse cx="377.40" cy="384.60" rx="1.20" ry="0.7" fill="#c4a0a0"/>
<ellipse cx="377.40" cy="386.30" rx="1.20" ry="0.7" fill="#886464"/>
<rect x="376.20" y="384.60" width="2.40" height="1.70" fill="url(#shade)"/>
<rect x="467.10" y="380.90" width="2.40" height="5.60" fill="url(#gP)"/>
<ellipse cx="468.30" cy="380.90" rx="1.20" ry="0.7" fill="#aaa8d4"/>
<ellipse cx="468.30" cy="386.50" rx="1.20" ry="0.7" fill="#76749e"/>
<rect x="467.10" y="382.50" width="2.40" height="4.00" fill="url(#shade)"/>
<rect x="374.40" y="384.90" width="2.40" height="1.80" fill="url(#gR)"/>
<ellipse cx="375.60" cy="384.90" rx="1.20" ry="0.7" fill="#c4a0a0"/>
<ellipse cx="375.60" cy="386.70" rx="1.20" ry="0.7" fill="#886464"/>
<rect x="374.40" y="384.90" width="2.40" height="1.80" fill="url(#shade)"/>
<rect x="400.10" y="384.30" width="2.40" height="2.40" fill="url(#gG)"/>
<ellipse cx="401.30" cy="384.30" rx="1.20" ry="0.7" fill="#d4daa8"/>
<ellipse cx="401.30" cy="386.70" rx="1.20" ry="0.7" fill="#a2aa74"/>
<rect x="400.10" y="384.30" width="2.40" height="2.40" fill="url(#shade)"/>
<rect x="407.80" y="383.70" width="2.40" height="3.00" fill="url(#gG)"/>
<ellipse cx="409.00" cy="383.70" rx="1.20" ry="0.7" fill="#d4daa8"/>
<ellipse cx="409.00" cy="386.70" rx="1.20" ry="0.7" fill="#a2aa74"/>
<rect x="407.80" y="383.70" width="2.40" height="3.00" fill="url(#shade)"/>
<rect x="50.50" y="384.50" width="2.40" height="2.30" fill="url(#gB)"/>
<ellipse cx="51.70" cy="384.50" rx="1.20" ry="0.7" fill="#a8b0d4"/>
<ellipse cx="51.70" cy="386.80" rx="1.20" ry="0.7" fill="#6c7aa0"/>
<rect x="50.50" y="384.50" width="2.40" height="2.30" fill="url(#shade)"/>
<rect x="54.00" y="385.10" width="2.40" height="1.70" fill="url(#gB)"/>
<ellipse cx="55.20" cy="385.10" rx="1.20" ry="0.7" fill="#a8b0d4"/>
<ellipse cx="55.20" cy="386.80" rx="1.20" ry="0.7" fill="#6c7aa0"/>
<rect x="54.00" y="385.10" width="2.40" height="1.70" fill="url(#shade)"/>
<rect x="58.10" y="384.50" width="2.40" height="2.30" fill="url(#gB)"/>
<ellipse cx="59.30" cy="384.50" rx="1.20" ry="0.7" fill="#a8b0d4"/>
<ellipse cx="59.30" cy="386.80" rx="1.20" ry="0.7" fill="#6c7aa0"/>
<rect x="58.10" y="384.50" width="2.40" height="2.30" fill="url(#shade)"/>
<rect x="126.40" y="385.10" width="2.40" height="1.70" fill="url(#gG)"/>
<ellipse cx="127.60" cy="385.10" rx="1.20" ry="0.7" fill="#d4daa8"/>
<ellipse cx="127.60" cy="386.80" rx="1.20" ry="0.7" fill="#a2aa74"/>
<rect x="126.40" y="385.10" width="2.40" height="1.70" fill="url(#shade)"/>
<rect x="129.90" y="384.00" width="2.40" height="2.80" fill="url(#gG)"/>
<ellipse cx="131.10" cy="384.00" rx="1.20" ry="0.7" fill="#d4daa8"/>
<ellipse cx="131.10" cy="386.80" rx="1.20" ry="0.7" fill="#a2aa74"/>
<rect x="129.90" y="384.00" width="2.40" height="2.80" fill="url(#shade)"/>
<rect x="126.70" y="384.10" width="2.40" height="2.70" fill="url(#gG)"/>
<ellipse cx="127.90" cy="384.10" rx="1.20" ry="0.7" fill="#d4daa8"/>
<ellipse cx="127.90" cy="386.80" rx="1.20" ry="0.7" fill="#a2aa74"/>
<rect x="126.70" y="384.10" width="2.40" height="2.70" fill="url(#shade)"/>
<rect x="162.30" y="383.30" width="2.40" height="3.80" fill="url(#gP)"/>
<ellipse cx="163.50" cy="383.30" rx="1.20" ry="0.7" fill="#aaa8d4"/>
<ellipse cx="163.50" cy="387.10" rx="1.20" ry="0.7" fill="#76749e"/>
<rect x="162.30" y="383.30" width="2.40" height="3.80" fill="url(#shade)"/>
<rect x="158.30" y="384.40" width="2.40" height="2.70" fill="url(#gP)"/>
<ellipse cx="159.50" cy="384.40" rx="1.20" ry="0.7" fill="#aaa8d4"/>
<ellipse cx="159.50" cy="387.10" rx="1.20" ry="0.7" fill="#76749e"/>
<rect x="158.30" y="384.40" width="2.40" height="2.70" fill="url(#shade)"/>
<rect x="210.40" y="379.00" width="2.80" height="8.20" fill="url(#gO)"/>
<ellipse cx="211.80" cy="379.00" rx="1.40" ry="0.7" fill="#e4c890"/>
<ellipse cx="211.80" cy="387.20" rx="1.40" ry="0.7" fill="#b8965a"/>
<rect x="210.40" y="383.20" width="2.80" height="4.00" fill="url(#shade)"/>
<rect x="212.80" y="380.10" width="2.80" height="7.10" fill="url(#gG)"/>
<ellipse cx="214.20" cy="380.10" rx="1.40" ry="0.7" fill="#d4daa8"/>
<ellipse cx="214.20" cy="387.20" rx="1.40" ry="0.7" fill="#a2aa74"/>
<rect x="212.80" y="383.20" width="2.80" height="4.00" fill="url(#shade)"/>
<rect x="443.40" y="382.60" width="2.40" height="4.60" fill="url(#gP)"/>
<ellipse cx="444.60" cy="382.60" rx="1.20" ry="0.7" fill="#aaa8d4"/>
<ellipse cx="444.60" cy="387.20" rx="1.20" ry="0.7" fill="#76749e"/>
<rect x="443.40" y="383.20" width="2.40" height="4.00" fill="url(#shade)"/>
<rect x="447.50" y="382.00" width="2.40" height="5.20" fill="url(#gP)"/>
<ellipse cx="448.70" cy="382.00" rx="1.20" ry="0.7" fill="#aaa8d4"/>
<ellipse cx="448.70" cy="387.20" rx="1.20" ry="0.7" fill="#76749e"/>
<rect x="447.50" y="383.20" width="2.40" height="4.00" fill="url(#shade)"/>
<rect x="455.60" y="365.70" width="2.80" height="21.50" fill="url(#gP)"/>
<ellipse cx="457.00" cy="365.70" rx="1.40" ry="0.7" fill="#aaa8d4"/>
<ellipse cx="457.00" cy="387.20" rx="1.40" ry="0.7" fill="#76749e"/>
<rect x="455.60" y="383.20" width="2.80" height="4.00" fill="url(#shade)"/>
<rect x="97.70" y="384.10" width="2.40" height="3.40" fill="url(#gR)"/>
<ellipse cx="98.90" cy="384.10" rx="1.20" ry="0.7" fill="#c4a0a0"/>
<ellipse cx="98.90" cy="387.50" rx="1.20" ry="0.7" fill="#886464"/>
<rect x="97.70" y="384.10" width="2.40" height="3.40" fill="url(#shade)"/>
<rect x="343.40" y="385.20" width="2.40" height="2.30" fill="url(#gB)"/>
<ellipse cx="344.60" cy="385.20" rx="1.20" ry="0.7" fill="#a8b0d4"/>
<ellipse cx="344.60" cy="387.50" rx="1.20" ry="0.7" fill="#6c7aa0"/>
<rect x="343.40" y="385.20" width="2.40" height="2.30" fill="url(#shade)"/>
<rect x="166.30" y="385.00" width="2.40" height="3.00" fill="url(#gP)"/>
<ellipse cx="167.50" cy="385.00" rx="1.20" ry="0.7" fill="#aaa8d4"/>
<ellipse cx="167.50" cy="388.00" rx="1.20" ry="0.7" fill="#76749e"/>
<rect x="166.30" y="385.00" width="2.40" height="3.00" fill="url(#shade)"/>
<rect x="351.00" y="383.40" width="2.40" height="4.70" fill="url(#gB)"/>
<ellipse cx="352.20" cy="383.40" rx="1.20" ry="0.7" fill="#a8b0d4"/>
<ellipse cx="352.20" cy="388.10" rx="1.20" ry="0.7" fill="#6c7aa0"/>
<rect x="351.00" y="384.10" width="2.40" height="4.00" fill="url(#shade)"/>
<rect x="423.00" y="382.60" width="2.40" height="5.80" fill="url(#gG)"/>
<ellipse cx="424.20" cy="382.60" rx="1.20" ry="0.7" fill="#d4daa8"/>
<ellipse cx="424.20" cy="388.40" rx="1.20" ry="0.7" fill="#a2aa74"/>
<rect x="423.00" y="384.40" width="2.40" height="4.00" fill="url(#shade)"/>
<rect x="427.60" y="382.60" width="2.40" height="5.80" fill="url(#gG)"/>
<ellipse cx="428.80" cy="382.60" rx="1.20" ry="0.7" fill="#d4daa8"/>
<ellipse cx="428.80" cy="388.40" rx="1.20" ry="0.7" fill="#a2aa74"/>
<rect x="427.60" y="384.40" width="2.40" height="4.00" fill="url(#shade)"/>
<rect x="451.40" y="376.50" width="2.80" height="11.90" fill="url(#gP)"/>
<ellipse cx="452.80" cy="376.50" rx="1.40" ry="0.7" fill="#aaa8d4"/>
<ellipse cx="452.80" cy="388.40" rx="1.40" ry="0.7" fill="#76749e"/>
<rect x="451.40" y="384.40" width="2.80" height="4.00" fill="url(#shade)"/>
<rect x="460.20" y="347.00" width="2.80" height="41.40" fill="url(#gP)"/>
<ellipse cx="461.60" cy="347.00" rx="1.40" ry="0.7" fill="#aaa8d4"/>
<ellipse cx="461.60" cy="388.40" rx="1.40" ry="0.7" fill="#76749e"/>
<rect x="460.20" y="384.40" width="2.80" height="4.00" fill="url(#shade)"/>
<rect x="463.60" y="376.80" width="2.80" height="11.60" fill="url(#gP)"/>
<ellipse cx="465.00" cy="376.80" rx="1.40" ry="0.7" fill="#aaa8d4"/>
<ellipse cx="465.00" cy="388.40" rx="1.40" ry="0.7" fill="#76749e"/>
<rect x="463.60" y="384.40" width="2.80" height="4.00" fill="url(#shade)"/>
<rect x="170.10" y="374.30" width="2.80" height="14.20" fill="url(#gP)"/>
<ellipse cx="171.50" cy="374.30" rx="1.40" ry="0.7" fill="#aaa8d4"/>
<ellipse cx="171.50" cy="388.50" rx="1.40" ry="0.7" fill="#76749e"/>
<rect x="170.10" y="384.50" width="2.80" height="4.00" fill="url(#shade)"/>
<rect x="173.90" y="378.40" width="2.80" height="10.10" fill="url(#gC)"/>
<ellipse cx="175.30" cy="378.40" rx="1.40" ry="0.7" fill="#c6deea"/>
<ellipse cx="175.30" cy="388.50" rx="1.40" ry="0.7" fill="#8cb0c4"/>
<rect x="173.90" y="384.50" width="2.80" height="4.00" fill="url(#shade)"/>
<rect x="137.50" y="386.30" width="2.40" height="2.30" fill="url(#gG)"/>
<ellipse cx="138.70" cy="386.30" rx="1.20" ry="0.7" fill="#d4daa8"/>
<ellipse cx="138.70" cy="388.60" rx="1.20" ry="0.7" fill="#a2aa74"/>
<rect x="137.50" y="386.30" width="2.40" height="2.30" fill="url(#shade)"/>
<rect x="105.80" y="385.50" width="2.40" height="3.30" fill="url(#gR)"/>
<ellipse cx="107.00" cy="385.50" rx="1.20" ry="0.7" fill="#c4a0a0"/>
<ellipse cx="107.00" cy="388.80" rx="1.20" ry="0.7" fill="#886464"/>
<rect x="105.80" y="385.50" width="2.40" height="3.30" fill="url(#shade)"/>
<rect x="109.20" y="386.20" width="2.40" height="2.60" fill="url(#gR)"/>
<ellipse cx="110.40" cy="386.20" rx="1.20" ry="0.7" fill="#c4a0a0"/>
<ellipse cx="110.40" cy="388.80" rx="1.20" ry="0.7" fill="#886464"/>
<rect x="109.20" y="386.20" width="2.40" height="2.60" fill="url(#shade)"/>
<rect x="146.90" y="386.30" width="2.40" height="2.90" fill="url(#gG)"/>
<ellipse cx="148.10" cy="386.30" rx="1.20" ry="0.7" fill="#d4daa8"/>
<ellipse cx="148.10" cy="389.20" rx="1.20" ry="0.7" fill="#a2aa74"/>
<rect x="146.90" y="386.30" width="2.40" height="2.90" fill="url(#shade)"/>
<rect x="359.00" y="381.10" width="2.80" height="8.20" fill="url(#gB)"/>
<ellipse cx="360.40" cy="381.10" rx="1.40" ry="0.7" fill="#a8b0d4"/>
<ellipse cx="360.40" cy="389.30" rx="1.40" ry="0.7" fill="#6c7aa0"/>
<rect x="359.00" y="385.30" width="2.80" height="4.00" fill="url(#shade)"/>
<rect x="472.00" y="343.70" width="2.80" height="45.60" fill="url(#gP)"/>
<ellipse cx="473.40" cy="343.70" rx="1.40" ry="0.7" fill="#aaa8d4"/>
<ellipse cx="473.40" cy="389.30" rx="1.40" ry="0.7" fill="#76749e"/>
<rect x="472.00" y="385.30" width="2.80" height="4.00" fill="url(#shade)"/>
<rect x="475.30" y="375.30" width="2.80" height="14.00" fill="url(#gP)"/>
<ellipse cx="476.70" cy="375.30" rx="1.40" ry="0.7" fill="#aaa8d4"/>
<ellipse cx="476.70" cy="389.30" rx="1.40" ry="0.7" fill="#76749e"/>
<rect x="475.30" y="385.30" width="2.80" height="4.00" fill="url(#shade)"/>
<rect x="496.60" y="383.70" width="2.40" height="5.60" fill="url(#gC)"/>
<ellipse cx="497.80" cy="383.70" rx="1.20" ry="0.7" fill="#c6deea"/>
<ellipse cx="497.80" cy="389.30" rx="1.20" ry="0.7" fill="#8cb0c4"/>
<rect x="496.60" y="385.30" width="2.40" height="4.00" fill="url(#shade)"/>
<rect x="243.00" y="384.90" width="2.40" height="4.70" fill="url(#gO)"/>
<ellipse cx="244.20" cy="384.90" rx="1.20" ry="0.7" fill="#e4c890"/>
<ellipse cx="244.20" cy="389.60" rx="1.20" ry="0.7" fill="#b8965a"/>
<rect x="243.00" y="385.60" width="2.40" height="4.00" fill="url(#shade)"/>
<rect x="399.00" y="387.20" width="2.40" height="2.40" fill="url(#gR)"/>
<ellipse cx="400.20" cy="387.20" rx="1.20" ry="0.7" fill="#c4a0a0"/>
<ellipse cx="400.20" cy="389.60" rx="1.20" ry="0.7" fill="#886464"/>
<rect x="399.00" y="387.20" width="2.40" height="2.40" fill="url(#shade)"/>
<rect x="186.40" y="381.30" width="2.80" height="8.50" fill="url(#gP)"/>
<ellipse cx="187.80" cy="381.30" rx="1.40" ry="0.7" fill="#aaa8d4"/>
<ellipse cx="187.80" cy="389.80" rx="1.40" ry="0.7" fill="#76749e"/>
<rect x="186.40" y="385.80" width="2.80" height="4.00" fill="url(#shade)"/>
<rect x="190.50" y="377.80" width="2.80" height="12.00" fill="url(#gP)"/>
<ellipse cx="191.90" cy="377.80" rx="1.40" ry="0.7" fill="#aaa8d4"/>
<ellipse cx="191.90" cy="389.80" rx="1.40" ry="0.7" fill="#76749e"/>
<rect x="190.50" y="385.80" width="2.80" height="4.00" fill="url(#shade)"/>
<rect x="146.20" y="387.10" width="2.40" height="2.70" fill="url(#gG)"/>
<ellipse cx="147.40" cy="387.10" rx="1.20" ry="0.7" fill="#d4daa8"/>
<ellipse cx="147.40" cy="389.80" rx="1.20" ry="0.7" fill="#a2aa74"/>
<rect x="146.20" y="387.10" width="2.40" height="2.70" fill="url(#shade)"/>
<rect x="150.20" y="387.80" width="2.40" height="2.00" fill="url(#gG)"/>
<ellipse cx="151.40" cy="387.80" rx="1.20" ry="0.7" fill="#d4daa8"/>
<ellipse cx="151.40" cy="389.80" rx="1.20" ry="0.7" fill="#a2aa74"/>
<rect x="150.20" y="387.80" width="2.40" height="2.00" fill="url(#shade)"/>
<rect x="363.30" y="387.50" width="2.40" height="2.40" fill="url(#gB)"/>
<ellipse cx="364.50" cy="387.50" rx="1.20" ry="0.7" fill="#a8b0d4"/>
<ellipse cx="364.50" cy="389.90" rx="1.20" ry="0.7" fill="#6c7aa0"/>
<rect x="363.30" y="387.50" width="2.40" height="2.40" fill="url(#shade)"/>
<rect x="367.40" y="387.50" width="2.40" height="2.40" fill="url(#gB)"/>
<ellipse cx="368.60" cy="387.50" rx="1.20" ry="0.7" fill="#a8b0d4"/>
<ellipse cx="368.60" cy="389.90" rx="1.20" ry="0.7" fill="#6c7aa0"/>
<rect x="367.40" y="387.50" width="2.40" height="2.40" fill="url(#shade)"/>
<rect x="117.90" y="388.20" width="2.40" height="2.00" fill="url(#gB)"/>
<ellipse cx="119.10" cy="388.20" rx="1.20" ry="0.7" fill="#a8b0d4"/>
<ellipse cx="119.10" cy="390.20" rx="1.20" ry="0.7" fill="#6c7aa0"/>
<rect x="117.90" y="388.20" width="2.40" height="2.00" fill="url(#shade)"/>
<rect x="403.70" y="388.40" width="2.40" height="1.80" fill="url(#gR)"/>
<ellipse cx="404.90" cy="388.40" rx="1.20" ry="0.7" fill="#c4a0a0"/>
<ellipse cx="404.90" cy="390.20" rx="1.20" ry="0.7" fill="#886464"/>
<rect x="403.70" y="388.40" width="2.40" height="1.80" fill="url(#shade)"/>
<rect x="207.00" y="369.20" width="2.80" height="21.30" fill="url(#gC)"/>
<ellipse cx="208.40" cy="369.20" rx="1.40" ry="0.7" fill="#c6deea"/>
<ellipse cx="208.40" cy="390.50" rx="1.40" ry="0.7" fill="#8cb0c4"/>
<rect x="207.00" y="386.50" width="2.80" height="4.00" fill="url(#shade)"/>
<rect x="479.60" y="379.50" width="2.80" height="11.20" fill="url(#gP)"/>
<ellipse cx="481.00" cy="379.50" rx="1.40" ry="0.7" fill="#aaa8d4"/>
<ellipse cx="481.00" cy="390.70" rx="1.40" ry="0.7" fill="#76749e"/>
<rect x="479.60" y="386.70" width="2.80" height="4.00" fill="url(#shade)"/>
<rect x="484.50" y="375.30" width="2.80" height="15.40" fill="url(#gP)"/>
<ellipse cx="485.90" cy="375.30" rx="1.40" ry="0.7" fill="#aaa8d4"/>
<ellipse cx="485.90" cy="390.70" rx="1.40" ry="0.7" fill="#76749e"/>
<rect x="484.50" y="386.70" width="2.80" height="4.00" fill="url(#shade)"/>
<rect x="488.90" y="385.10" width="2.40" height="5.60" fill="url(#gC)"/>
<ellipse cx="490.10" cy="385.10" rx="1.20" ry="0.7" fill="#c6deea"/>
<ellipse cx="490.10" cy="390.70" rx="1.20" ry="0.7" fill="#8cb0c4"/>
<rect x="488.90" y="386.70" width="2.40" height="4.00" fill="url(#shade)"/>
<rect x="456.30" y="387.80" width="2.40" height="3.00" fill="url(#gG)"/>
<ellipse cx="457.50" cy="387.80" rx="1.20" ry="0.7" fill="#d4daa8"/>
<ellipse cx="457.50" cy="390.80" rx="1.20" ry="0.7" fill="#a2aa74"/>
<rect x="456.30" y="387.80" width="2.40" height="3.00" fill="url(#shade)"/>
<rect x="85.60" y="388.80" width="2.40" height="2.10" fill="url(#gB)"/>
<ellipse cx="86.80" cy="388.80" rx="1.20" ry="0.7" fill="#a8b0d4"/>
<ellipse cx="86.80" cy="390.90" rx="1.20" ry="0.7" fill="#6c7aa0"/>
<rect x="85.60" y="388.80" width="2.40" height="2.10" fill="url(#shade)"/>
<rect x="194.80" y="377.80" width="2.80" height="13.40" fill="url(#gP)"/>
<ellipse cx="196.20" cy="377.80" rx="1.40" ry="0.7" fill="#aaa8d4"/>
<ellipse cx="196.20" cy="391.20" rx="1.40" ry="0.7" fill="#76749e"/>
<rect x="194.80" y="387.20" width="2.80" height="4.00" fill="url(#shade)"/>
<rect x="198.90" y="374.30" width="2.80" height="16.90" fill="url(#gP)"/>
<ellipse cx="200.30" cy="374.30" rx="1.40" ry="0.7" fill="#aaa8d4"/>
<ellipse cx="200.30" cy="391.20" rx="1.40" ry="0.7" fill="#76749e"/>
<rect x="198.90" y="387.20" width="2.80" height="4.00" fill="url(#shade)"/>
<rect x="203.90" y="368.60" width="2.80" height="22.60" fill="url(#gP)"/>
<ellipse cx="205.30" cy="368.60" rx="1.40" ry="0.7" fill="#aaa8d4"/>
<ellipse cx="205.30" cy="391.20" rx="1.40" ry="0.7" fill="#76749e"/>
<rect x="203.90" y="387.20" width="2.80" height="4.00" fill="url(#shade)"/>
<rect x="379.10" y="387.80" width="2.40" height="3.50" fill="url(#gB)"/>
<ellipse cx="380.30" cy="387.80" rx="1.20" ry="0.7" fill="#a8b0d4"/>
<ellipse cx="380.30" cy="391.30" rx="1.20" ry="0.7" fill="#6c7aa0"/>
<rect x="379.10" y="387.80" width="2.40" height="3.50" fill="url(#shade)"/>
<rect x="411.90" y="389.00" width="2.40" height="2.30" fill="url(#gR)"/>
<ellipse cx="413.10" cy="389.00" rx="1.20" ry="0.7" fill="#c4a0a0"/>
<ellipse cx="413.10" cy="391.30" rx="1.20" ry="0.7" fill="#886464"/>
<rect x="411.90" y="389.00" width="2.40" height="2.30" fill="url(#shade)"/>
<rect x="452.20" y="388.40" width="2.40" height="2.90" fill="url(#gG)"/>
<ellipse cx="453.40" cy="388.40" rx="1.20" ry="0.7" fill="#d4daa8"/>
<ellipse cx="453.40" cy="391.30" rx="1.20" ry="0.7" fill="#a2aa74"/>
<rect x="452.20" y="388.40" width="2.40" height="2.90" fill="url(#shade)"/>
<rect x="93.00" y="389.50" width="2.40" height="2.00" fill="url(#gB)"/>
<ellipse cx="94.20" cy="389.50" rx="1.20" ry="0.7" fill="#a8b0d4"/>
<ellipse cx="94.20" cy="391.50" rx="1.20" ry="0.7" fill="#6c7aa0"/>
<rect x="93.00" y="389.50" width="2.40" height="2.00" fill="url(#shade)"/>
<rect x="101.80" y="386.80" width="2.40" height="4.70" fill="url(#gB)"/>
<ellipse cx="103.00" cy="386.80" rx="1.20" ry="0.7" fill="#a8b0d4"/>
<ellipse cx="103.00" cy="391.50" rx="1.20" ry="0.7" fill="#6c7aa0"/>
<rect x="101.80" y="387.50" width="2.40" height="4.00" fill="url(#shade)"/>
<rect x="167.30" y="389.50" width="2.40" height="2.30" fill="url(#gG)"/>
<ellipse cx="168.50" cy="389.50" rx="1.20" ry="0.7" fill="#d4daa8"/>
<ellipse cx="168.50" cy="391.80" rx="1.20" ry="0.7" fill="#a2aa74"/>
<rect x="167.30" y="389.50" width="2.40" height="2.30" fill="url(#shade)"/>
<rect x="167.10" y="389.80" width="2.40" height="2.00" fill="url(#gG)"/>
<ellipse cx="168.30" cy="389.80" rx="1.20" ry="0.7" fill="#d4daa8"/>
<ellipse cx="168.30" cy="391.80" rx="1.20" ry="0.7" fill="#a2aa74"/>
<rect x="167.10" y="389.80" width="2.40" height="2.00" fill="url(#shade)"/>
<rect x="468.10" y="386.50" width="2.40" height="5.50" fill="url(#gC)"/>
<ellipse cx="469.30" cy="386.50" rx="1.20" ry="0.7" fill="#c6deea"/>
<ellipse cx="469.30" cy="392.00" rx="1.20" ry="0.7" fill="#8cb0c4"/>
<rect x="468.10" y="388.00" width="2.40" height="4.00" fill="url(#shade)"/>
<rect x="492.90" y="371.10" width="2.80" height="21.00" fill="url(#gP)"/>
<ellipse cx="494.30" cy="371.10" rx="1.40" ry="0.7" fill="#aaa8d4"/>
<ellipse cx="494.30" cy="392.10" rx="1.40" ry="0.7" fill="#76749e"/>
<rect x="492.90" y="388.10" width="2.80" height="4.00" fill="url(#shade)"/>
<rect x="105.10" y="390.20" width="2.40" height="2.00" fill="url(#gB)"/>
<ellipse cx="106.30" cy="390.20" rx="1.20" ry="0.7" fill="#a8b0d4"/>
<ellipse cx="106.30" cy="392.20" rx="1.20" ry="0.7" fill="#6c7aa0"/>
<rect x="105.10" y="390.20" width="2.40" height="2.00" fill="url(#shade)"/>
<rect x="134.80" y="390.20" width="2.40" height="2.00" fill="url(#gP)"/>
<ellipse cx="136.00" cy="390.20" rx="1.20" ry="0.7" fill="#aaa8d4"/>
<ellipse cx="136.00" cy="392.20" rx="1.20" ry="0.7" fill="#76749e"/>
<rect x="134.80" y="390.20" width="2.40" height="2.00" fill="url(#shade)"/>
<rect x="138.10" y="390.20" width="2.40" height="2.00" fill="url(#gP)"/>
<ellipse cx="139.30" cy="390.20" rx="1.20" ry="0.7" fill="#aaa8d4"/>
<ellipse cx="139.30" cy="392.20" rx="1.20" ry="0.7" fill="#76749e"/>
<rect x="138.10" y="390.20" width="2.40" height="2.00" fill="url(#shade)"/>
<rect x="109.20" y="390.90" width="2.40" height="2.00" fill="url(#gB)"/>
<ellipse cx="110.40" cy="390.90" rx="1.20" ry="0.7" fill="#a8b0d4"/>
<ellipse cx="110.40" cy="392.90" rx="1.20" ry="0.7" fill="#6c7aa0"/>
<rect x="109.20" y="390.90" width="2.40" height="2.00" fill="url(#shade)"/>
<rect x="216.60" y="346.40" width="2.80" height="46.70" fill="url(#gP)"/>
<ellipse cx="218.00" cy="346.40" rx="1.40" ry="0.7" fill="#aaa8d4"/>
<ellipse cx="218.00" cy="393.10" rx="1.40" ry="0.7" fill="#76749e"/>
<rect x="216.60" y="389.10" width="2.80" height="4.00" fill="url(#shade)"/>
<rect x="220.00" y="386.10" width="2.80" height="7.00" fill="url(#gP)"/>
<ellipse cx="221.40" cy="386.10" rx="1.40" ry="0.7" fill="#aaa8d4"/>
<ellipse cx="221.40" cy="393.10" rx="1.40" ry="0.7" fill="#76749e"/>
<rect x="220.00" y="389.10" width="2.80" height="4.00" fill="url(#shade)"/>
<rect x="224.10" y="386.10" width="2.80" height="7.00" fill="url(#gP)"/>
<ellipse cx="225.50" cy="386.10" rx="1.40" ry="0.7" fill="#aaa8d4"/>
<ellipse cx="225.50" cy="393.10" rx="1.40" ry="0.7" fill="#76749e"/>
<rect x="224.10" y="389.10" width="2.80" height="4.00" fill="url(#shade)"/>
<rect x="229.90" y="383.70" width="2.80" height="9.40" fill="url(#gP)"/>
<ellipse cx="231.30" cy="383.70" rx="1.40" ry="0.7" fill="#aaa8d4"/>
<ellipse cx="231.30" cy="393.10" rx="1.40" ry="0.7" fill="#76749e"/>
<rect x="229.90" y="389.10" width="2.80" height="4.00" fill="url(#shade)"/>
<rect x="387.30" y="391.30" width="2.40" height="1.80" fill="url(#gB)"/>
<ellipse cx="388.50" cy="391.30" rx="1.20" ry="0.7" fill="#a8b0d4"/>
<ellipse cx="388.50" cy="393.10" rx="1.20" ry="0.7" fill="#6c7aa0"/>
<rect x="387.30" y="391.30" width="2.40" height="1.80" fill="url(#shade)"/>
<rect x="391.40" y="391.30" width="2.40" height="1.80" fill="url(#gB)"/>
<ellipse cx="392.60" cy="391.30" rx="1.20" ry="0.7" fill="#a8b0d4"/>
<ellipse cx="392.60" cy="393.10" rx="1.20" ry="0.7" fill="#6c7aa0"/>
<rect x="391.40" y="391.30" width="2.40" height="1.80" fill="url(#shade)"/>
<rect x="394.90" y="389.60" width="2.40" height="3.50" fill="url(#gB)"/>
<ellipse cx="396.10" cy="389.60" rx="1.20" ry="0.7" fill="#a8b0d4"/>
<ellipse cx="396.10" cy="393.10" rx="1.20" ry="0.7" fill="#6c7aa0"/>
<rect x="394.90" y="389.60" width="2.40" height="3.50" fill="url(#shade)"/>
<rect x="427.60" y="391.30" width="2.40" height="1.80" fill="url(#gR)"/>
<ellipse cx="428.80" cy="391.30" rx="1.20" ry="0.7" fill="#c4a0a0"/>
<ellipse cx="428.80" cy="393.10" rx="1.20" ry="0.7" fill="#886464"/>
<rect x="427.60" y="391.30" width="2.40" height="1.80" fill="url(#shade)"/>
<rect x="460.40" y="390.80" width="2.40" height="2.30" fill="url(#gG)"/>
<ellipse cx="461.60" cy="390.80" rx="1.20" ry="0.7" fill="#d4daa8"/>
<ellipse cx="461.60" cy="393.10" rx="1.20" ry="0.7" fill="#a2aa74"/>
<rect x="460.40" y="390.80" width="2.40" height="2.30" fill="url(#shade)"/>
<rect x="468.50" y="388.00" width="2.40" height="5.50" fill="url(#gG)"/>
<ellipse cx="469.70" cy="388.00" rx="1.20" ry="0.7" fill="#d4daa8"/>
<ellipse cx="469.70" cy="393.50" rx="1.20" ry="0.7" fill="#a2aa74"/>
<rect x="468.50" y="389.50" width="2.40" height="4.00" fill="url(#shade)"/>
<rect x="436.40" y="392.00" width="2.40" height="1.70" fill="url(#gR)"/>
<ellipse cx="437.60" cy="392.00" rx="1.20" ry="0.7" fill="#c4a0a0"/>
<ellipse cx="437.60" cy="393.70" rx="1.20" ry="0.7" fill="#886464"/>
<rect x="436.40" y="392.00" width="2.40" height="1.70" fill="url(#shade)"/>
<rect x="146.20" y="391.80" width="2.40" height="2.00" fill="url(#gR)"/>
<ellipse cx="147.40" cy="391.80" rx="1.20" ry="0.7" fill="#c4a0a0"/>
<ellipse cx="147.40" cy="393.80" rx="1.20" ry="0.7" fill="#886464"/>
<rect x="146.20" y="391.80" width="2.40" height="2.00" fill="url(#shade)"/>
<rect x="187.30" y="391.80" width="2.40" height="2.00" fill="url(#gG)"/>
<ellipse cx="188.50" cy="391.80" rx="1.20" ry="0.7" fill="#d4daa8"/>
<ellipse cx="188.50" cy="393.80" rx="1.20" ry="0.7" fill="#a2aa74"/>
<rect x="187.30" y="391.80" width="2.40" height="2.00" fill="url(#shade)"/>
<rect x="183.10" y="392.40" width="2.40" height="1.80" fill="url(#gG)"/>
<ellipse cx="184.30" cy="392.40" rx="1.20" ry="0.7" fill="#d4daa8"/>
<ellipse cx="184.30" cy="394.20" rx="1.20" ry="0.7" fill="#a2aa74"/>
<rect x="183.10" y="392.40" width="2.40" height="1.80" fill="url(#shade)"/>
<rect x="221.30" y="374.50" width="2.80" height="19.80" fill="url(#gY)"/>
<ellipse cx="222.70" cy="374.50" rx="1.40" ry="0.7" fill="#bcbac6"/>
<ellipse cx="222.70" cy="394.30" rx="1.40" ry="0.7" fill="#8c8a9a"/>
<rect x="221.30" y="390.30" width="2.80" height="4.00" fill="url(#shade)"/>
<rect x="227.00" y="387.20" width="2.80" height="7.10" fill="url(#gC)"/>
<ellipse cx="228.40" cy="387.20" rx="1.40" ry="0.7" fill="#c6deea"/>
<ellipse cx="228.40" cy="394.30" rx="1.40" ry="0.7" fill="#8cb0c4"/>
<rect x="227.00" y="390.30" width="2.80" height="4.00" fill="url(#shade)"/>
<rect x="237.60" y="382.60" width="2.80" height="11.70" fill="url(#gP)"/>
<ellipse cx="239.00" cy="382.60" rx="1.40" ry="0.7" fill="#aaa8d4"/>
<ellipse cx="239.00" cy="394.30" rx="1.40" ry="0.7" fill="#76749e"/>
<rect x="237.60" y="390.30" width="2.80" height="4.00" fill="url(#shade)"/>
<rect x="244.20" y="390.80" width="2.40" height="3.50" fill="url(#gP)"/>
<ellipse cx="245.40" cy="390.80" rx="1.20" ry="0.7" fill="#aaa8d4"/>
<ellipse cx="245.40" cy="394.30" rx="1.20" ry="0.7" fill="#76749e"/>
<rect x="244.20" y="390.80" width="2.40" height="3.50" fill="url(#shade)"/>
<rect x="399.00" y="392.50" width="2.40" height="1.80" fill="url(#gB)"/>
<ellipse cx="400.20" cy="392.50" rx="1.20" ry="0.7" fill="#a8b0d4"/>
<ellipse cx="400.20" cy="394.30" rx="1.20" ry="0.7" fill="#6c7aa0"/>
<rect x="399.00" y="392.50" width="2.40" height="1.80" fill="url(#shade)"/>
<rect x="444.00" y="389.60" width="2.40" height="4.70" fill="url(#gR)"/>
<ellipse cx="445.20" cy="389.60" rx="1.20" ry="0.7" fill="#c4a0a0"/>
<ellipse cx="445.20" cy="394.30" rx="1.20" ry="0.7" fill="#886464"/>
<rect x="444.00" y="390.30" width="2.40" height="4.00" fill="url(#shade)"/>
<rect x="448.10" y="388.40" width="2.40" height="5.90" fill="url(#gG)"/>
<ellipse cx="449.30" cy="388.40" rx="1.20" ry="0.7" fill="#d4daa8"/>
<ellipse cx="449.30" cy="394.30" rx="1.20" ry="0.7" fill="#a2aa74"/>
<rect x="448.10" y="390.30" width="2.40" height="4.00" fill="url(#shade)"/>
<rect x="154.30" y="392.50" width="2.40" height="2.00" fill="url(#gR)"/>
<ellipse cx="155.50" cy="392.50" rx="1.20" ry="0.7" fill="#c4a0a0"/>
<ellipse cx="155.50" cy="394.50" rx="1.20" ry="0.7" fill="#886464"/>
<rect x="154.30" y="392.50" width="2.40" height="2.00" fill="url(#shade)"/>
<rect x="183.20" y="391.80" width="2.40" height="2.70" fill="url(#gG)"/>
<ellipse cx="184.40" cy="391.80" rx="1.20" ry="0.7" fill="#d4daa8"/>
<ellipse cx="184.40" cy="394.50" rx="1.20" ry="0.7" fill="#a2aa74"/>
<rect x="183.20" y="391.80" width="2.40" height="2.70" fill="url(#shade)"/>
<rect x="192.60" y="391.80" width="2.40" height="2.70" fill="url(#gG)"/>
<ellipse cx="193.80" cy="391.80" rx="1.20" ry="0.7" fill="#d4daa8"/>
<ellipse cx="193.80" cy="394.50" rx="1.20" ry="0.7" fill="#a2aa74"/>
<rect x="192.60" y="391.80" width="2.40" height="2.70" fill="url(#shade)"/>
<rect x="200.00" y="391.80" width="2.40" height="2.70" fill="url(#gG)"/>
<ellipse cx="201.20" cy="391.80" rx="1.20" ry="0.7" fill="#d4daa8"/>
<ellipse cx="201.20" cy="394.50" rx="1.20" ry="0.7" fill="#a2aa74"/>
<rect x="200.00" y="391.80" width="2.40" height="2.70" fill="url(#shade)"/>
<rect x="473.40" y="390.70" width="2.40" height="4.30" fill="url(#gG)"/>
<ellipse cx="474.60" cy="390.70" rx="1.20" ry="0.7" fill="#d4daa8"/>
<ellipse cx="474.60" cy="395.00" rx="1.20" ry="0.7" fill="#a2aa74"/>
<rect x="473.40" y="391.00" width="2.40" height="4.00" fill="url(#shade)"/>
<rect x="480.50" y="390.70" width="2.40" height="4.30" fill="url(#gG)"/>
<ellipse cx="481.70" cy="390.70" rx="1.20" ry="0.7" fill="#d4daa8"/>
<ellipse cx="481.70" cy="395.00" rx="1.20" ry="0.7" fill="#a2aa74"/>
<rect x="480.50" y="391.00" width="2.40" height="4.00" fill="url(#shade)"/>
<rect x="163.00" y="389.80" width="2.40" height="5.40" fill="url(#gR)"/>
<ellipse cx="164.20" cy="389.80" rx="1.20" ry="0.7" fill="#c4a0a0"/>
<ellipse cx="164.20" cy="395.20" rx="1.20" ry="0.7" fill="#886464"/>
<rect x="163.00" y="391.20" width="2.40" height="4.00" fill="url(#shade)"/>
<rect x="204.80" y="393.20" width="2.40" height="2.00" fill="url(#gG)"/>
<ellipse cx="206.00" cy="393.20" rx="1.20" ry="0.7" fill="#d4daa8"/>
<ellipse cx="206.00" cy="395.20" rx="1.20" ry="0.7" fill="#a2aa74"/>
<rect x="204.80" y="393.20" width="2.40" height="2.00" fill="url(#shade)"/>
<rect x="213.60" y="382.60" width="2.80" height="12.80" fill="url(#gG)"/>
<ellipse cx="215.00" cy="382.60" rx="1.40" ry="0.7" fill="#d4daa8"/>
<ellipse cx="215.00" cy="395.40" rx="1.40" ry="0.7" fill="#a2aa74"/>
<rect x="213.60" y="391.40" width="2.80" height="4.00" fill="url(#shade)"/>
<rect x="240.10" y="389.60" width="2.40" height="5.80" fill="url(#gC)"/>
<ellipse cx="241.30" cy="389.60" rx="1.20" ry="0.7" fill="#c6deea"/>
<ellipse cx="241.30" cy="395.40" rx="1.20" ry="0.7" fill="#8cb0c4"/>
<rect x="240.10" y="391.40" width="2.40" height="4.00" fill="url(#shade)"/>
<rect x="129.40" y="393.60" width="2.40" height="2.00" fill="url(#gB)"/>
<ellipse cx="130.60" cy="393.60" rx="1.20" ry="0.7" fill="#a8b0d4"/>
<ellipse cx="130.60" cy="395.60" rx="1.20" ry="0.7" fill="#6c7aa0"/>
<rect x="129.40" y="393.60" width="2.40" height="2.00" fill="url(#shade)"/>
<rect x="416.00" y="394.30" width="2.40" height="1.70" fill="url(#gB)"/>
<ellipse cx="417.20" cy="394.30" rx="1.20" ry="0.7" fill="#a8b0d4"/>
<ellipse cx="417.20" cy="396.00" rx="1.20" ry="0.7" fill="#6c7aa0"/>
<rect x="416.00" y="394.30" width="2.40" height="1.70" fill="url(#shade)"/>
<rect x="489.60" y="390.70" width="2.40" height="5.60" fill="url(#gG)"/>
<ellipse cx="490.80" cy="390.70" rx="1.20" ry="0.7" fill="#d4daa8"/>
<ellipse cx="490.80" cy="396.30" rx="1.20" ry="0.7" fill="#a2aa74"/>
<rect x="489.60" y="392.30" width="2.40" height="4.00" fill="url(#shade)"/>
<rect x="465.00" y="392.10" width="2.40" height="4.20" fill="url(#gR)"/>
<ellipse cx="466.20" cy="392.10" rx="1.20" ry="0.7" fill="#c4a0a0"/>
<ellipse cx="466.20" cy="396.30" rx="1.20" ry="0.7" fill="#886464"/>
<rect x="465.00" y="392.30" width="2.40" height="4.00" fill="url(#shade)"/>
<rect x="167.10" y="393.80" width="2.40" height="2.70" fill="url(#gR)"/>
<ellipse cx="168.30" cy="393.80" rx="1.20" ry="0.7" fill="#c4a0a0"/>
<ellipse cx="168.30" cy="396.50" rx="1.20" ry="0.7" fill="#886464"/>
<rect x="167.10" y="393.80" width="2.40" height="2.70" fill="url(#shade)"/>
<rect x="420.10" y="394.90" width="2.40" height="1.70" fill="url(#gB)"/>
<ellipse cx="421.30" cy="394.90" rx="1.20" ry="0.7" fill="#a8b0d4"/>
<ellipse cx="421.30" cy="396.60" rx="1.20" ry="0.7" fill="#6c7aa0"/>
<rect x="420.10" y="394.90" width="2.40" height="1.70" fill="url(#shade)"/>
<rect x="456.30" y="394.30" width="2.40" height="2.30" fill="url(#gR)"/>
<ellipse cx="457.50" cy="394.30" rx="1.20" ry="0.7" fill="#c4a0a0"/>
<ellipse cx="457.50" cy="396.60" rx="1.20" ry="0.7" fill="#886464"/>
<rect x="456.30" y="394.30" width="2.40" height="2.30" fill="url(#shade)"/>
<rect x="464.50" y="392.50" width="2.40" height="4.70" fill="url(#gR)"/>
<ellipse cx="465.70" cy="392.50" rx="1.20" ry="0.7" fill="#c4a0a0"/>
<ellipse cx="465.70" cy="397.20" rx="1.20" ry="0.7" fill="#886464"/>
<rect x="464.50" y="393.20" width="2.40" height="4.00" fill="url(#shade)"/>
<rect x="217.80" y="396.00" width="2.40" height="1.80" fill="url(#gR)"/>
<ellipse cx="219.00" cy="396.00" rx="1.20" ry="0.7" fill="#c4a0a0"/>
<ellipse cx="219.00" cy="397.80" rx="1.20" ry="0.7" fill="#886464"/>
<rect x="217.80" y="396.00" width="2.40" height="1.80" fill="url(#shade)"/>
<rect x="222.50" y="394.90" width="2.40" height="2.90" fill="url(#gG)"/>
<ellipse cx="223.70" cy="394.90" rx="1.20" ry="0.7" fill="#d4daa8"/>
<ellipse cx="223.70" cy="397.80" rx="1.20" ry="0.7" fill="#a2aa74"/>
<rect x="222.50" y="394.90" width="2.40" height="2.90" fill="url(#shade)"/>
<rect x="234.00" y="382.60" width="2.80" height="15.20" fill="url(#gO)"/>
<ellipse cx="235.40" cy="382.60" rx="1.40" ry="0.7" fill="#e4c890"/>
<ellipse cx="235.40" cy="397.80" rx="1.40" ry="0.7" fill="#b8965a"/>
<rect x="234.00" y="393.80" width="2.80" height="4.00" fill="url(#shade)"/>
<rect x="184.60" y="395.90" width="2.40" height="2.00" fill="url(#gB)"/>
<ellipse cx="185.80" cy="395.90" rx="1.20" ry="0.7" fill="#a8b0d4"/>
<ellipse cx="185.80" cy="397.90" rx="1.20" ry="0.7" fill="#6c7aa0"/>
<rect x="184.60" y="395.90" width="2.40" height="2.00" fill="url(#shade)"/>
<rect x="226.00" y="395.40" width="2.40" height="3.00" fill="url(#gG)"/>
<ellipse cx="227.20" cy="395.40" rx="1.20" ry="0.7" fill="#d4daa8"/>
<ellipse cx="227.20" cy="398.40" rx="1.20" ry="0.7" fill="#a2aa74"/>
<rect x="226.00" y="395.40" width="2.40" height="3.00" fill="url(#shade)"/>
<rect x="474.10" y="396.30" width="2.40" height="2.20" fill="url(#gR)"/>
<ellipse cx="475.30" cy="396.30" rx="1.20" ry="0.7" fill="#c4a0a0"/>
<ellipse cx="475.30" cy="398.50" rx="1.20" ry="0.7" fill="#886464"/>
<rect x="474.10" y="396.30" width="2.40" height="2.20" fill="url(#shade)"/>
<rect x="234.80" y="394.30" width="2.40" height="4.70" fill="url(#gG)"/>
<ellipse cx="236.00" cy="394.30" rx="1.20" ry="0.7" fill="#d4daa8"/>
<ellipse cx="236.00" cy="399.00" rx="1.20" ry="0.7" fill="#a2aa74"/>
<rect x="234.80" y="395.00" width="2.40" height="4.00" fill="url(#shade)"/>
<rect x="444.60" y="396.60" width="2.40" height="2.40" fill="url(#gB)"/>
<ellipse cx="445.80" cy="396.60" rx="1.20" ry="0.7" fill="#a8b0d4"/>
<ellipse cx="445.80" cy="399.00" rx="1.20" ry="0.7" fill="#6c7aa0"/>
<rect x="444.60" y="396.60" width="2.40" height="2.40" fill="url(#shade)"/>
<rect x="196.50" y="393.20" width="2.80" height="6.00" fill="url(#gR)"/>
<ellipse cx="197.90" cy="393.20" rx="1.40" ry="0.7" fill="#c4a0a0"/>
<ellipse cx="197.90" cy="399.20" rx="1.40" ry="0.7" fill="#886464"/>
<rect x="196.50" y="395.20" width="2.80" height="4.00" fill="url(#shade)"/>
<rect x="486.10" y="396.30" width="2.40" height="2.90" fill="url(#gR)"/>
<ellipse cx="487.30" cy="396.30" rx="1.20" ry="0.7" fill="#c4a0a0"/>
<ellipse cx="487.30" cy="399.20" rx="1.20" ry="0.7" fill="#886464"/>
<rect x="486.10" y="396.30" width="2.40" height="2.90" fill="url(#shade)"/>
<rect x="231.30" y="396.60" width="2.40" height="2.90" fill="url(#gG)"/>
<ellipse cx="232.50" cy="396.60" rx="1.20" ry="0.7" fill="#d4daa8"/>
<ellipse cx="232.50" cy="399.50" rx="1.20" ry="0.7" fill="#a2aa74"/>
<rect x="231.30" y="396.60" width="2.40" height="2.90" fill="url(#shade)"/>
<rect x="159.00" y="397.20" width="2.40" height="2.70" fill="url(#gB)"/>
<ellipse cx="160.20" cy="397.20" rx="1.20" ry="0.7" fill="#a8b0d4"/>
<ellipse cx="160.20" cy="399.90" rx="1.20" ry="0.7" fill="#6c7aa0"/>
<rect x="159.00" y="397.20" width="2.40" height="2.70" fill="url(#shade)"/>
<rect x="200.70" y="397.20" width="2.40" height="2.70" fill="url(#gR)"/>
<ellipse cx="201.90" cy="397.20" rx="1.20" ry="0.7" fill="#c4a0a0"/>
<ellipse cx="201.90" cy="399.90" rx="1.20" ry="0.7" fill="#886464"/>
<rect x="200.70" y="397.20" width="2.40" height="2.70" fill="url(#shade)"/>
<rect x="210.20" y="395.40" width="2.40" height="4.70" fill="url(#gR)"/>
<ellipse cx="211.40" cy="395.40" rx="1.20" ry="0.7" fill="#c4a0a0"/>
<ellipse cx="211.40" cy="400.10" rx="1.20" ry="0.7" fill="#886464"/>
<rect x="210.20" y="396.10" width="2.40" height="4.00" fill="url(#shade)"/>
<rect x="238.90" y="399.00" width="2.40" height="1.10" fill="url(#gC)"/>
<ellipse cx="240.10" cy="399.00" rx="1.20" ry="0.7" fill="#c6deea"/>
<ellipse cx="240.10" cy="400.10" rx="1.20" ry="0.7" fill="#8cb0c4"/>
<rect x="238.90" y="399.00" width="2.40" height="1.10" fill="url(#shade)"/>
<rect x="452.80" y="398.40" width="2.40" height="1.70" fill="url(#gB)"/>
<ellipse cx="454.00" cy="398.40" rx="1.20" ry="0.7" fill="#a8b0d4"/>
<ellipse cx="454.00" cy="400.10" rx="1.20" ry="0.7" fill="#6c7aa0"/>
<rect x="452.80" y="398.40" width="2.40" height="1.70" fill="url(#shade)"/>
<rect x="461.50" y="397.80" width="2.40" height="2.80" fill="url(#gB)"/>
<ellipse cx="462.70" cy="397.80" rx="1.20" ry="0.7" fill="#a8b0d4"/>
<ellipse cx="462.70" cy="400.60" rx="1.20" ry="0.7" fill="#6c7aa0"/>
<rect x="461.50" y="397.80" width="2.40" height="2.80" fill="url(#shade)"/>
<rect x="461.00" y="399.00" width="2.40" height="1.70" fill="url(#gB)"/>
<ellipse cx="462.20" cy="399.00" rx="1.20" ry="0.7" fill="#a8b0d4"/>
<ellipse cx="462.20" cy="400.70" rx="1.20" ry="0.7" fill="#6c7aa0"/>
<rect x="461.00" y="399.00" width="2.40" height="1.70" fill="url(#shade)"/>
<rect x="179.80" y="399.90" width="2.40" height="2.00" fill="url(#gB)"/>
<ellipse cx="181.00" cy="399.90" rx="1.20" ry="0.7" fill="#a8b0d4"/>
<ellipse cx="181.00" cy="401.90" rx="1.20" ry="0.7" fill="#6c7aa0"/>
<rect x="179.80" y="399.90" width="2.40" height="2.00" fill="url(#shade)"/>
<rect x="465.60" y="399.50" width="2.40" height="2.40" fill="url(#gB)"/>
<ellipse cx="466.80" cy="399.50" rx="1.20" ry="0.7" fill="#a8b0d4"/>
<ellipse cx="466.80" cy="401.90" rx="1.20" ry="0.7" fill="#6c7aa0"/>
<rect x="465.60" y="399.50" width="2.40" height="2.40" fill="url(#shade)"/>
<rect x="223.10" y="400.70" width="2.40" height="1.80" fill="url(#gB)"/>
<ellipse cx="224.30" cy="400.70" rx="1.20" ry="0.7" fill="#a8b0d4"/>
<ellipse cx="224.30" cy="402.50" rx="1.20" ry="0.7" fill="#6c7aa0"/>
<rect x="223.10" y="400.70" width="2.40" height="1.80" fill="url(#shade)"/>
<rect x="465.00" y="399.90" width="2.40" height="2.80" fill="url(#gB)"/>
<ellipse cx="466.20" cy="399.90" rx="1.20" ry="0.7" fill="#a8b0d4"/>
<ellipse cx="466.20" cy="402.70" rx="1.20" ry="0.7" fill="#6c7aa0"/>
<rect x="465.00" y="399.90" width="2.40" height="2.80" fill="url(#shade)"/>
<rect x="474.10" y="400.60" width="2.40" height="2.10" fill="url(#gB)"/>
<ellipse cx="475.30" cy="400.60" rx="1.20" ry="0.7" fill="#a8b0d4"/>
<ellipse cx="475.30" cy="402.70" rx="1.20" ry="0.7" fill="#6c7aa0"/>
<rect x="474.10" y="400.60" width="2.40" height="2.10" fill="url(#shade)"/>
<rect x="189.90" y="400.60" width="2.40" height="2.70" fill="url(#gB)"/>
<ellipse cx="191.10" cy="400.60" rx="1.20" ry="0.7" fill="#a8b0d4"/>
<ellipse cx="191.10" cy="403.30" rx="1.20" ry="0.7" fill="#6c7aa0"/>
<rect x="189.90" y="400.60" width="2.40" height="2.70" fill="url(#shade)"/>
<rect x="193.30" y="399.90" width="2.40" height="3.40" fill="url(#gB)"/>
<ellipse cx="194.50" cy="399.90" rx="1.20" ry="0.7" fill="#a8b0d4"/>
<ellipse cx="194.50" cy="403.30" rx="1.20" ry="0.7" fill="#6c7aa0"/>
<rect x="193.30" y="399.90" width="2.40" height="3.40" fill="url(#shade)"/>
<rect x="231.90" y="401.30" width="2.40" height="2.30" fill="url(#gB)"/>
<ellipse cx="233.10" cy="401.30" rx="1.20" ry="0.7" fill="#a8b0d4"/>
<ellipse cx="233.10" cy="403.60" rx="1.20" ry="0.7" fill="#6c7aa0"/>
<rect x="231.90" y="401.30" width="2.40" height="2.30" fill="url(#shade)"/>
<rect x="482.60" y="401.30" width="2.40" height="2.80" fill="url(#gB)"/>
<ellipse cx="483.80" cy="401.30" rx="1.20" ry="0.7" fill="#a8b0d4"/>
<ellipse cx="483.80" cy="404.10" rx="1.20" ry="0.7" fill="#6c7aa0"/>
<rect x="482.60" y="401.30" width="2.40" height="2.80" fill="url(#shade)"/>
<rect x="206.10" y="402.50" width="2.40" height="2.90" fill="url(#gB)"/>
<ellipse cx="207.30" cy="402.50" rx="1.20" ry="0.7" fill="#a8b0d4"/>
<ellipse cx="207.30" cy="405.40" rx="1.20" ry="0.7" fill="#6c7aa0"/>
<rect x="206.10" y="402.50" width="2.40" height="2.90" fill="url(#shade)"/>
<rect x="207.40" y="403.30" width="2.40" height="2.70" fill="url(#gB)"/>
<ellipse cx="208.60" cy="403.30" rx="1.20" ry="0.7" fill="#a8b0d4"/>
<ellipse cx="208.60" cy="406.00" rx="1.20" ry="0.7" fill="#6c7aa0"/>
<rect x="207.40" y="403.30" width="2.40" height="2.70" fill="url(#shade)"/>
<rect x="220.20" y="404.80" width="2.40" height="2.40" fill="url(#gB)"/>
<ellipse cx="221.40" cy="404.80" rx="1.20" ry="0.7" fill="#a8b0d4"/>
<ellipse cx="221.40" cy="407.20" rx="1.20" ry="0.7" fill="#6c7aa0"/>
<rect x="220.20" y="404.80" width="2.40" height="2.40" fill="url(#shade)"/></g>
<line x1="15.9" y1="29.5" x2="15.9" y2="385.6" stroke="#858585" stroke-width="1.8" stroke-linecap="round"/><circle cx="15.9" cy="29.6" r="1.2" fill="#3a3a3a"/>
<text x="0" y="0" font-size="11.6" fill="#222" transform="translate(9.6,232.6) rotate(-90)" textLength="75" lengthAdjust="spacingAndGlyphs">Frequency (%)</text>
<text x="20.6" y="9.4" font-size="11.5" font-weight="bold" fill="#111">A</text>
<text x="38.7" y="9.9" font-size="12.5" fill="#111" textLength="60" lengthAdjust="spacingAndGlyphs">Transitional</text>
<text x="270.5" y="9.4" font-size="11.5" font-weight="bold" fill="#111">B</text>
<text x="291.6" y="9.9" font-size="12.5" fill="#111" textLength="29.6" lengthAdjust="spacingAndGlyphs">Naive</text>
<text x="20.6" y="275.6" font-size="11.5" font-weight="bold" fill="#111">C</text>
<text x="38.3" y="276.2" font-size="12.5" fill="#111" textLength="97" lengthAdjust="spacingAndGlyphs">Switched memory</text>
<text x="271.3" y="175.8" font-size="11.5" font-weight="bold" fill="#111">D</text>
<text x="293.7" y="176.2" font-size="12.5" fill="#111" textLength="67.3" lengthAdjust="spacingAndGlyphs">IgM memory</text>

</svg></body></html>
